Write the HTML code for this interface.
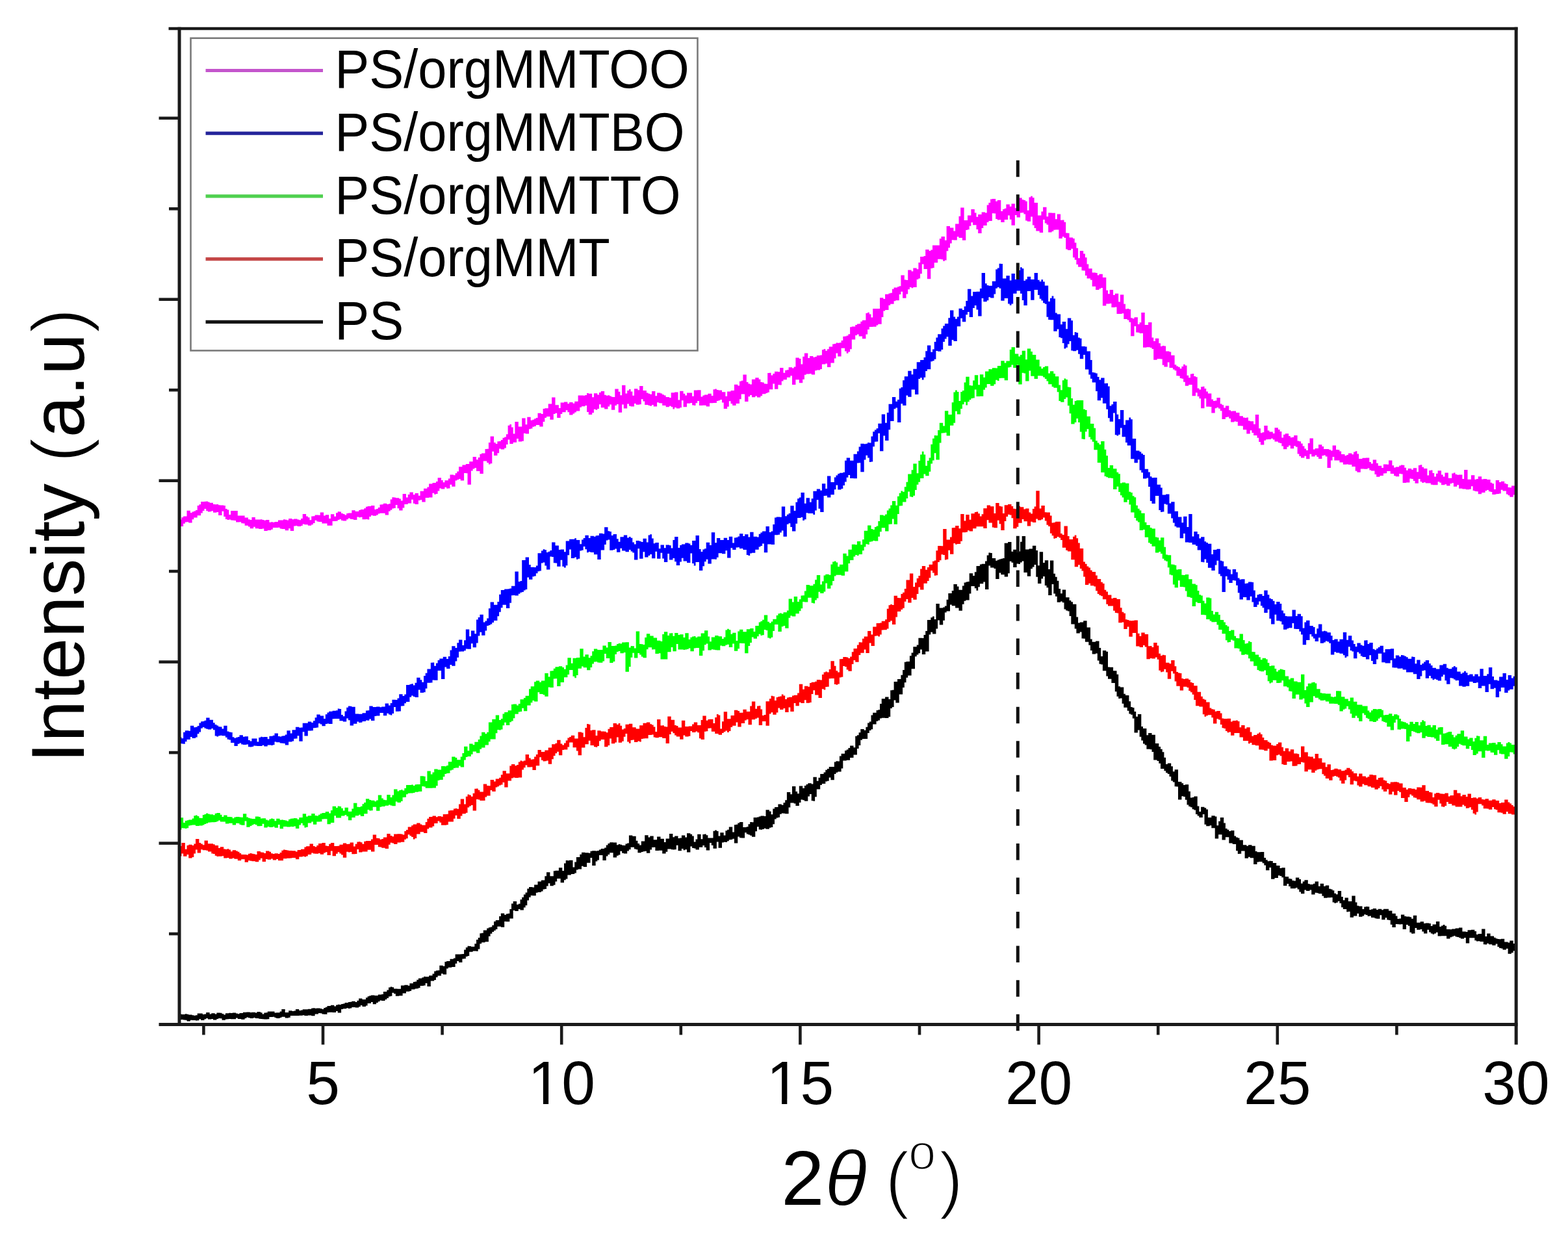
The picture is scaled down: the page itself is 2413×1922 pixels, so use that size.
<!DOCTYPE html>
<html><head><meta charset="utf-8"><title>XRD patterns</title>
<style>html,body{margin:0;padding:0;background:#fff;}svg{display:block;}
text{font-family:"Liberation Sans",Arial,sans-serif;fill:#000;}</style></head>
<body><svg width="2413" height="1922" viewBox="0 0 2413 1922">
<rect width="2413" height="1922" fill="#fff"/>
<path d="M276.7,799.6L279.4,799.6L279.4,796.2L282.1,796.2L282.1,794.5L284.8,794.5L284.8,794.5L287.5,794.5L287.5,785.7L290.2,785.7L290.2,785.7L292.9,785.7L292.9,789.1L295.6,789.1L295.6,787.5L298.3,787.5L298.3,786.5L301.0,786.5L301.0,784.9L303.7,784.9L303.7,778.1L306.4,778.1L306.4,776.3L309.1,776.3L309.1,772.0L311.8,772.0L311.8,772.0L314.5,772.0L314.5,771.8L317.2,771.8L317.2,771.5L319.9,771.5L319.9,772.6L322.6,772.6L322.6,773.7L325.3,773.7L325.3,773.7L328.0,773.7L328.0,776.1L330.7,776.1L330.7,776.3L333.4,776.3L333.4,776.1L336.1,776.1L336.1,777.3L338.8,777.3L338.8,777.5L341.5,777.5L341.5,777.5L344.2,777.5L344.2,778.0L346.9,778.0L346.9,782.9L349.6,782.9L349.6,784.5L352.3,784.5L352.3,792.0L355.0,792.0L355.0,786.1L357.7,786.1L357.7,786.1L360.4,786.1L360.4,786.1L363.1,786.1L363.1,786.1L365.8,786.1L365.8,793.4L368.5,793.4L368.5,793.6L371.2,793.6L371.2,793.4L373.9,793.4L373.9,793.4L376.6,793.4L376.6,796.6L379.3,796.6L379.3,796.6L382.0,796.6L382.0,799.2L384.7,799.2L384.7,799.9L387.4,799.9L387.4,795.9L390.1,795.9L390.1,795.9L392.8,795.9L392.8,799.5L395.5,799.5L395.5,799.4L398.2,799.4L398.2,799.4L400.9,799.4L400.9,799.2L403.6,799.2L403.6,799.9L406.3,799.9L406.3,800.7L409.0,800.7L409.0,800.1L411.7,800.1L411.7,800.1L414.4,800.1L414.4,803.7L417.1,803.7L417.1,803.3L419.8,803.3L419.8,803.8L422.5,803.8L422.5,803.1L425.2,803.1L425.2,803.1L427.9,803.1L427.9,800.5L430.6,800.5L430.6,800.5L433.3,800.5L433.3,800.4L436.0,800.4L436.0,799.3L438.7,799.3L438.7,799.8L441.4,799.8L441.4,800.6L444.1,800.6L444.1,797.9L446.8,797.9L446.8,797.9L449.5,797.9L449.5,799.3L452.2,799.3L452.2,798.4L454.9,798.4L454.9,798.4L457.6,798.4L457.6,799.6L460.3,799.6L460.3,800.2L463.0,800.2L463.0,798.0L465.7,798.0L465.7,791.1L468.4,791.1L468.4,791.1L471.1,791.1L471.1,794.4L473.8,794.4L473.8,796.3L476.5,796.3L476.5,800.2L479.2,800.2L479.2,794.6L481.9,794.6L481.9,794.3L484.6,794.3L484.6,792.5L487.3,792.5L487.3,792.5L490.0,792.5L490.0,792.7L492.7,792.7L492.7,788.5L495.4,788.5L495.4,788.5L498.1,788.5L498.1,793.5L500.8,793.5L500.8,792.3L503.5,792.3L503.5,792.3L506.2,792.3L506.2,797.9L508.9,797.9L508.9,791.2L511.6,791.2L511.6,791.2L514.3,791.2L514.3,794.7L517.0,794.7L517.0,789.2L519.7,789.2L519.7,787.3L522.4,787.3L522.4,787.6L525.1,787.6L525.1,790.1L527.8,790.1L527.8,791.0L530.5,791.0L530.5,792.6L533.2,792.6L533.2,790.1L535.9,790.1L535.9,789.6L538.6,789.6L538.6,789.6L541.3,789.6L541.3,785.3L544.0,785.3L544.0,785.3L546.7,785.3L546.7,787.1L549.4,787.1L549.4,787.1L552.1,787.1L552.1,785.0L554.8,785.0L554.8,784.1L557.5,784.1L557.5,784.1L560.2,784.1L560.2,782.2L562.9,782.2L562.9,779.7L565.6,779.7L565.6,779.0L568.3,779.0L568.3,779.0L571.0,779.0L571.0,778.1L573.7,778.1L573.7,778.1L576.4,778.1L576.4,784.1L579.1,784.1L579.1,783.0L581.8,783.0L581.8,781.0L584.5,781.0L584.5,776.6L587.2,776.6L587.2,776.3L589.9,776.3L589.9,774.8L592.6,774.8L592.6,774.8L595.3,774.8L595.3,775.9L598.0,775.9L598.0,775.3L600.7,775.3L600.7,768.6L603.4,768.6L603.4,765.3L606.1,765.3L606.1,765.6L608.8,765.6L608.8,766.3L611.5,766.3L611.5,766.3L614.2,766.3L614.2,767.5L616.9,767.5L616.9,770.5L619.6,770.5L619.6,760.1L622.3,760.1L622.3,760.1L625.0,760.1L625.0,765.4L627.7,765.4L627.7,760.9L630.4,760.9L630.4,757.6L633.1,757.6L633.1,757.6L635.8,757.6L635.8,761.2L638.5,761.2L638.5,758.9L641.2,758.9L641.2,758.9L643.9,758.9L643.9,762.7L646.6,762.7L646.6,755.7L649.3,755.7L649.3,755.7L652.0,755.7L652.0,751.8L654.7,751.8L654.7,751.8L657.4,751.8L657.4,749.5L660.1,749.5L660.1,744.6L662.8,744.6L662.8,744.6L665.5,744.6L665.5,742.9L668.2,742.9L668.2,742.9L670.9,742.9L670.9,741.1L673.6,741.1L673.6,735.2L676.3,735.2L676.3,735.2L679.0,735.2L679.0,739.1L681.7,739.1L681.7,742.2L684.4,742.2L684.4,739.3L687.1,739.3L687.1,739.3L689.8,739.3L689.8,736.5L692.5,736.5L692.5,730.5L695.2,730.5L695.2,730.5L697.9,730.5L697.9,731.2L700.6,731.2L700.6,728.3L703.3,728.3L703.3,725.4L706.0,725.4L706.0,718.3L708.7,718.3L708.7,718.3L711.4,718.3L711.4,715.4L714.1,715.4L714.1,715.4L716.8,715.4L716.8,714.1L719.5,714.1L719.5,714.1L722.2,714.1L722.2,710.3L724.9,710.3L724.9,710.3L727.6,710.3L727.6,703.0L730.3,703.0L730.3,703.0L733.0,703.0L733.0,707.2L735.7,707.2L735.7,704.0L738.4,704.0L738.4,698.7L741.1,698.7L741.1,697.5L743.8,697.5L743.8,697.5L746.5,697.5L746.5,690.9L749.2,690.9L749.2,690.7L751.9,690.7L751.9,681.0L754.6,681.0L754.6,671.6L757.3,671.6L757.3,671.6L760.0,671.6L760.0,680.9L762.7,680.9L762.7,682.9L765.4,682.9L765.4,679.2L768.1,679.2L768.1,678.9L770.8,678.9L770.8,676.9L773.5,676.9L773.5,673.8L776.2,673.8L776.2,672.5L778.9,672.5L778.9,668.2L781.6,668.2L781.6,654.8L784.3,654.8L784.3,652.9L787.0,652.9L787.0,657.6L789.7,657.6L789.7,667.6L792.4,667.6L792.4,649.0L795.1,649.0L795.1,649.0L797.8,649.0L797.8,656.6L800.5,656.6L800.5,656.4L803.2,656.4L803.2,643.6L805.9,643.6L805.9,643.6L808.6,643.6L808.6,653.3L811.3,653.3L811.3,641.8L814.0,641.8L814.0,641.8L816.7,641.8L816.7,646.8L819.4,646.8L819.4,645.8L822.1,645.8L822.1,644.3L824.8,644.3L824.8,643.1L827.5,643.1L827.5,635.7L830.2,635.7L830.2,635.7L832.9,635.7L832.9,636.9L835.6,636.9L835.6,629.1L838.3,629.1L838.3,628.3L841.0,628.3L841.0,628.3L843.7,628.3L843.7,621.5L846.4,621.5L846.4,621.5L849.1,621.5L849.1,611.5L851.8,611.5L851.8,611.5L854.5,611.5L854.5,623.3L857.2,623.3L857.2,623.3L859.9,623.3L859.9,628.0L862.6,628.0L862.6,619.6L865.3,619.6L865.3,619.6L868.0,619.6L868.0,618.4L870.7,618.4L870.7,618.4L873.4,618.4L873.4,621.3L876.1,621.3L876.1,618.9L878.8,618.9L878.8,618.9L881.5,618.9L881.5,620.8L884.2,620.8L884.2,617.7L886.9,617.7L886.9,617.7L889.6,617.7L889.6,608.6L892.3,608.6L892.3,608.5L895.0,608.5L895.0,608.5L897.7,608.5L897.7,608.8L900.4,608.8L900.4,607.9L903.1,607.9L903.1,605.1L905.8,605.1L905.8,605.8L908.5,605.8L908.5,605.8L911.2,605.8L911.2,611.2L913.9,611.2L913.9,605.3L916.6,605.3L916.6,605.3L919.3,605.3L919.3,607.4L922.0,607.4L922.0,604.0L924.7,604.0L924.7,602.1L927.4,602.1L927.4,602.1L930.1,602.1L930.1,607.8L932.8,607.8L932.8,608.7L935.5,608.7L935.5,608.3L938.2,608.3L938.2,609.4L940.9,609.4L940.9,610.7L943.6,610.7L943.6,611.1L946.3,611.1L946.3,598.4L949.0,598.4L949.0,598.4L951.7,598.4L951.7,602.8L954.4,602.8L954.4,608.2L957.1,608.2L957.1,592.8L959.8,592.8L959.8,592.8L962.5,592.8L962.5,605.4L965.2,605.4L965.2,601.0L967.9,601.0L967.9,599.0L970.6,599.0L970.6,602.5L973.3,602.5L973.3,608.8L976.0,608.8L976.0,598.3L978.7,598.3L978.7,598.3L981.4,598.3L981.4,600.3L984.1,600.3L984.1,594.1L986.8,594.1L986.8,594.1L989.5,594.1L989.5,600.9L992.2,600.9L992.2,600.9L994.9,600.9L994.9,604.4L997.6,604.4L997.6,605.8L1000.3,605.8L1000.3,606.7L1003.0,606.7L1003.0,601.9L1005.7,601.9L1005.7,601.9L1008.4,601.9L1008.4,609.3L1011.1,609.3L1011.1,604.4L1013.8,604.4L1013.8,604.4L1016.5,604.4L1016.5,605.4L1019.2,605.4L1019.2,607.2L1021.9,607.2L1021.9,608.5L1024.6,608.5L1024.6,611.0L1027.3,611.0L1027.3,611.0L1030.0,611.0L1030.0,611.9L1032.7,611.9L1032.7,604.3L1035.4,604.3L1035.4,604.3L1038.1,604.3L1038.1,603.5L1040.8,603.5L1040.8,603.5L1043.5,603.5L1043.5,615.4L1046.2,615.4L1046.2,601.8L1048.9,601.8L1048.9,601.8L1051.6,601.8L1051.6,605.8L1054.3,605.8L1054.3,608.4L1057.0,608.4L1057.0,604.5L1059.7,604.5L1059.7,604.5L1062.4,604.5L1062.4,604.5L1065.1,604.5L1065.1,609.8L1067.8,609.8L1067.8,600.4L1070.5,600.4L1070.5,600.4L1073.2,600.4L1073.2,600.3L1075.9,600.3L1075.9,600.3L1078.6,600.3L1078.6,610.4L1081.3,610.4L1081.3,608.6L1084.0,608.6L1084.0,607.5L1086.7,607.5L1086.7,607.5L1089.4,607.5L1089.4,605.7L1092.1,605.7L1092.1,605.7L1094.8,605.7L1094.8,609.0L1097.5,609.0L1097.5,599.3L1100.2,599.3L1100.2,598.6L1102.9,598.6L1102.9,600.0L1105.6,600.0L1105.6,600.6L1108.3,600.6L1108.3,600.6L1111.0,600.6L1111.0,603.2L1113.7,603.2L1113.7,603.2L1116.4,603.2L1116.4,609.8L1119.1,609.8L1119.1,602.6L1121.8,602.6L1121.8,602.6L1124.5,602.6L1124.5,601.0L1127.2,601.0L1127.2,601.0L1129.9,601.0L1129.9,591.7L1132.6,591.7L1132.6,591.7L1135.3,591.7L1135.3,593.6L1138.0,593.6L1138.0,586.8L1140.7,586.8L1140.7,585.7L1143.4,585.7L1143.4,576.5L1146.1,576.5L1146.1,576.5L1148.8,576.5L1148.8,588.0L1151.5,588.0L1151.5,590.5L1154.2,590.5L1154.2,591.6L1156.9,591.6L1156.9,583.7L1159.6,583.7L1159.6,583.7L1162.3,583.7L1162.3,581.2L1165.0,581.2L1165.0,581.2L1167.7,581.2L1167.7,583.7L1170.4,583.7L1170.4,588.1L1173.1,588.1L1173.1,588.5L1175.8,588.5L1175.8,590.6L1178.5,590.6L1178.5,590.8L1181.2,590.8L1181.2,574.0L1183.9,574.0L1183.9,573.8L1186.6,573.8L1186.6,577.4L1189.3,577.4L1189.3,574.9L1192.0,574.9L1192.0,571.8L1194.7,571.8L1194.7,571.8L1197.4,571.8L1197.4,572.2L1200.1,572.2L1200.1,565.9L1202.8,565.9L1202.8,565.9L1205.5,565.9L1205.5,573.7L1208.2,573.7L1208.2,569.7L1210.9,569.7L1210.9,569.2L1213.6,569.2L1213.6,565.3L1216.3,565.3L1216.3,565.3L1219.0,565.3L1219.0,566.6L1221.7,566.6L1221.7,564.4L1224.4,564.4L1224.4,550.5L1227.1,550.5L1227.1,550.5L1229.8,550.5L1229.8,551.9L1232.5,551.9L1232.5,560.4L1235.2,560.4L1235.2,548.8L1237.9,548.8L1237.9,543.5L1240.6,543.5L1240.6,543.5L1243.3,543.5L1243.3,550.9L1246.0,550.9L1246.0,548.1L1248.7,548.1L1248.7,548.1L1251.4,548.1L1251.4,549.8L1254.1,549.8L1254.1,548.9L1256.8,548.9L1256.8,547.0L1259.5,547.0L1259.5,547.0L1262.2,547.0L1262.2,546.6L1264.9,546.6L1264.9,538.2L1267.6,538.2L1267.6,536.9L1270.3,536.9L1270.3,539.7L1273.0,539.7L1273.0,537.2L1275.7,537.2L1275.7,533.6L1278.4,533.6L1278.4,533.6L1281.1,533.6L1281.1,529.5L1283.8,529.5L1283.8,529.1L1286.5,529.1L1286.5,527.6L1289.2,527.6L1289.2,527.8L1291.9,527.8L1291.9,527.2L1294.6,527.2L1294.6,524.0L1297.3,524.0L1297.3,517.8L1300.0,517.8L1300.0,517.6L1302.7,517.6L1302.7,516.4L1305.4,516.4L1305.4,514.3L1308.1,514.3L1308.1,503.3L1310.8,503.3L1310.8,502.6L1313.5,502.6L1313.5,502.6L1316.2,502.6L1316.2,500.0L1318.9,500.0L1318.9,498.6L1321.6,498.6L1321.6,498.2L1324.3,498.2L1324.3,494.8L1327.0,494.8L1327.0,492.7L1329.7,492.7L1329.7,492.7L1332.4,492.7L1332.4,482.1L1335.1,482.1L1335.1,480.7L1337.8,480.7L1337.8,483.5L1340.5,483.5L1340.5,488.5L1343.2,488.5L1343.2,475.0L1345.9,475.0L1345.9,475.0L1348.6,475.0L1348.6,475.0L1351.3,475.0L1351.3,475.0L1354.0,475.0L1354.0,458.3L1356.7,458.3L1356.7,458.3L1359.4,458.3L1359.4,460.1L1362.1,460.1L1362.1,452.8L1364.8,452.8L1364.8,452.8L1367.5,452.8L1367.5,451.4L1370.2,451.4L1370.2,450.8L1372.9,450.8L1372.9,444.7L1375.6,444.7L1375.6,442.6L1378.3,442.6L1378.3,442.6L1381.0,442.6L1381.0,441.2L1383.7,441.2L1383.7,440.3L1386.4,440.3L1386.4,423.5L1389.1,423.5L1389.1,423.5L1391.8,423.5L1391.8,430.4L1394.5,430.4L1394.5,430.9L1397.2,430.9L1397.2,415.6L1399.9,415.6L1399.9,415.6L1402.6,415.6L1402.6,417.4L1405.3,417.4L1405.3,412.5L1408.0,412.5L1408.0,412.5L1410.7,412.5L1410.7,414.2L1413.4,414.2L1413.4,403.9L1416.1,403.9L1416.1,394.9L1418.8,394.9L1418.8,394.9L1421.5,394.9L1421.5,394.1L1424.2,394.1L1424.2,384.1L1426.9,384.1L1426.9,384.1L1429.6,384.1L1429.6,386.0L1432.3,386.0L1432.3,384.5L1435.0,384.5L1435.0,377.6L1437.7,377.6L1437.7,377.6L1440.4,377.6L1440.4,377.4L1443.1,377.4L1443.1,377.4L1445.8,377.4L1445.8,367.2L1448.5,367.2L1448.5,364.1L1451.2,364.1L1451.2,364.1L1453.9,364.1L1453.9,369.7L1456.6,369.7L1456.6,347.9L1459.3,347.9L1459.3,347.9L1462.0,347.9L1462.0,350.6L1464.7,350.6L1464.7,350.6L1467.4,350.6L1467.4,355.6L1470.1,355.6L1470.1,344.6L1472.8,344.6L1472.8,344.6L1475.5,344.6L1475.5,332.8L1478.2,332.8L1478.2,319.5L1480.9,319.5L1480.9,319.5L1483.6,319.5L1483.6,339.1L1486.3,339.1L1486.3,339.1L1489.0,339.1L1489.0,331.6L1491.7,331.6L1491.7,331.6L1494.4,331.6L1494.4,322.0L1497.1,322.0L1497.1,322.0L1499.8,322.0L1499.8,327.5L1502.5,327.5L1502.5,333.8L1505.2,333.8L1505.2,330.0L1507.9,330.0L1507.9,330.0L1510.6,330.0L1510.6,326.4L1513.3,326.4L1513.3,326.4L1516.0,326.4L1516.0,327.5L1518.7,327.5L1518.7,315.5L1521.4,315.5L1521.4,311.9L1524.1,311.9L1524.1,306.4L1526.8,306.4L1526.8,306.0L1529.5,306.0L1529.5,306.0L1532.2,306.0L1532.2,309.8L1534.9,309.8L1534.9,308.0L1537.6,308.0L1537.6,308.0L1540.3,308.0L1540.3,325.0L1543.0,325.0L1543.0,321.9L1545.7,321.9L1545.7,320.8L1548.4,320.8L1548.4,314.6L1551.1,314.6L1551.1,314.6L1553.8,314.6L1553.8,317.8L1556.5,317.8L1556.5,313.5L1559.2,313.5L1559.2,313.5L1561.9,313.5L1561.9,320.3L1564.6,320.3L1564.6,323.5L1567.3,323.5L1567.3,304.5L1570.0,304.5L1570.0,304.5L1572.7,304.5L1572.7,307.2L1575.4,307.2L1575.4,307.9L1578.1,307.9L1578.1,309.8L1580.8,309.8L1580.8,323.8L1583.5,323.8L1583.5,303.4L1586.2,303.4L1586.2,301.7L1588.9,301.7L1588.9,304.3L1591.6,304.3L1591.6,312.0L1594.3,312.0L1594.3,312.0L1597.0,312.0L1597.0,331.4L1599.7,331.4L1599.7,331.4L1602.4,331.4L1602.4,325.6L1605.1,325.6L1605.1,318.8L1607.8,318.8L1607.8,318.8L1610.5,318.8L1610.5,333.2L1613.2,333.2L1613.2,327.5L1615.9,327.5L1615.9,327.5L1618.6,327.5L1618.6,327.7L1621.3,327.7L1621.3,327.7L1624.0,327.7L1624.0,337.2L1626.7,337.2L1626.7,329.4L1629.4,329.4L1629.4,329.4L1632.1,329.4L1632.1,338.8L1634.8,338.8L1634.8,338.5L1637.5,338.5L1637.5,341.8L1640.2,341.8L1640.2,358.4L1642.9,358.4L1642.9,358.7L1645.6,358.7L1645.6,365.5L1648.3,365.5L1648.3,365.5L1651.0,365.5L1651.0,367.0L1653.7,367.0L1653.7,373.4L1656.4,373.4L1656.4,381.7L1659.1,381.7L1659.1,397.2L1661.8,397.2L1661.8,386.0L1664.5,386.0L1664.5,386.0L1667.2,386.0L1667.2,390.6L1669.9,390.6L1669.9,396.3L1672.6,396.3L1672.6,406.4L1675.3,406.4L1675.3,413.2L1678.0,413.2L1678.0,413.2L1680.7,413.2L1680.7,419.4L1683.4,419.4L1683.4,419.4L1686.1,419.4L1686.1,420.1L1688.8,420.1L1688.8,423.5L1691.5,423.5L1691.5,421.7L1694.2,421.7L1694.2,421.7L1696.9,421.7L1696.9,426.9L1699.6,426.9L1699.6,426.9L1702.3,426.9L1702.3,446.7L1705.0,446.7L1705.0,452.3L1707.7,452.3L1707.7,445.9L1710.4,445.9L1710.4,445.9L1713.1,445.9L1713.1,454.1L1715.8,454.1L1715.8,451.8L1718.5,451.8L1718.5,451.8L1721.2,451.8L1721.2,464.4L1723.9,464.4L1723.9,453.5L1726.6,453.5L1726.6,453.5L1729.3,453.5L1729.3,467.8L1732.0,467.8L1732.0,475.5L1734.7,475.5L1734.7,475.1L1737.4,475.1L1737.4,476.1L1740.1,476.1L1740.1,489.3L1742.8,489.3L1742.8,490.3L1745.5,490.3L1745.5,488.3L1748.2,488.3L1748.2,488.3L1750.9,488.3L1750.9,499.1L1753.6,499.1L1753.6,496.3L1756.3,496.3L1756.3,481.0L1759.0,481.0L1759.0,481.0L1761.7,481.0L1761.7,500.0L1764.4,500.0L1764.4,500.0L1767.1,500.0L1767.1,496.0L1769.8,496.0L1769.8,496.0L1772.5,496.0L1772.5,519.6L1775.2,519.6L1775.2,524.9L1777.9,524.9L1777.9,520.7L1780.6,520.7L1780.6,520.7L1783.3,520.7L1783.3,528.3L1786.0,528.3L1786.0,533.1L1788.7,533.1L1788.7,532.1L1791.4,532.1L1791.4,532.5L1794.1,532.5L1794.1,540.6L1796.8,540.6L1796.8,540.6L1799.5,540.6L1799.5,541.5L1802.2,541.5L1802.2,546.8L1804.9,546.8L1804.9,546.8L1807.6,546.8L1807.6,561.3L1810.3,561.3L1810.3,563.6L1813.0,563.6L1813.0,564.7L1815.7,564.7L1815.7,567.3L1818.4,567.3L1818.4,564.0L1821.1,564.0L1821.1,560.8L1823.8,560.8L1823.8,562.5L1826.5,562.5L1826.5,577.8L1829.2,577.8L1829.2,581.2L1831.9,581.2L1831.9,575.4L1834.6,575.4L1834.6,575.0L1837.3,575.0L1837.3,579.0L1840.0,579.0L1840.0,580.2L1842.7,580.2L1842.7,597.4L1845.4,597.4L1845.4,599.5L1848.1,599.5L1848.1,595.2L1850.8,595.2L1850.8,594.8L1853.5,594.8L1853.5,598.0L1856.2,598.0L1856.2,602.5L1858.9,602.5L1858.9,605.6L1861.6,605.6L1861.6,605.6L1864.3,605.6L1864.3,614.6L1867.0,614.6L1867.0,616.9L1869.7,616.9L1869.7,616.5L1872.4,616.5L1872.4,612.1L1875.1,612.1L1875.1,612.1L1877.8,612.1L1877.8,621.4L1880.5,621.4L1880.5,623.2L1883.2,623.2L1883.2,627.6L1885.9,627.6L1885.9,624.6L1888.6,624.6L1888.6,624.6L1891.3,624.6L1891.3,631.2L1894.0,631.2L1894.0,632.7L1896.7,632.7L1896.7,632.4L1899.4,632.4L1899.4,632.4L1902.1,632.4L1902.1,634.9L1904.8,634.9L1904.8,634.9L1907.5,634.9L1907.5,640.2L1910.2,640.2L1910.2,640.2L1912.9,640.2L1912.9,642.4L1915.6,642.4L1915.6,642.9L1918.3,642.9L1918.3,642.5L1921.0,642.5L1921.0,647.5L1923.7,647.5L1923.7,648.3L1926.4,648.3L1926.4,648.3L1929.1,648.3L1929.1,652.7L1931.8,652.7L1931.8,637.9L1934.5,637.9L1934.5,637.9L1937.2,637.9L1937.2,659.3L1939.9,659.3L1939.9,666.2L1942.6,666.2L1942.6,665.2L1945.3,665.2L1945.3,655.1L1948.0,655.1L1948.0,655.1L1950.7,655.1L1950.7,662.5L1953.4,662.5L1953.4,664.6L1956.1,664.6L1956.1,664.6L1958.8,664.6L1958.8,667.0L1961.5,667.0L1961.5,658.3L1964.2,658.3L1964.2,658.3L1966.9,658.3L1966.9,661.0L1969.6,661.0L1969.6,663.9L1972.3,663.9L1972.3,673.5L1975.0,673.5L1975.0,668.7L1977.7,668.7L1977.7,667.2L1980.4,667.2L1980.4,667.2L1983.1,667.2L1983.1,671.1L1985.8,671.1L1985.8,673.2L1988.5,673.2L1988.5,672.8L1991.2,672.8L1991.2,669.9L1993.9,669.9L1993.9,669.9L1996.6,669.9L1996.6,678.5L1999.3,678.5L1999.3,679.2L2002.0,679.2L2002.0,682.6L2004.7,682.6L2004.7,686.5L2007.4,686.5L2007.4,690.5L2010.1,690.5L2010.1,693.1L2012.8,693.1L2012.8,681.9L2015.5,681.9L2015.5,674.4L2018.2,674.4L2018.2,674.4L2020.9,674.4L2020.9,691.4L2023.6,691.4L2023.6,690.0L2026.3,690.0L2026.3,690.0L2029.0,690.0L2029.0,684.3L2031.7,684.3L2031.7,684.3L2034.4,684.3L2034.4,687.1L2037.1,687.1L2037.1,691.0L2039.8,691.0L2039.8,690.9L2042.5,690.9L2042.5,690.9L2045.2,690.9L2045.2,692.0L2047.9,692.0L2047.9,693.5L2050.6,693.5L2050.6,685.4L2053.3,685.4L2053.3,685.4L2056.0,685.4L2056.0,692.1L2058.7,692.1L2058.7,692.2L2061.4,692.2L2061.4,694.5L2064.1,694.5L2064.1,699.1L2066.8,699.1L2066.8,699.1L2069.5,699.1L2069.5,701.3L2072.2,701.3L2072.2,700.0L2074.9,700.0L2074.9,697.6L2077.6,697.6L2077.6,697.6L2080.3,697.6L2080.3,699.3L2083.0,699.3L2083.0,695.4L2085.7,695.4L2085.7,694.3L2088.4,694.3L2088.4,698.5L2091.1,698.5L2091.1,706.0L2093.8,706.0L2093.8,706.0L2096.5,706.0L2096.5,704.7L2099.2,704.7L2099.2,704.7L2101.9,704.7L2101.9,704.5L2104.6,704.5L2104.6,704.5L2107.3,704.5L2107.3,711.0L2110.0,711.0L2110.0,713.5L2112.7,713.5L2112.7,707.4L2115.4,707.4L2115.4,707.4L2118.1,707.4L2118.1,712.8L2120.8,712.8L2120.8,716.7L2123.5,716.7L2123.5,716.7L2126.2,716.7L2126.2,720.1L2128.9,720.1L2128.9,714.4L2131.6,714.4L2131.6,714.4L2134.3,714.4L2134.3,714.7L2137.0,714.7L2137.0,708.4L2139.7,708.4L2139.7,708.4L2142.4,708.4L2142.4,716.2L2145.1,716.2L2145.1,719.6L2147.8,719.6L2147.8,718.4L2150.5,718.4L2150.5,718.4L2153.2,718.4L2153.2,716.5L2155.9,716.5L2155.9,715.5L2158.6,715.5L2158.6,715.7L2161.3,715.7L2161.3,719.7L2164.0,719.7L2164.0,723.7L2166.7,723.7L2166.7,721.1L2169.4,721.1L2169.4,721.1L2172.1,721.1L2172.1,722.7L2174.8,722.7L2174.8,720.2L2177.5,720.2L2177.5,720.2L2180.2,720.2L2180.2,726.3L2182.9,726.3L2182.9,715.9L2185.6,715.9L2185.6,715.2L2188.3,715.2L2188.3,718.8L2191.0,718.8L2191.0,720.9L2193.7,720.9L2193.7,720.9L2196.4,720.9L2196.4,731.4L2199.1,731.4L2199.1,723.9L2201.8,723.9L2201.8,723.4L2204.5,723.4L2204.5,728.0L2207.2,728.0L2207.2,733.4L2209.9,733.4L2209.9,728.7L2212.6,728.7L2212.6,724.3L2215.3,724.3L2215.3,724.3L2218.0,724.3L2218.0,730.5L2220.7,730.5L2220.7,733.5L2223.4,733.5L2223.4,727.6L2226.1,727.6L2226.1,727.6L2228.8,727.6L2228.8,735.7L2231.5,735.7L2231.5,735.7L2234.2,735.7L2234.2,728.6L2236.9,728.6L2236.9,727.5L2239.6,727.5L2239.6,730.1L2242.3,730.1L2242.3,730.7L2245.0,730.7L2245.0,730.5L2247.7,730.5L2247.7,730.5L2250.4,730.5L2250.4,737.0L2253.1,737.0L2253.1,723.0L2255.8,723.0L2255.8,723.0L2258.5,723.0L2258.5,737.8L2261.2,737.8L2261.2,737.8L2263.9,737.8L2263.9,731.3L2266.6,731.3L2266.6,731.3L2269.3,731.3L2269.3,737.8L2272.0,737.8L2272.0,736.9L2274.7,736.9L2274.7,733.2L2277.4,733.2L2277.4,733.2L2280.1,733.2L2280.1,737.4L2282.8,737.4L2282.8,737.0L2285.5,737.0L2285.5,737.0L2288.2,737.0L2288.2,737.9L2290.9,737.9L2290.9,738.0L2293.6,738.0L2293.6,742.7L2296.3,742.7L2296.3,744.2L2299.0,744.2L2299.0,753.1L2301.7,753.1L2301.7,739.1L2304.4,739.1L2304.4,739.1L2307.1,739.1L2307.1,742.0L2309.8,742.0L2309.8,740.8L2312.5,740.8L2312.5,740.8L2315.2,740.8L2315.2,744.1L2317.9,744.1L2317.9,745.1L2320.6,745.1L2320.6,749.9L2323.3,749.9L2323.3,750.2L2326.0,750.2L2326.0,747.5L2328.7,747.5L2328.7,747.5L2331.4,747.5L2331.4,752.4L2333.0,752.4L2333.0,760.5L2331.4,760.5L2331.4,761.5L2328.7,761.5L2328.7,764.8L2326.0,764.8L2326.0,764.8L2323.3,764.8L2323.3,762.2L2320.6,762.2L2320.6,760.4L2317.9,760.4L2317.9,755.4L2315.2,755.4L2315.2,755.4L2312.5,755.4L2312.5,753.7L2309.8,753.7L2309.8,759.6L2307.1,759.6L2307.1,760.1L2304.4,760.1L2304.4,760.3L2301.7,760.3L2301.7,760.9L2299.0,760.9L2299.0,760.9L2296.3,760.9L2296.3,756.9L2293.6,756.9L2293.6,756.2L2290.9,756.2L2290.9,753.9L2288.2,753.9L2288.2,755.2L2285.5,755.2L2285.5,758.1L2282.8,758.1L2282.8,758.1L2280.1,758.1L2280.1,760.2L2277.4,760.2L2277.4,760.2L2274.7,760.2L2274.7,756.2L2272.0,756.2L2272.0,755.9L2269.3,755.9L2269.3,754.9L2266.6,754.9L2266.6,748.2L2263.9,748.2L2263.9,752.7L2261.2,752.7L2261.2,753.3L2258.5,753.3L2258.5,753.3L2255.8,753.3L2255.8,752.5L2253.1,752.5L2253.1,752.5L2250.4,752.5L2250.4,751.8L2247.7,751.8L2247.7,751.8L2245.0,751.8L2245.0,746.3L2242.3,746.3L2242.3,748.7L2239.6,748.7L2239.6,748.7L2236.9,748.7L2236.9,743.2L2234.2,743.2L2234.2,744.2L2231.5,744.2L2231.5,747.5L2228.8,747.5L2228.8,747.5L2226.1,747.5L2226.1,745.2L2223.4,745.2L2223.4,746.3L2220.7,746.3L2220.7,746.3L2218.0,746.3L2218.0,742.7L2215.3,742.7L2215.3,741.2L2212.6,741.2L2212.6,746.3L2209.9,746.3L2209.9,746.3L2207.2,746.3L2207.2,746.2L2204.5,746.2L2204.5,745.7L2201.8,745.7L2201.8,743.4L2199.1,743.4L2199.1,743.5L2196.4,743.5L2196.4,743.5L2193.7,743.5L2193.7,742.2L2191.0,742.2L2191.0,743.0L2188.3,743.0L2188.3,741.2L2185.6,741.2L2185.6,737.0L2182.9,737.0L2182.9,743.7L2180.2,743.7L2180.2,743.7L2177.5,743.7L2177.5,739.9L2174.8,739.9L2174.8,737.0L2172.1,737.0L2172.1,736.6L2169.4,736.6L2169.4,742.6L2166.7,742.6L2166.7,742.6L2164.0,742.6L2164.0,743.1L2161.3,743.1L2161.3,743.1L2158.6,743.1L2158.6,729.5L2155.9,729.5L2155.9,729.1L2153.2,729.1L2153.2,733.3L2150.5,733.3L2150.5,733.3L2147.8,733.3L2147.8,732.3L2145.1,732.3L2145.1,728.9L2142.4,728.9L2142.4,728.9L2139.7,728.9L2139.7,725.0L2137.0,725.0L2137.0,725.0L2134.3,725.0L2134.3,728.3L2131.6,728.3L2131.6,728.4L2128.9,728.4L2128.9,732.0L2126.2,732.0L2126.2,732.0L2123.5,732.0L2123.5,733.8L2120.8,733.8L2120.8,733.8L2118.1,733.8L2118.1,729.9L2115.4,729.9L2115.4,724.6L2112.7,724.6L2112.7,724.6L2110.0,724.6L2110.0,723.6L2107.3,723.6L2107.3,720.4L2104.6,720.4L2104.6,721.8L2101.9,721.8L2101.9,721.8L2099.2,721.8L2099.2,721.5L2096.5,721.5L2096.5,721.5L2093.8,721.5L2093.8,726.7L2091.1,726.7L2091.1,726.8L2088.4,726.8L2088.4,724.7L2085.7,724.7L2085.7,717.9L2083.0,717.9L2083.0,717.9L2080.3,717.9L2080.3,715.1L2077.6,715.1L2077.6,715.1L2074.9,715.1L2074.9,714.6L2072.2,714.6L2072.2,714.7L2069.5,714.7L2069.5,714.7L2066.8,714.7L2066.8,711.4L2064.1,711.4L2064.1,711.4L2061.4,711.4L2061.4,708.6L2058.7,708.6L2058.7,708.6L2056.0,708.6L2056.0,708.6L2053.3,708.6L2053.3,702.9L2050.6,702.9L2050.6,708.4L2047.9,708.4L2047.9,719.9L2045.2,719.9L2045.2,719.9L2042.5,719.9L2042.5,702.6L2039.8,702.6L2039.8,700.6L2037.1,700.6L2037.1,701.2L2034.4,701.2L2034.4,705.9L2031.7,705.9L2031.7,705.9L2029.0,705.9L2029.0,703.0L2026.3,703.0L2026.3,700.5L2023.6,700.5L2023.6,702.6L2020.9,702.6L2020.9,702.6L2018.2,702.6L2018.2,698.8L2015.5,698.8L2015.5,706.3L2012.8,706.3L2012.8,706.3L2010.1,706.3L2010.1,701.7L2007.4,701.7L2007.4,704.5L2004.7,704.5L2004.7,704.5L2002.0,704.5L2002.0,701.9L1999.3,701.9L1999.3,698.4L1996.6,698.4L1996.6,687.7L1993.9,687.7L1993.9,686.3L1991.2,686.3L1991.2,690.3L1988.5,690.3L1988.5,690.3L1985.8,690.3L1985.8,685.5L1983.1,685.5L1983.1,687.8L1980.4,687.8L1980.4,691.2L1977.7,691.2L1977.7,691.2L1975.0,691.2L1975.0,686.5L1972.3,686.5L1972.3,682.1L1969.6,682.1L1969.6,681.2L1966.9,681.2L1966.9,679.6L1964.2,679.6L1964.2,679.6L1961.5,679.6L1961.5,676.4L1958.8,676.4L1958.8,674.7L1956.1,674.7L1956.1,676.1L1953.4,676.1L1953.4,676.1L1950.7,676.1L1950.7,676.2L1948.0,676.2L1948.0,677.8L1945.3,677.8L1945.3,684.4L1942.6,684.4L1942.6,684.4L1939.9,684.4L1939.9,680.0L1937.2,680.0L1937.2,673.8L1934.5,673.8L1934.5,670.1L1931.8,670.1L1931.8,670.1L1929.1,670.1L1929.1,666.0L1926.4,666.0L1926.4,662.3L1923.7,662.3L1923.7,667.6L1921.0,667.6L1921.0,667.6L1918.3,667.6L1918.3,661.2L1915.6,661.2L1915.6,661.2L1912.9,661.2L1912.9,655.6L1910.2,655.6L1910.2,655.2L1907.5,655.2L1907.5,655.2L1904.8,655.2L1904.8,649.0L1902.1,649.0L1902.1,648.4L1899.4,648.4L1899.4,649.6L1896.7,649.6L1896.7,649.6L1894.0,649.6L1894.0,644.1L1891.3,644.1L1891.3,641.4L1888.6,641.4L1888.6,641.9L1885.9,641.9L1885.9,645.0L1883.2,645.0L1883.2,645.0L1880.5,645.0L1880.5,632.2L1877.8,632.2L1877.8,628.7L1875.1,628.7L1875.1,627.1L1872.4,627.1L1872.4,628.3L1869.7,628.3L1869.7,635.5L1867.0,635.5L1867.0,635.5L1864.3,635.5L1864.3,626.1L1861.6,626.1L1861.6,625.7L1858.9,625.7L1858.9,625.7L1856.2,625.7L1856.2,613.2L1853.5,613.2L1853.5,628.2L1850.8,628.2L1850.8,628.2L1848.1,628.2L1848.1,613.3L1845.4,613.3L1845.4,609.9L1842.7,609.9L1842.7,604.2L1840.0,604.2L1840.0,609.3L1837.3,609.3L1837.3,609.3L1834.6,609.3L1834.6,592.1L1831.9,592.1L1831.9,592.1L1829.2,592.1L1829.2,593.8L1826.5,593.8L1826.5,593.8L1823.8,593.8L1823.8,587.8L1821.1,587.8L1821.1,582.8L1818.4,582.8L1818.4,582.1L1815.7,582.1L1815.7,578.5L1813.0,578.5L1813.0,578.2L1810.3,578.2L1810.3,570.3L1807.6,570.3L1807.6,568.5L1804.9,568.5L1804.9,566.1L1802.2,566.1L1802.2,566.0L1799.5,566.0L1799.5,557.4L1796.8,557.4L1796.8,564.4L1794.1,564.4L1794.1,564.4L1791.4,564.4L1791.4,561.7L1788.7,561.7L1788.7,552.4L1786.0,552.4L1786.0,552.2L1783.3,552.2L1783.3,552.2L1780.6,552.2L1780.6,553.7L1777.9,553.7L1777.9,553.7L1775.2,553.7L1775.2,537.1L1772.5,537.1L1772.5,534.9L1769.8,534.9L1769.8,534.2L1767.1,534.2L1767.1,534.2L1764.4,534.2L1764.4,534.7L1761.7,534.7L1761.7,534.7L1759.0,534.7L1759.0,512.7L1756.3,512.7L1756.3,512.9L1753.6,512.9L1753.6,511.7L1750.9,511.7L1750.9,511.4L1748.2,511.4L1748.2,501.9L1745.5,501.9L1745.5,517.2L1742.8,517.2L1742.8,517.2L1740.1,517.2L1740.1,495.8L1737.4,495.8L1737.4,492.6L1734.7,492.6L1734.7,491.0L1732.0,491.0L1732.0,491.0L1729.3,491.0L1729.3,482.3L1726.6,482.3L1726.6,482.9L1723.9,482.9L1723.9,482.9L1721.2,482.9L1721.2,482.9L1718.5,482.9L1718.5,472.4L1715.8,472.4L1715.8,473.0L1713.1,473.0L1713.1,473.0L1710.4,473.0L1710.4,466.9L1707.7,466.9L1707.7,467.5L1705.0,467.5L1705.0,467.5L1702.3,467.5L1702.3,470.6L1699.6,470.6L1699.6,470.6L1696.9,470.6L1696.9,443.0L1694.2,443.0L1694.2,444.2L1691.5,444.2L1691.5,446.1L1688.8,446.1L1688.8,446.1L1686.1,446.1L1686.1,440.8L1683.4,440.8L1683.4,440.8L1680.7,440.8L1680.7,430.8L1678.0,430.8L1678.0,428.5L1675.3,428.5L1675.3,428.5L1672.6,428.5L1672.6,424.1L1669.9,424.1L1669.9,416.4L1667.2,416.4L1667.2,416.2L1664.5,416.2L1664.5,410.7L1661.8,410.7L1661.8,410.7L1659.1,410.7L1659.1,407.0L1656.4,407.0L1656.4,399.8L1653.7,399.8L1653.7,396.2L1651.0,396.2L1651.0,382.7L1648.3,382.7L1648.3,385.1L1645.6,385.1L1645.6,385.1L1642.9,385.1L1642.9,383.4L1640.2,383.4L1640.2,366.1L1637.5,366.1L1637.5,364.2L1634.8,364.2L1634.8,366.9L1632.1,366.9L1632.1,366.9L1629.4,366.9L1629.4,353.4L1626.7,353.4L1626.7,353.4L1624.0,353.4L1624.0,353.7L1621.3,353.7L1621.3,355.9L1618.6,355.9L1618.6,357.4L1615.9,357.4L1615.9,357.4L1613.2,357.4L1613.2,345.7L1610.5,345.7L1610.5,343.4L1607.8,343.4L1607.8,338.1L1605.1,338.1L1605.1,357.9L1602.4,357.9L1602.4,357.9L1599.7,357.9L1599.7,355.6L1597.0,355.6L1597.0,355.6L1594.3,355.6L1594.3,351.0L1591.6,351.0L1591.6,346.4L1588.9,346.4L1588.9,333.6L1586.2,333.6L1586.2,340.7L1583.5,340.7L1583.5,340.7L1580.8,340.7L1580.8,339.5L1578.1,339.5L1578.1,329.6L1575.4,329.6L1575.4,327.3L1572.7,327.3L1572.7,327.6L1570.0,327.6L1570.0,334.5L1567.3,334.5L1567.3,334.4L1564.6,334.4L1564.6,331.1L1561.9,331.1L1561.9,346.7L1559.2,346.7L1559.2,346.7L1556.5,346.7L1556.5,337.8L1553.8,337.8L1553.8,331.6L1551.1,331.6L1551.1,338.0L1548.4,338.0L1548.4,338.0L1545.7,338.0L1545.7,341.9L1543.0,341.9L1543.0,341.9L1540.3,341.9L1540.3,338.3L1537.6,338.3L1537.6,338.6L1534.9,338.6L1534.9,336.9L1532.2,336.9L1532.2,328.5L1529.5,328.5L1529.5,328.3L1526.8,328.3L1526.8,340.1L1524.1,340.1L1524.1,340.1L1521.4,340.1L1521.4,342.0L1518.7,342.0L1518.7,346.9L1516.0,346.9L1516.0,346.9L1513.3,346.9L1513.3,351.1L1510.6,351.1L1510.6,358.9L1507.9,358.9L1507.9,359.0L1505.2,359.0L1505.2,352.9L1502.5,352.9L1502.5,346.2L1499.8,346.2L1499.8,346.2L1497.1,346.2L1497.1,342.2L1494.4,342.2L1494.4,347.8L1491.7,347.8L1491.7,353.3L1489.0,353.3L1489.0,354.0L1486.3,354.0L1486.3,369.8L1483.6,369.8L1483.6,369.8L1480.9,369.8L1480.9,366.0L1478.2,366.0L1478.2,366.0L1475.5,366.0L1475.5,364.2L1472.8,364.2L1472.8,369.4L1470.1,369.4L1470.1,369.5L1467.4,369.5L1467.4,369.2L1464.7,369.2L1464.7,374.5L1462.0,374.5L1462.0,381.3L1459.3,381.3L1459.3,386.2L1456.6,386.2L1456.6,400.5L1453.9,400.5L1453.9,401.7L1451.2,401.7L1451.2,399.3L1448.5,399.3L1448.5,398.7L1445.8,398.7L1445.8,398.7L1443.1,398.7L1443.1,404.3L1440.4,404.3L1440.4,404.3L1437.7,404.3L1437.7,412.3L1435.0,412.3L1435.0,413.1L1432.3,413.1L1432.3,429.3L1429.6,429.3L1429.6,429.3L1426.9,429.3L1426.9,414.1L1424.2,414.1L1424.2,414.1L1421.5,414.1L1421.5,406.6L1418.8,406.6L1418.8,421.2L1416.1,421.2L1416.1,428.6L1413.4,428.6L1413.4,429.9L1410.7,429.9L1410.7,442.1L1408.0,442.1L1408.0,442.1L1405.3,442.1L1405.3,443.3L1402.6,443.3L1402.6,442.1L1399.9,442.1L1399.9,445.3L1397.2,445.3L1397.2,452.5L1394.5,452.5L1394.5,458.7L1391.8,458.7L1391.8,458.7L1389.1,458.7L1389.1,448.8L1386.4,448.8L1386.4,453.1L1383.7,453.1L1383.7,462.2L1381.0,462.2L1381.0,462.2L1378.3,462.2L1378.3,463.3L1375.6,463.3L1375.6,467.7L1372.9,467.7L1372.9,467.7L1370.2,467.7L1370.2,469.7L1367.5,469.7L1367.5,476.9L1364.8,476.9L1364.8,476.9L1362.1,476.9L1362.1,478.5L1359.4,478.5L1359.4,487.9L1356.7,487.9L1356.7,498.7L1354.0,498.7L1354.0,498.7L1351.3,498.7L1351.3,500.5L1348.6,500.5L1348.6,502.8L1345.9,502.8L1345.9,502.8L1343.2,502.8L1343.2,503.0L1340.5,503.0L1340.5,503.0L1337.8,503.0L1337.8,506.9L1335.1,506.9L1335.1,514.4L1332.4,514.4L1332.4,521.3L1329.7,521.3L1329.7,521.3L1327.0,521.3L1327.0,517.4L1324.3,517.4L1324.3,517.4L1321.6,517.4L1321.6,514.5L1318.9,514.5L1318.9,516.1L1316.2,516.1L1316.2,522.4L1313.5,522.4L1313.5,522.6L1310.8,522.6L1310.8,537.3L1308.1,537.3L1308.1,541.4L1305.4,541.4L1305.4,543.7L1302.7,543.7L1302.7,540.6L1300.0,540.6L1300.0,535.7L1297.3,535.7L1297.3,535.7L1294.6,535.7L1294.6,548.4L1291.9,548.4L1291.9,548.4L1289.2,548.4L1289.2,543.4L1286.5,543.4L1286.5,551.5L1283.8,551.5L1283.8,558.6L1281.1,558.6L1281.1,558.6L1278.4,558.6L1278.4,565.1L1275.7,565.1L1275.7,565.1L1273.0,565.1L1273.0,559.5L1270.3,559.5L1270.3,560.4L1267.6,560.4L1267.6,560.4L1264.9,560.4L1264.9,567.9L1262.2,567.9L1262.2,569.4L1259.5,569.4L1259.5,569.5L1256.8,569.5L1256.8,570.3L1254.1,570.3L1254.1,576.4L1251.4,576.4L1251.4,576.4L1248.7,576.4L1248.7,575.0L1246.0,575.0L1246.0,575.5L1243.3,575.5L1243.3,575.5L1240.6,575.5L1240.6,576.7L1237.9,576.7L1237.9,583.7L1235.2,583.7L1235.2,589.3L1232.5,589.3L1232.5,589.3L1229.8,589.3L1229.8,584.2L1227.1,584.2L1227.1,584.2L1224.4,584.2L1224.4,591.9L1221.7,591.9L1221.7,591.9L1219.0,591.9L1219.0,578.3L1216.3,578.3L1216.3,580.7L1213.6,580.7L1213.6,580.7L1210.9,580.7L1210.9,584.3L1208.2,584.3L1208.2,584.3L1205.5,584.3L1205.5,586.6L1202.8,586.6L1202.8,592.5L1200.1,592.5L1200.1,592.2L1197.4,592.2L1197.4,598.8L1194.7,598.8L1194.7,598.8L1192.0,598.8L1192.0,590.5L1189.3,590.5L1189.3,599.3L1186.6,599.3L1186.6,599.3L1183.9,599.3L1183.9,603.8L1181.2,603.8L1181.2,605.0L1178.5,605.0L1178.5,606.3L1175.8,606.3L1175.8,606.3L1173.1,606.3L1173.1,609.2L1170.4,609.2L1170.4,611.5L1167.7,611.5L1167.7,611.5L1165.0,611.5L1165.0,609.5L1162.3,609.5L1162.3,611.3L1159.6,611.3L1159.6,611.3L1156.9,611.3L1156.9,608.0L1154.2,608.0L1154.2,610.3L1151.5,610.3L1151.5,618.1L1148.8,618.1L1148.8,618.1L1146.1,618.1L1146.1,606.6L1143.4,606.6L1143.4,606.6L1140.7,606.6L1140.7,614.3L1138.0,614.3L1138.0,621.1L1135.3,621.1L1135.3,621.1L1132.6,621.1L1132.6,624.0L1129.9,624.0L1129.9,624.0L1127.2,624.0L1127.2,621.3L1124.5,621.3L1124.5,617.2L1121.8,617.2L1121.8,625.8L1119.1,625.8L1119.1,628.9L1116.4,628.9L1116.4,628.9L1113.7,628.9L1113.7,619.6L1111.0,619.6L1111.0,614.9L1108.3,614.9L1108.3,616.3L1105.6,616.3L1105.6,617.1L1102.9,617.1L1102.9,619.9L1100.2,619.9L1100.2,619.9L1097.5,619.9L1097.5,620.2L1094.8,620.2L1094.8,620.2L1092.1,620.2L1092.1,625.5L1089.4,625.5L1089.4,625.5L1086.7,625.5L1086.7,623.7L1084.0,623.7L1084.0,623.8L1081.3,623.8L1081.3,623.9L1078.6,623.9L1078.6,623.9L1075.9,623.9L1075.9,616.9L1073.2,616.9L1073.2,620.2L1070.5,620.2L1070.5,623.9L1067.8,623.9L1067.8,623.6L1065.1,623.6L1065.1,620.1L1062.4,620.1L1062.4,620.8L1059.7,620.8L1059.7,620.8L1057.0,620.8L1057.0,626.2L1054.3,626.2L1054.3,626.2L1051.6,626.2L1051.6,616.2L1048.9,616.2L1048.9,627.3L1046.2,627.3L1046.2,628.4L1043.5,628.4L1043.5,628.4L1040.8,628.4L1040.8,627.1L1038.1,627.1L1038.1,629.5L1035.4,629.5L1035.4,626.3L1032.7,626.3L1032.7,624.8L1030.0,624.8L1030.0,626.2L1027.3,626.2L1027.3,626.2L1024.6,626.2L1024.6,624.1L1021.9,624.1L1021.9,624.0L1019.2,624.0L1019.2,620.6L1016.5,620.6L1016.5,620.3L1013.8,620.3L1013.8,619.2L1011.1,619.2L1011.1,625.4L1008.4,625.4L1008.4,625.4L1005.7,625.4L1005.7,623.1L1003.0,623.1L1003.0,624.8L1000.3,624.8L1000.3,624.1L997.6,624.1L997.6,623.0L994.9,623.0L994.9,623.0L992.2,623.0L992.2,617.4L989.5,617.4L989.5,614.2L986.8,614.2L986.8,622.3L984.1,622.3L984.1,622.8L981.4,622.8L981.4,622.8L978.7,622.8L978.7,621.1L976.0,621.1L976.0,625.4L973.3,625.4L973.3,625.6L970.6,625.6L970.6,624.8L967.9,624.8L967.9,621.4L965.2,621.4L965.2,628.4L962.5,628.4L962.5,628.4L959.8,628.4L959.8,622.5L957.1,622.5L957.1,634.8L954.4,634.8L954.4,634.8L951.7,634.8L951.7,622.1L949.0,622.1L949.0,623.9L946.3,623.9L946.3,630.8L943.6,630.8L943.6,630.8L940.9,630.8L940.9,622.4L938.2,622.4L938.2,625.5L935.5,625.5L935.5,629.4L932.8,629.4L932.8,629.4L930.1,629.4L930.1,627.2L927.4,627.2L927.4,627.2L924.7,627.2L924.7,622.2L922.0,622.2L922.0,629.1L919.3,629.1L919.3,630.7L916.6,630.7L916.6,629.7L913.9,629.7L913.9,635.2L911.2,635.2L911.2,638.1L908.5,638.1L908.5,638.1L905.8,638.1L905.8,634.0L903.1,634.0L903.1,624.1L900.4,624.1L900.4,625.3L897.7,625.3L897.7,625.3L895.0,625.3L895.0,626.8L892.3,626.8L892.3,632.4L889.6,632.4L889.6,632.4L886.9,632.4L886.9,634.6L884.2,634.6L884.2,636.5L881.5,636.5L881.5,638.4L878.8,638.4L878.8,638.4L876.1,638.4L876.1,634.3L873.4,634.3L873.4,631.2L870.7,631.2L870.7,634.2L868.0,634.2L868.0,634.2L865.3,634.2L865.3,637.0L862.6,637.0L862.6,642.9L859.9,642.9L859.9,642.9L857.2,642.9L857.2,635.8L854.5,635.8L854.5,636.9L851.8,636.9L851.8,645.8L849.1,645.8L849.1,645.7L846.4,645.7L846.4,641.1L843.7,641.1L843.7,641.1L841.0,641.1L841.0,643.0L838.3,643.0L838.3,649.1L835.6,649.1L835.6,656.5L832.9,656.5L832.9,656.5L830.2,656.5L830.2,654.1L827.5,654.1L827.5,654.1L824.8,654.1L824.8,656.0L822.1,656.0L822.1,656.8L819.4,656.8L819.4,659.6L816.7,659.6L816.7,660.2L814.0,660.2L814.0,667.4L811.3,667.4L811.3,667.4L808.6,667.4L808.6,666.8L805.9,666.8L805.9,678.7L803.2,678.7L803.2,679.5L800.5,679.5L800.5,679.5L797.8,679.5L797.8,674.9L795.1,674.9L795.1,680.7L792.4,680.7L792.4,680.7L789.7,680.7L789.7,682.9L787.0,682.9L787.0,682.9L784.3,682.9L784.3,676.4L781.6,676.4L781.6,684.1L778.9,684.1L778.9,689.4L776.2,689.4L776.2,691.6L773.5,691.6L773.5,691.6L770.8,691.6L770.8,690.5L768.1,690.5L768.1,697.3L765.4,697.3L765.4,700.9L762.7,700.9L762.7,700.9L760.0,700.9L760.0,694.8L757.3,694.8L757.3,713.2L754.6,713.2L754.6,714.5L751.9,714.5L751.9,712.0L749.2,712.0L749.2,709.4L746.5,709.4L746.5,709.4L743.8,709.4L743.8,729.1L741.1,729.1L741.1,729.1L738.4,729.1L738.4,724.9L735.7,724.9L735.7,724.9L733.0,724.9L733.0,720.1L730.3,720.1L730.3,721.6L727.6,721.6L727.6,724.5L724.9,724.5L724.9,745.8L722.2,745.8L722.2,745.8L719.5,745.8L719.5,728.2L716.8,728.2L716.8,728.0L714.1,728.0L714.1,739.6L711.4,739.6L711.4,739.6L708.7,739.6L708.7,737.0L706.0,737.0L706.0,738.3L703.3,738.3L703.3,739.6L700.6,739.6L700.6,748.8L697.9,748.8L697.9,748.8L695.2,748.8L695.2,745.8L692.5,745.8L692.5,751.6L689.8,751.6L689.8,751.7L687.1,751.7L687.1,749.7L684.4,749.7L684.4,752.5L681.7,752.5L681.7,752.5L679.0,752.5L679.0,751.4L676.3,751.4L676.3,755.6L673.6,755.6L673.6,760.0L670.9,760.0L670.9,760.8L668.2,760.8L668.2,758.8L665.5,758.8L665.5,765.5L662.8,765.5L662.8,765.5L660.1,765.5L660.1,765.9L657.4,765.9L657.4,765.9L654.7,765.9L654.7,772.4L652.0,772.4L652.0,772.4L649.3,772.4L649.3,769.3L646.6,769.3L646.6,770.1L643.9,770.1L643.9,776.0L641.2,776.0L641.2,776.0L638.5,776.0L638.5,774.8L635.8,774.8L635.8,768.8L633.1,768.8L633.1,774.6L630.4,774.6L630.4,774.6L627.7,774.6L627.7,775.9L625.0,775.9L625.0,775.9L622.3,775.9L622.3,781.4L619.6,781.4L619.6,785.4L616.9,785.4L616.9,785.4L614.2,785.4L614.2,782.2L611.5,782.2L611.5,776.9L608.8,776.9L608.8,782.1L606.1,782.1L606.1,782.6L603.4,782.6L603.4,784.7L600.7,784.7L600.7,786.7L598.0,786.7L598.0,792.4L595.3,792.4L595.3,792.4L592.6,792.4L592.6,789.7L589.9,789.7L589.9,789.7L587.2,789.7L587.2,789.7L584.5,789.7L584.5,790.6L581.8,790.6L581.8,792.5L579.1,792.5L579.1,793.7L576.4,793.7L576.4,793.7L573.7,793.7L573.7,792.9L571.0,792.9L571.0,795.1L568.3,795.1L568.3,799.4L565.6,799.4L565.6,799.1L562.9,799.1L562.9,799.2L560.2,799.2L560.2,799.2L557.5,799.2L557.5,795.8L554.8,795.8L554.8,796.2L552.1,796.2L552.1,795.4L549.4,795.4L549.4,800.0L546.7,800.0L546.7,800.0L544.0,800.0L544.0,799.1L541.3,799.1L541.3,798.7L538.6,798.7L538.6,797.6L535.9,797.6L535.9,799.3L533.2,799.3L533.2,801.5L530.5,801.5L530.5,801.5L527.8,801.5L527.8,801.0L525.1,801.0L525.1,799.1L522.4,799.1L522.4,800.1L519.7,800.1L519.7,801.8L517.0,801.8L517.0,801.9L514.3,801.9L514.3,801.9L511.6,801.9L511.6,808.7L508.9,808.7L508.9,808.7L506.2,808.7L506.2,808.7L503.5,808.7L503.5,805.4L500.8,805.4L500.8,805.5L498.1,805.5L498.1,805.5L495.4,805.5L495.4,803.0L492.7,803.0L492.7,803.0L490.0,803.0L490.0,802.4L487.3,802.4L487.3,800.7L484.6,800.7L484.6,805.1L481.9,805.1L481.9,807.3L479.2,807.3L479.2,808.7L476.5,808.7L476.5,808.7L473.8,808.7L473.8,807.3L471.1,807.3L471.1,807.3L468.4,807.3L468.4,806.6L465.7,806.6L465.7,808.9L463.0,808.9L463.0,810.0L460.3,810.0L460.3,810.0L457.6,810.0L457.6,808.9L454.9,808.9L454.9,809.4L452.2,809.4L452.2,817.1L449.5,817.1L449.5,817.1L446.8,817.1L446.8,813.3L444.1,813.3L444.1,816.3L441.4,816.3L441.4,816.3L438.7,816.3L438.7,814.0L436.0,814.0L436.0,814.0L433.3,814.0L433.3,813.4L430.6,813.4L430.6,811.7L427.9,811.7L427.9,811.9L425.2,811.9L425.2,811.9L422.5,811.9L422.5,812.0L419.8,812.0L419.8,814.7L417.1,814.7L417.1,815.9L414.4,815.9L414.4,815.9L411.7,815.9L411.7,817.0L409.0,817.0L409.0,817.0L406.3,817.0L406.3,813.5L403.6,813.5L403.6,814.1L400.9,814.1L400.9,814.1L398.2,814.1L398.2,813.2L395.5,813.2L395.5,813.2L392.8,813.2L392.8,810.7L390.1,810.7L390.1,813.2L387.4,813.2L387.4,813.2L384.7,813.2L384.7,810.4L382.0,810.4L382.0,808.7L379.3,808.7L379.3,808.7L376.6,808.7L376.6,805.6L373.9,805.6L373.9,805.2L371.2,805.2L371.2,803.3L368.5,803.3L368.5,803.6L365.8,803.6L365.8,803.4L363.1,803.4L363.1,800.9L360.4,800.9L360.4,800.8L357.7,800.8L357.7,800.6L355.0,800.6L355.0,799.5L352.3,799.5L352.3,799.9L349.6,799.9L349.6,799.1L346.9,799.1L346.9,794.9L344.2,794.9L344.2,786.7L341.5,786.7L341.5,792.9L338.8,792.9L338.8,792.9L336.1,792.9L336.1,788.1L333.4,788.1L333.4,788.8L330.7,788.8L330.7,788.8L328.0,788.8L328.0,786.2L325.3,786.2L325.3,787.3L322.6,787.3L322.6,787.4L319.9,787.4L319.9,786.3L317.2,786.3L317.2,782.9L314.5,782.9L314.5,785.9L311.8,785.9L311.8,789.6L309.1,789.6L309.1,793.3L306.4,793.3L306.4,793.3L303.7,793.3L303.7,796.5L301.0,796.5L301.0,796.5L298.3,796.5L298.3,799.2L295.6,799.2L295.6,804.5L292.9,804.5L292.9,804.5L290.2,804.5L290.2,803.2L287.5,803.2L287.5,803.6L284.8,803.6L284.8,805.8L282.1,805.8L282.1,809.9L279.4,809.9L279.4,809.9L276.7,809.9Z" fill="#ff00ff" stroke="none"/>
<path d="M276.7,1134.6L279.4,1134.6L279.4,1136.2L282.1,1136.2L282.1,1126.7L284.8,1126.7L284.8,1124.3L287.5,1124.3L287.5,1124.3L290.2,1124.3L290.2,1124.7L292.9,1124.7L292.9,1116.7L295.6,1116.7L295.6,1116.7L298.3,1116.7L298.3,1119.2L301.0,1119.2L301.0,1118.7L303.7,1118.7L303.7,1117.0L306.4,1117.0L306.4,1112.5L309.1,1112.5L309.1,1110.3L311.8,1110.3L311.8,1109.9L314.5,1109.9L314.5,1108.7L317.2,1108.7L317.2,1104.5L319.9,1104.5L319.9,1104.5L322.6,1104.5L322.6,1107.7L325.3,1107.7L325.3,1107.7L328.0,1107.7L328.0,1112.3L330.7,1112.3L330.7,1115.0L333.4,1115.0L333.4,1116.4L336.1,1116.4L336.1,1118.2L338.8,1118.2L338.8,1118.6L341.5,1118.6L341.5,1121.4L344.2,1121.4L344.2,1116.7L346.9,1116.7L346.9,1116.7L349.6,1116.7L349.6,1125.6L352.3,1125.6L352.3,1126.6L355.0,1126.6L355.0,1126.9L357.7,1126.9L357.7,1134.3L360.4,1134.3L360.4,1135.7L363.1,1135.7L363.1,1134.8L365.8,1134.8L365.8,1133.9L368.5,1133.9L368.5,1131.2L371.2,1131.2L371.2,1131.2L373.9,1131.2L373.9,1133.8L376.6,1133.8L376.6,1133.3L379.3,1133.3L379.3,1133.3L382.0,1133.3L382.0,1139.0L384.7,1139.0L384.7,1140.6L387.4,1140.6L387.4,1136.6L390.1,1136.6L390.1,1136.4L392.8,1136.4L392.8,1136.4L395.5,1136.4L395.5,1141.6L398.2,1141.6L398.2,1135.0L400.9,1135.0L400.9,1133.7L403.6,1133.7L403.6,1134.2L406.3,1134.2L406.3,1133.9L409.0,1133.9L409.0,1133.9L411.7,1133.9L411.7,1137.2L414.4,1137.2L414.4,1132.8L417.1,1132.8L417.1,1132.8L419.8,1132.8L419.8,1131.8L422.5,1131.8L422.5,1128.4L425.2,1128.4L425.2,1128.4L427.9,1128.4L427.9,1132.9L430.6,1132.9L430.6,1133.5L433.3,1133.5L433.3,1132.6L436.0,1132.6L436.0,1132.2L438.7,1132.2L438.7,1130.4L441.4,1130.4L441.4,1124.2L444.1,1124.2L444.1,1124.2L446.8,1124.2L446.8,1128.6L449.5,1128.6L449.5,1123.3L452.2,1123.3L452.2,1123.3L454.9,1123.3L454.9,1118.7L457.6,1118.7L457.6,1118.7L460.3,1118.7L460.3,1119.7L463.0,1119.7L463.0,1119.4L465.7,1119.4L465.7,1112.7L468.4,1112.7L468.4,1112.7L471.1,1112.7L471.1,1112.7L473.8,1112.7L473.8,1110.6L476.5,1110.6L476.5,1110.6L479.2,1110.6L479.2,1111.9L481.9,1111.9L481.9,1109.2L484.6,1109.2L484.6,1104.2L487.3,1104.2L487.3,1099.4L490.0,1099.4L490.0,1099.4L492.7,1099.4L492.7,1101.4L495.4,1101.4L495.4,1101.4L498.1,1101.4L498.1,1105.9L500.8,1105.9L500.8,1099.3L503.5,1099.3L503.5,1096.6L506.2,1096.6L506.2,1094.8L508.9,1094.8L508.9,1094.8L511.6,1094.8L511.6,1093.7L514.3,1093.7L514.3,1093.7L517.0,1093.7L517.0,1093.2L519.7,1093.2L519.7,1090.6L522.4,1090.6L522.4,1090.9L525.1,1090.9L525.1,1100.0L527.8,1100.0L527.8,1102.3L530.5,1102.3L530.5,1094.6L533.2,1094.6L533.2,1088.7L535.9,1088.7L535.9,1086.6L538.6,1086.6L538.6,1086.8L541.3,1086.8L541.3,1087.8L544.0,1087.8L544.0,1087.8L546.7,1087.8L546.7,1098.6L549.4,1098.6L549.4,1098.4L552.1,1098.4L552.1,1098.7L554.8,1098.7L554.8,1098.8L557.5,1098.8L557.5,1097.2L560.2,1097.2L560.2,1097.2L562.9,1097.2L562.9,1093.6L565.6,1093.6L565.6,1093.2L568.3,1093.2L568.3,1086.4L571.0,1086.4L571.0,1086.4L573.7,1086.4L573.7,1088.0L576.4,1088.0L576.4,1088.0L579.1,1088.0L579.1,1087.6L581.8,1087.6L581.8,1087.6L584.5,1087.6L584.5,1088.3L587.2,1088.3L587.2,1087.5L589.9,1087.5L589.9,1087.5L592.6,1087.5L592.6,1082.5L595.3,1082.5L595.3,1082.5L598.0,1082.5L598.0,1085.5L600.7,1085.5L600.7,1082.1L603.4,1082.1L603.4,1076.7L606.1,1076.7L606.1,1076.7L608.8,1076.7L608.8,1077.0L611.5,1077.0L611.5,1074.6L614.2,1074.6L614.2,1068.3L616.9,1068.3L616.9,1068.3L619.6,1068.3L619.6,1070.9L622.3,1070.9L622.3,1068.5L625.0,1068.5L625.0,1054.0L627.7,1054.0L627.7,1054.0L630.4,1054.0L630.4,1052.9L633.1,1052.9L633.1,1052.3L635.8,1052.3L635.8,1054.5L638.5,1054.5L638.5,1050.8L641.2,1050.8L641.2,1042.8L643.9,1042.8L643.9,1042.8L646.6,1042.8L646.6,1046.2L649.3,1046.2L649.3,1049.7L652.0,1049.7L652.0,1040.0L654.7,1040.0L654.7,1035.7L657.4,1035.7L657.4,1029.6L660.1,1029.6L660.1,1029.6L662.8,1029.6L662.8,1019.7L665.5,1019.7L665.5,1019.6L668.2,1019.6L668.2,1024.8L670.9,1024.8L670.9,1020.5L673.6,1020.5L673.6,1015.9L676.3,1015.9L676.3,1013.5L679.0,1013.5L679.0,1013.5L681.7,1013.5L681.7,1010.8L684.4,1010.8L684.4,1010.8L687.1,1010.8L687.1,1013.9L689.8,1013.9L689.8,1009.9L692.5,1009.9L692.5,1000.5L695.2,1000.5L695.2,994.3L697.9,994.3L697.9,994.3L700.6,994.3L700.6,997.1L703.3,997.1L703.3,989.2L706.0,989.2L706.0,984.5L708.7,984.5L708.7,984.5L711.4,984.5L711.4,992.9L714.1,992.9L714.1,985.2L716.8,985.2L716.8,968.4L719.5,968.4L719.5,968.4L722.2,968.4L722.2,979.2L724.9,979.2L724.9,970.5L727.6,970.5L727.6,970.5L730.3,970.5L730.3,975.3L733.0,975.3L733.0,953.5L735.7,953.5L735.7,950.0L738.4,950.0L738.4,945.7L741.1,945.7L741.1,945.7L743.8,945.7L743.8,957.4L746.5,957.4L746.5,955.4L749.2,955.4L749.2,951.5L751.9,951.5L751.9,936.2L754.6,936.2L754.6,926.5L757.3,926.5L757.3,926.5L760.0,926.5L760.0,930.7L762.7,930.7L762.7,930.7L765.4,930.7L765.4,926.0L768.1,926.0L768.1,914.8L770.8,914.8L770.8,907.9L773.5,907.9L773.5,907.9L776.2,907.9L776.2,906.6L778.9,906.6L778.9,906.6L781.6,906.6L781.6,906.3L784.3,906.3L784.3,905.4L787.0,905.4L787.0,901.7L789.7,901.7L789.7,901.7L792.4,901.7L792.4,879.4L795.1,879.4L795.1,879.4L797.8,879.4L797.8,895.0L800.5,895.0L800.5,894.0L803.2,894.0L803.2,862.0L805.9,862.0L805.9,862.0L808.6,862.0L808.6,857.5L811.3,857.5L811.3,857.5L814.0,857.5L814.0,869.1L816.7,869.1L816.7,872.7L819.4,872.7L819.4,872.7L822.1,872.7L822.1,872.9L824.8,872.9L824.8,870.4L827.5,870.4L827.5,851.3L830.2,851.3L830.2,851.3L832.9,851.3L832.9,847.6L835.6,847.6L835.6,845.2L838.3,845.2L838.3,846.2L841.0,846.2L841.0,850.0L843.7,850.0L843.7,848.8L846.4,848.8L846.4,847.0L849.1,847.0L849.1,834.4L851.8,834.4L851.8,834.4L854.5,834.4L854.5,839.4L857.2,839.4L857.2,839.4L859.9,839.4L859.9,845.9L862.6,845.9L862.6,845.6L865.3,845.6L865.3,845.6L868.0,845.6L868.0,849.3L870.7,849.3L870.7,832.6L873.4,832.6L873.4,832.6L876.1,832.6L876.1,829.7L878.8,829.7L878.8,829.7L881.5,829.7L881.5,829.8L884.2,829.8L884.2,828.2L886.9,828.2L886.9,830.9L889.6,830.9L889.6,830.9L892.3,830.9L892.3,837.3L895.0,837.3L895.0,830.6L897.7,830.6L897.7,828.1L900.4,828.1L900.4,823.7L903.1,823.7L903.1,823.7L905.8,823.7L905.8,827.9L908.5,827.9L908.5,824.8L911.2,824.8L911.2,824.8L913.9,824.8L913.9,825.7L916.6,825.7L916.6,824.2L919.3,824.2L919.3,824.1L922.0,824.1L922.0,820.7L924.7,820.7L924.7,820.7L927.4,820.7L927.4,821.5L930.1,821.5L930.1,811.3L932.8,811.3L932.8,811.3L935.5,811.3L935.5,817.3L938.2,817.3L938.2,818.0L940.9,818.0L940.9,824.0L943.6,824.0L943.6,821.9L946.3,821.9L946.3,821.9L949.0,821.9L949.0,829.3L951.7,829.3L951.7,833.7L954.4,833.7L954.4,826.3L957.1,826.3L957.1,826.3L959.8,826.3L959.8,823.6L962.5,823.6L962.5,823.6L965.2,823.6L965.2,827.6L967.9,827.6L967.9,825.9L970.6,825.9L970.6,827.7L973.3,827.7L973.3,834.5L976.0,834.5L976.0,837.6L978.7,837.6L978.7,832.1L981.4,832.1L981.4,832.1L984.1,832.1L984.1,832.9L986.8,832.9L986.8,834.0L989.5,834.0L989.5,828.8L992.2,828.8L992.2,828.8L994.9,828.8L994.9,834.6L997.6,834.6L997.6,823.4L1000.3,823.4L1000.3,822.2L1003.0,822.2L1003.0,828.6L1005.7,828.6L1005.7,836.2L1008.4,836.2L1008.4,835.1L1011.1,835.1L1011.1,835.1L1013.8,835.1L1013.8,844.3L1016.5,844.3L1016.5,838.6L1019.2,838.6L1019.2,838.6L1021.9,838.6L1021.9,843.2L1024.6,843.2L1024.6,838.6L1027.3,838.6L1027.3,838.6L1030.0,838.6L1030.0,839.3L1032.7,839.3L1032.7,843.6L1035.4,843.6L1035.4,830.9L1038.1,830.9L1038.1,826.1L1040.8,826.1L1040.8,826.1L1043.5,826.1L1043.5,842.9L1046.2,842.9L1046.2,839.1L1048.9,839.1L1048.9,837.5L1051.6,837.5L1051.6,837.5L1054.3,837.5L1054.3,835.6L1057.0,835.6L1057.0,835.6L1059.7,835.6L1059.7,836.6L1062.4,836.6L1062.4,838.9L1065.1,838.9L1065.1,831.9L1067.8,831.9L1067.8,831.9L1070.5,831.9L1070.5,823.9L1073.2,823.9L1073.2,823.9L1075.9,823.9L1075.9,845.0L1078.6,845.0L1078.6,849.1L1081.3,849.1L1081.3,845.5L1084.0,845.5L1084.0,844.2L1086.7,844.2L1086.7,834.7L1089.4,834.7L1089.4,834.7L1092.1,834.7L1092.1,838.9L1094.8,838.9L1094.8,819.3L1097.5,819.3L1097.5,819.3L1100.2,819.3L1100.2,835.3L1102.9,835.3L1102.9,828.0L1105.6,828.0L1105.6,828.0L1108.3,828.0L1108.3,831.1L1111.0,831.1L1111.0,831.1L1113.7,831.1L1113.7,827.8L1116.4,827.8L1116.4,827.7L1119.1,827.7L1119.1,830.9L1121.8,830.9L1121.8,825.8L1124.5,825.8L1124.5,825.8L1127.2,825.8L1127.2,835.4L1129.9,835.4L1129.9,827.6L1132.6,827.6L1132.6,827.1L1135.3,827.1L1135.3,825.5L1138.0,825.5L1138.0,821.2L1140.7,821.2L1140.7,821.2L1143.4,821.2L1143.4,825.1L1146.1,825.1L1146.1,822.3L1148.8,822.3L1148.8,822.3L1151.5,822.3L1151.5,826.6L1154.2,826.6L1154.2,818.8L1156.9,818.8L1156.9,818.8L1159.6,818.8L1159.6,825.7L1162.3,825.7L1162.3,825.7L1165.0,825.7L1165.0,826.5L1167.7,826.5L1167.7,821.8L1170.4,821.8L1170.4,819.5L1173.1,819.5L1173.1,817.4L1175.8,817.4L1175.8,817.4L1178.5,817.4L1178.5,809.9L1181.2,809.9L1181.2,809.9L1183.9,809.9L1183.9,819.0L1186.6,819.0L1186.6,817.5L1189.3,817.5L1189.3,807.0L1192.0,807.0L1192.0,796.6L1194.7,796.6L1194.7,795.4L1197.4,795.4L1197.4,795.4L1200.1,795.4L1200.1,795.8L1202.8,795.8L1202.8,779.5L1205.5,779.5L1205.5,779.5L1208.2,779.5L1208.2,794.2L1210.9,794.2L1210.9,791.8L1213.6,791.8L1213.6,790.0L1216.3,790.0L1216.3,778.2L1219.0,778.2L1219.0,778.2L1221.7,778.2L1221.7,786.1L1224.4,786.1L1224.4,772.8L1227.1,772.8L1227.1,767.2L1229.8,767.2L1229.8,765.6L1232.5,765.6L1232.5,757.9L1235.2,757.9L1235.2,757.9L1237.9,757.9L1237.9,774.7L1240.6,774.7L1240.6,766.3L1243.3,766.3L1243.3,766.3L1246.0,766.3L1246.0,772.7L1248.7,772.7L1248.7,767.3L1251.4,767.3L1251.4,755.8L1254.1,755.8L1254.1,755.8L1256.8,755.8L1256.8,752.4L1259.5,752.4L1259.5,752.4L1262.2,752.4L1262.2,754.8L1264.9,754.8L1264.9,744.3L1267.6,744.3L1267.6,744.3L1270.3,744.3L1270.3,751.9L1273.0,751.9L1273.0,732.5L1275.7,732.5L1275.7,732.5L1278.4,732.5L1278.4,742.1L1281.1,742.1L1281.1,741.9L1283.8,741.9L1283.8,734.5L1286.5,734.5L1286.5,731.6L1289.2,731.6L1289.2,729.1L1291.9,729.1L1291.9,727.7L1294.6,727.7L1294.6,727.7L1297.3,727.7L1297.3,726.7L1300.0,726.7L1300.0,708.8L1302.7,708.8L1302.7,704.4L1305.4,704.4L1305.4,704.5L1308.1,704.5L1308.1,708.7L1310.8,708.7L1310.8,708.7L1313.5,708.7L1313.5,698.7L1316.2,698.7L1316.2,698.7L1318.9,698.7L1318.9,694.5L1321.6,694.5L1321.6,687.4L1324.3,687.4L1324.3,682.8L1327.0,682.8L1327.0,682.8L1329.7,682.8L1329.7,683.2L1332.4,683.2L1332.4,682.7L1335.1,682.7L1335.1,681.0L1337.8,681.0L1337.8,681.4L1340.5,681.4L1340.5,671.4L1343.2,671.4L1343.2,664.3L1345.9,664.3L1345.9,661.5L1348.6,661.5L1348.6,659.3L1351.3,659.3L1351.3,651.8L1354.0,651.8L1354.0,651.8L1356.7,651.8L1356.7,637.4L1359.4,637.4L1359.4,637.4L1362.1,637.4L1362.1,650.8L1364.8,650.8L1364.8,635.0L1367.5,635.0L1367.5,621.7L1370.2,621.7L1370.2,621.7L1372.9,621.7L1372.9,611.1L1375.6,611.1L1375.6,611.1L1378.3,611.1L1378.3,617.8L1381.0,617.8L1381.0,615.1L1383.7,615.1L1383.7,597.8L1386.4,597.8L1386.4,596.0L1389.1,596.0L1389.1,585.2L1391.8,585.2L1391.8,579.2L1394.5,579.2L1394.5,579.2L1397.2,579.2L1397.2,570.8L1399.9,570.8L1399.9,570.8L1402.6,570.8L1402.6,576.2L1405.3,576.2L1405.3,567.7L1408.0,567.7L1408.0,567.7L1410.7,567.7L1410.7,557.2L1413.4,557.2L1413.4,557.2L1416.1,557.2L1416.1,554.0L1418.8,554.0L1418.8,554.0L1421.5,554.0L1421.5,550.1L1424.2,550.1L1424.2,540.2L1426.9,540.2L1426.9,531.4L1429.6,531.4L1429.6,531.4L1432.3,531.4L1432.3,541.7L1435.0,541.7L1435.0,537.5L1437.7,537.5L1437.7,526.0L1440.4,526.0L1440.4,519.5L1443.1,519.5L1443.1,514.3L1445.8,514.3L1445.8,514.3L1448.5,514.3L1448.5,505.5L1451.2,505.5L1451.2,501.4L1453.9,501.4L1453.9,498.0L1456.6,498.0L1456.6,498.0L1459.3,498.0L1459.3,489.3L1462.0,489.3L1462.0,477.5L1464.7,477.5L1464.7,477.5L1467.4,477.5L1467.4,487.4L1470.1,487.4L1470.1,490.7L1472.8,490.7L1472.8,487.6L1475.5,487.6L1475.5,474.7L1478.2,474.7L1478.2,474.7L1480.9,474.7L1480.9,477.0L1483.6,477.0L1483.6,471.5L1486.3,471.5L1486.3,462.9L1489.0,462.9L1489.0,444.8L1491.7,444.8L1491.7,444.8L1494.4,444.8L1494.4,455.6L1497.1,455.6L1497.1,449.0L1499.8,449.0L1499.8,449.0L1502.5,449.0L1502.5,448.8L1505.2,448.8L1505.2,448.8L1507.9,448.8L1507.9,443.9L1510.6,443.9L1510.6,420.0L1513.3,420.0L1513.3,420.0L1516.0,420.0L1516.0,436.3L1518.7,436.3L1518.7,439.1L1521.4,439.1L1521.4,439.8L1524.1,439.8L1524.1,439.8L1526.8,439.8L1526.8,432.7L1529.5,432.7L1529.5,432.7L1532.2,432.7L1532.2,414.5L1534.9,414.5L1534.9,412.4L1537.6,412.4L1537.6,405.7L1540.3,405.7L1540.3,406.0L1543.0,406.0L1543.0,428.4L1545.7,428.4L1545.7,428.4L1548.4,428.4L1548.4,424.2L1551.1,424.2L1551.1,424.2L1553.8,424.2L1553.8,431.6L1556.5,431.6L1556.5,421.0L1559.2,421.0L1559.2,421.0L1561.9,421.0L1561.9,430.0L1564.6,430.0L1564.6,430.0L1567.3,430.0L1567.3,416.1L1570.0,416.1L1570.0,411.3L1572.7,411.3L1572.7,413.3L1575.4,413.3L1575.4,431.9L1578.1,431.9L1578.1,429.8L1580.8,429.8L1580.8,425.8L1583.5,425.8L1583.5,425.8L1586.2,425.8L1586.2,429.9L1588.9,429.9L1588.9,429.9L1591.6,429.9L1591.6,420.1L1594.3,420.1L1594.3,420.1L1597.0,420.1L1597.0,430.8L1599.7,430.8L1599.7,433.3L1602.4,433.3L1602.4,430.2L1605.1,430.2L1605.1,433.4L1607.8,433.4L1607.8,439.6L1610.5,439.6L1610.5,439.6L1613.2,439.6L1613.2,464.0L1615.9,464.0L1615.9,458.8L1618.6,458.8L1618.6,455.6L1621.3,455.6L1621.3,459.4L1624.0,459.4L1624.0,481.5L1626.7,481.5L1626.7,483.6L1629.4,483.6L1629.4,483.6L1632.1,483.6L1632.1,499.2L1634.8,499.2L1634.8,495.1L1637.5,495.1L1637.5,495.1L1640.2,495.1L1640.2,506.2L1642.9,506.2L1642.9,489.5L1645.6,489.5L1645.6,489.5L1648.3,489.5L1648.3,493.3L1651.0,493.3L1651.0,515.8L1653.7,515.8L1653.7,511.0L1656.4,511.0L1656.4,512.0L1659.1,512.0L1659.1,519.5L1661.8,519.5L1661.8,520.7L1664.5,520.7L1664.5,532.9L1667.2,532.9L1667.2,532.9L1669.9,532.9L1669.9,533.4L1672.6,533.4L1672.6,540.4L1675.3,540.4L1675.3,540.4L1678.0,540.4L1678.0,553.9L1680.7,553.9L1680.7,572.9L1683.4,572.9L1683.4,573.4L1686.1,573.4L1686.1,574.5L1688.8,574.5L1688.8,580.1L1691.5,580.1L1691.5,584.4L1694.2,584.4L1694.2,581.4L1696.9,581.4L1696.9,581.4L1699.6,581.4L1699.6,590.1L1702.3,590.1L1702.3,589.7L1705.0,589.7L1705.0,594.5L1707.7,594.5L1707.7,624.4L1710.4,624.4L1710.4,622.2L1713.1,622.2L1713.1,618.0L1715.8,618.0L1715.8,618.0L1718.5,618.0L1718.5,637.8L1721.2,637.8L1721.2,645.0L1723.9,645.0L1723.9,631.1L1726.6,631.1L1726.6,631.1L1729.3,631.1L1729.3,653.8L1732.0,653.8L1732.0,646.4L1734.7,646.4L1734.7,646.4L1737.4,646.4L1737.4,642.6L1740.1,642.6L1740.1,645.2L1742.8,645.2L1742.8,675.1L1745.5,675.1L1745.5,675.1L1748.2,675.1L1748.2,693.4L1750.9,693.4L1750.9,693.4L1753.6,693.4L1753.6,695.3L1756.3,695.3L1756.3,698.1L1759.0,698.1L1759.0,700.0L1761.7,700.0L1761.7,721.8L1764.4,721.8L1764.4,721.8L1767.1,721.8L1767.1,726.5L1769.8,726.5L1769.8,733.2L1772.5,733.2L1772.5,735.3L1775.2,735.3L1775.2,734.9L1777.9,734.9L1777.9,734.9L1780.6,734.9L1780.6,745.8L1783.3,745.8L1783.3,745.8L1786.0,745.8L1786.0,750.4L1788.7,750.4L1788.7,761.6L1791.4,761.6L1791.4,761.6L1794.1,761.6L1794.1,760.5L1796.8,760.5L1796.8,760.5L1799.5,760.5L1799.5,774.6L1802.2,774.6L1802.2,772.3L1804.9,772.3L1804.9,772.3L1807.6,772.3L1807.6,786.8L1810.3,786.8L1810.3,786.8L1813.0,786.8L1813.0,795.5L1815.7,795.5L1815.7,795.5L1818.4,795.5L1818.4,804.2L1821.1,804.2L1821.1,794.7L1823.8,794.7L1823.8,794.7L1826.5,794.7L1826.5,811.0L1829.2,811.0L1829.2,790.9L1831.9,790.9L1831.9,790.9L1834.6,790.9L1834.6,825.4L1837.3,825.4L1837.3,817.9L1840.0,817.9L1840.0,817.9L1842.7,817.9L1842.7,822.0L1845.4,822.0L1845.4,828.5L1848.1,828.5L1848.1,826.2L1850.8,826.2L1850.8,826.2L1853.5,826.2L1853.5,833.2L1856.2,833.2L1856.2,834.9L1858.9,834.9L1858.9,836.7L1861.6,836.7L1861.6,836.7L1864.3,836.7L1864.3,853.0L1867.0,853.0L1867.0,846.0L1869.7,846.0L1869.7,845.9L1872.4,845.9L1872.4,844.8L1875.1,844.8L1875.1,844.8L1877.8,844.8L1877.8,862.7L1880.5,862.7L1880.5,863.8L1883.2,863.8L1883.2,871.4L1885.9,871.4L1885.9,871.4L1888.6,871.4L1888.6,875.6L1891.3,875.6L1891.3,876.4L1894.0,876.4L1894.0,883.6L1896.7,883.6L1896.7,876.0L1899.4,876.0L1899.4,876.0L1902.1,876.0L1902.1,880.5L1904.8,880.5L1904.8,889.5L1907.5,889.5L1907.5,891.8L1910.2,891.8L1910.2,891.3L1912.9,891.3L1912.9,891.3L1915.6,891.3L1915.6,898.1L1918.3,898.1L1918.3,897.5L1921.0,897.5L1921.0,895.4L1923.7,895.4L1923.7,895.4L1926.4,895.4L1926.4,896.0L1929.1,896.0L1929.1,908.4L1931.8,908.4L1931.8,919.7L1934.5,919.7L1934.5,915.3L1937.2,915.3L1937.2,914.2L1939.9,914.2L1939.9,914.3L1942.6,914.3L1942.6,917.0L1945.3,917.0L1945.3,908.6L1948.0,908.6L1948.0,908.6L1950.7,908.6L1950.7,915.3L1953.4,915.3L1953.4,920.7L1956.1,920.7L1956.1,921.9L1958.8,921.9L1958.8,924.8L1961.5,924.8L1961.5,930.1L1964.2,930.1L1964.2,926.0L1966.9,926.0L1966.9,926.0L1969.6,926.0L1969.6,929.1L1972.3,929.1L1972.3,939.5L1975.0,939.5L1975.0,943.8L1977.7,943.8L1977.7,948.0L1980.4,948.0L1980.4,948.5L1983.1,948.5L1983.1,948.5L1985.8,948.5L1985.8,948.5L1988.5,948.5L1988.5,938.6L1991.2,938.6L1991.2,938.6L1993.9,938.6L1993.9,947.9L1996.6,947.9L1996.6,944.7L1999.3,944.7L1999.3,944.7L2002.0,944.7L2002.0,948.2L2004.7,948.2L2004.7,966.6L2007.4,966.6L2007.4,957.5L2010.1,957.5L2010.1,954.7L2012.8,954.7L2012.8,954.7L2015.5,954.7L2015.5,963.0L2018.2,963.0L2018.2,963.0L2020.9,963.0L2020.9,964.9L2023.6,964.9L2023.6,975.6L2026.3,975.6L2026.3,967.2L2029.0,967.2L2029.0,960.4L2031.7,960.4L2031.7,960.4L2034.4,960.4L2034.4,971.4L2037.1,971.4L2037.1,970.8L2039.8,970.8L2039.8,971.6L2042.5,971.6L2042.5,973.3L2045.2,973.3L2045.2,973.3L2047.9,973.3L2047.9,978.3L2050.6,978.3L2050.6,984.9L2053.3,984.9L2053.3,983.5L2056.0,983.5L2056.0,983.5L2058.7,983.5L2058.7,987.3L2061.4,987.3L2061.4,983.7L2064.1,983.7L2064.1,983.7L2066.8,983.7L2066.8,973.0L2069.5,973.0L2069.5,973.0L2072.2,973.0L2072.2,984.7L2074.9,984.7L2074.9,978.3L2077.6,978.3L2077.6,978.3L2080.3,978.3L2080.3,985.4L2083.0,985.4L2083.0,991.0L2085.7,991.0L2085.7,995.0L2088.4,995.0L2088.4,989.5L2091.1,989.5L2091.1,989.5L2093.8,989.5L2093.8,992.4L2096.5,992.4L2096.5,993.8L2099.2,993.8L2099.2,985.6L2101.9,985.6L2101.9,985.2L2104.6,985.2L2104.6,990.9L2107.3,990.9L2107.3,988.9L2110.0,988.9L2110.0,988.9L2112.7,988.9L2112.7,998.7L2115.4,998.7L2115.4,1000.2L2118.1,1000.2L2118.1,997.9L2120.8,997.9L2120.8,996.0L2123.5,996.0L2123.5,993.7L2126.2,993.7L2126.2,993.7L2128.9,993.7L2128.9,1004.0L2131.6,1004.0L2131.6,999.1L2134.3,999.1L2134.3,999.1L2137.0,999.1L2137.0,999.0L2139.7,999.0L2139.7,998.2L2142.4,998.2L2142.4,998.2L2145.1,998.2L2145.1,1013.3L2147.8,1013.3L2147.8,1008.4L2150.5,1008.4L2150.5,1008.4L2153.2,1008.4L2153.2,1010.6L2155.9,1010.6L2155.9,1008.1L2158.6,1008.1L2158.6,1008.4L2161.3,1008.4L2161.3,1009.8L2164.0,1009.8L2164.0,1011.2L2166.7,1011.2L2166.7,1013.7L2169.4,1013.7L2169.4,1013.7L2172.1,1013.7L2172.1,1010.4L2174.8,1010.4L2174.8,1010.9L2177.5,1010.9L2177.5,1021.3L2180.2,1021.3L2180.2,1015.6L2182.9,1015.6L2182.9,1015.6L2185.6,1015.6L2185.6,1022.9L2188.3,1022.9L2188.3,1021.1L2191.0,1021.1L2191.0,1018.6L2193.7,1018.6L2193.7,1015.9L2196.4,1015.9L2196.4,1015.9L2199.1,1015.9L2199.1,1020.9L2201.8,1020.9L2201.8,1024.0L2204.5,1024.0L2204.5,1027.7L2207.2,1027.7L2207.2,1027.7L2209.9,1027.7L2209.9,1029.5L2212.6,1029.5L2212.6,1029.5L2215.3,1029.5L2215.3,1023.4L2218.0,1023.4L2218.0,1023.4L2220.7,1023.4L2220.7,1021.7L2223.4,1021.7L2223.4,1021.7L2226.1,1021.7L2226.1,1027.8L2228.8,1027.8L2228.8,1029.3L2231.5,1029.3L2231.5,1029.3L2234.2,1029.3L2234.2,1026.8L2236.9,1026.8L2236.9,1024.9L2239.6,1024.9L2239.6,1026.8L2242.3,1026.8L2242.3,1033.5L2245.0,1033.5L2245.0,1033.5L2247.7,1033.5L2247.7,1036.7L2250.4,1036.7L2250.4,1034.9L2253.1,1034.9L2253.1,1032.8L2255.8,1032.8L2255.8,1035.3L2258.5,1035.3L2258.5,1039.1L2261.2,1039.1L2261.2,1037.5L2263.9,1037.5L2263.9,1037.5L2266.6,1037.5L2266.6,1040.6L2269.3,1040.6L2269.3,1037.5L2272.0,1037.5L2272.0,1037.5L2274.7,1037.5L2274.7,1040.7L2277.4,1040.7L2277.4,1029.2L2280.1,1029.2L2280.1,1029.2L2282.8,1029.2L2282.8,1040.1L2285.5,1040.1L2285.5,1040.1L2288.2,1040.1L2288.2,1037.2L2290.9,1037.2L2290.9,1027.1L2293.6,1027.1L2293.6,1027.1L2296.3,1027.1L2296.3,1041.0L2299.0,1041.0L2299.0,1046.6L2301.7,1046.6L2301.7,1046.6L2304.4,1046.6L2304.4,1047.4L2307.1,1047.4L2307.1,1041.5L2309.8,1041.5L2309.8,1041.5L2312.5,1041.5L2312.5,1036.1L2315.2,1036.1L2315.2,1036.1L2317.9,1036.1L2317.9,1045.9L2320.6,1045.9L2320.6,1038.9L2323.3,1038.9L2323.3,1038.9L2326.0,1038.9L2326.0,1043.4L2328.7,1043.4L2328.7,1040.7L2331.4,1040.7L2331.4,1040.7L2333.0,1040.7L2333.0,1055.8L2331.4,1055.8L2331.4,1055.8L2328.7,1055.8L2328.7,1060.8L2326.0,1060.8L2326.0,1060.8L2323.3,1060.8L2323.3,1062.5L2320.6,1062.5L2320.6,1065.9L2317.9,1065.9L2317.9,1065.9L2315.2,1065.9L2315.2,1058.1L2312.5,1058.1L2312.5,1058.1L2309.8,1058.1L2309.8,1064.1L2307.1,1064.1L2307.1,1073.0L2304.4,1073.0L2304.4,1073.0L2301.7,1073.0L2301.7,1058.7L2299.0,1058.7L2299.0,1060.3L2296.3,1060.3L2296.3,1060.3L2293.6,1060.3L2293.6,1052.8L2290.9,1052.8L2290.9,1064.9L2288.2,1064.9L2288.2,1064.9L2285.5,1064.9L2285.5,1055.4L2282.8,1055.4L2282.8,1055.4L2280.1,1055.4L2280.1,1058.9L2277.4,1058.9L2277.4,1058.9L2274.7,1058.9L2274.7,1050.3L2272.0,1050.3L2272.0,1051.0L2269.3,1051.0L2269.3,1051.0L2266.6,1051.0L2266.6,1049.1L2263.9,1049.1L2263.9,1049.1L2261.2,1049.1L2261.2,1055.7L2258.5,1055.7L2258.5,1055.7L2255.8,1055.7L2255.8,1056.8L2253.1,1056.8L2253.1,1056.8L2250.4,1056.8L2250.4,1055.6L2247.7,1055.6L2247.7,1055.6L2245.0,1055.6L2245.0,1047.1L2242.3,1047.1L2242.3,1047.2L2239.6,1047.2L2239.6,1045.5L2236.9,1045.5L2236.9,1043.8L2234.2,1043.8L2234.2,1043.3L2231.5,1043.3L2231.5,1052.8L2228.8,1052.8L2228.8,1052.8L2226.1,1052.8L2226.1,1047.3L2223.4,1047.3L2223.4,1038.3L2220.7,1038.3L2220.7,1041.3L2218.0,1041.3L2218.0,1047.5L2215.3,1047.5L2215.3,1047.5L2212.6,1047.5L2212.6,1045.9L2209.9,1045.9L2209.9,1044.8L2207.2,1044.8L2207.2,1046.2L2204.5,1046.2L2204.5,1043.8L2201.8,1043.8L2201.8,1040.1L2199.1,1040.1L2199.1,1043.7L2196.4,1043.7L2196.4,1043.7L2193.7,1043.7L2193.7,1031.5L2191.0,1031.5L2191.0,1032.2L2188.3,1032.2L2188.3,1040.6L2185.6,1040.6L2185.6,1044.9L2182.9,1044.9L2182.9,1044.9L2180.2,1044.9L2180.2,1037.3L2177.5,1037.3L2177.5,1037.3L2174.8,1037.3L2174.8,1034.6L2172.1,1034.6L2172.1,1034.6L2169.4,1034.6L2169.4,1034.4L2166.7,1034.4L2166.7,1034.4L2164.0,1034.4L2164.0,1030.4L2161.3,1030.4L2161.3,1030.4L2158.6,1030.4L2158.6,1028.4L2155.9,1028.4L2155.9,1028.8L2153.2,1028.8L2153.2,1028.8L2150.5,1028.8L2150.5,1027.6L2147.8,1027.6L2147.8,1027.6L2145.1,1027.6L2145.1,1027.3L2142.4,1027.3L2142.4,1016.0L2139.7,1016.0L2139.7,1020.5L2137.0,1020.5L2137.0,1020.5L2134.3,1020.5L2134.3,1020.5L2131.6,1020.5L2131.6,1019.2L2128.9,1019.2L2128.9,1019.2L2126.2,1019.2L2126.2,1005.8L2123.5,1005.8L2123.5,1005.8L2120.8,1005.8L2120.8,1014.6L2118.1,1014.6L2118.1,1022.0L2115.4,1022.0L2115.4,1022.0L2112.7,1022.0L2112.7,1017.1L2110.0,1017.1L2110.0,1008.3L2107.3,1008.3L2107.3,1014.5L2104.6,1014.5L2104.6,1014.5L2101.9,1014.5L2101.9,1011.0L2099.2,1011.0L2099.2,1011.0L2096.5,1011.0L2096.5,1009.6L2093.8,1009.6L2093.8,1005.8L2091.1,1005.8L2091.1,1003.4L2088.4,1003.4L2088.4,1013.3L2085.7,1013.3L2085.7,1013.3L2083.0,1013.3L2083.0,1002.6L2080.3,1002.6L2080.3,1000.9L2077.6,1000.9L2077.6,995.2L2074.9,995.2L2074.9,1010.0L2072.2,1010.0L2072.2,1012.1L2069.5,1012.1L2069.5,1008.3L2066.8,1008.3L2066.8,1005.7L2064.1,1005.7L2064.1,1005.7L2061.4,1005.7L2061.4,1004.4L2058.7,1004.4L2058.7,1004.5L2056.0,1004.5L2056.0,1003.3L2053.3,1003.3L2053.3,1007.4L2050.6,1007.4L2050.6,1007.4L2047.9,1007.4L2047.9,989.7L2045.2,989.7L2045.2,987.5L2042.5,987.5L2042.5,986.4L2039.8,986.4L2039.8,988.5L2037.1,988.5L2037.1,989.7L2034.4,989.7L2034.4,989.7L2031.7,989.7L2031.7,981.2L2029.0,981.2L2029.0,987.1L2026.3,987.1L2026.3,987.1L2023.6,987.1L2023.6,982.4L2020.9,982.4L2020.9,979.6L2018.2,979.6L2018.2,975.9L2015.5,975.9L2015.5,984.9L2012.8,984.9L2012.8,984.9L2010.1,984.9L2010.1,992.3L2007.4,992.3L2007.4,992.3L2004.7,992.3L2004.7,976.6L2002.0,976.6L2002.0,971.8L1999.3,971.8L1999.3,968.1L1996.6,968.1L1996.6,968.1L1993.9,968.1L1993.9,967.8L1991.2,967.8L1991.2,959.1L1988.5,959.1L1988.5,966.2L1985.8,966.2L1985.8,966.2L1983.1,966.2L1983.1,967.3L1980.4,967.3L1980.4,968.7L1977.7,968.7L1977.7,968.7L1975.0,968.7L1975.0,961.0L1972.3,961.0L1972.3,956.3L1969.6,956.3L1969.6,955.2L1966.9,955.2L1966.9,955.2L1964.2,955.2L1964.2,945.7L1961.5,945.7L1961.5,960.4L1958.8,960.4L1958.8,960.4L1956.1,960.4L1956.1,952.0L1953.4,952.0L1953.4,937.8L1950.7,937.8L1950.7,942.9L1948.0,942.9L1948.0,942.9L1945.3,942.9L1945.3,935.3L1942.6,935.3L1942.6,932.2L1939.9,932.2L1939.9,925.6L1937.2,925.6L1937.2,930.4L1934.5,930.4L1934.5,933.9L1931.8,933.9L1931.8,933.9L1929.1,933.9L1929.1,926.6L1926.4,926.6L1926.4,917.7L1923.7,917.7L1923.7,923.4L1921.0,923.4L1921.0,923.4L1918.3,923.4L1918.3,919.0L1915.6,919.0L1915.6,919.0L1912.9,919.0L1912.9,922.5L1910.2,922.5L1910.2,922.5L1907.5,922.5L1907.5,912.2L1904.8,912.2L1904.8,900.8L1902.1,900.8L1902.1,893.4L1899.4,893.4L1899.4,893.0L1896.7,893.0L1896.7,897.0L1894.0,897.0L1894.0,897.0L1891.3,897.0L1891.3,892.1L1888.6,892.1L1888.6,886.8L1885.9,886.8L1885.9,911.0L1883.2,911.0L1883.2,911.0L1880.5,911.0L1880.5,886.5L1877.8,886.5L1877.8,883.2L1875.1,883.2L1875.1,862.7L1872.4,862.7L1872.4,869.4L1869.7,869.4L1869.7,878.1L1867.0,878.1L1867.0,878.1L1864.3,878.1L1864.3,873.7L1861.6,873.7L1861.6,873.7L1858.9,873.7L1858.9,865.9L1856.2,865.9L1856.2,860.5L1853.5,860.5L1853.5,865.2L1850.8,865.2L1850.8,864.8L1848.1,864.8L1848.1,846.4L1845.4,846.4L1845.4,846.4L1842.7,846.4L1842.7,840.0L1840.0,840.0L1840.0,838.1L1837.3,838.1L1837.3,838.1L1834.6,838.1L1834.6,835.0L1831.9,835.0L1831.9,835.0L1829.2,835.0L1829.2,834.5L1826.5,834.5L1826.5,834.5L1823.8,834.5L1823.8,821.0L1821.1,821.0L1821.1,828.2L1818.4,828.2L1818.4,828.2L1815.7,828.2L1815.7,811.7L1813.0,811.7L1813.0,811.7L1810.3,811.7L1810.3,810.1L1807.6,810.1L1807.6,804.5L1804.9,804.5L1804.9,797.5L1802.2,797.5L1802.2,790.5L1799.5,790.5L1799.5,790.5L1796.8,790.5L1796.8,776.4L1794.1,776.4L1794.1,775.5L1791.4,775.5L1791.4,787.5L1788.7,787.5L1788.7,787.9L1786.0,787.9L1786.0,784.9L1783.3,784.9L1783.3,763.1L1780.6,763.1L1780.6,763.1L1777.9,763.1L1777.9,775.0L1775.2,775.0L1775.2,775.0L1772.5,775.0L1772.5,771.1L1769.8,771.1L1769.8,749.0L1767.1,749.0L1767.1,735.5L1764.4,735.5L1764.4,736.4L1761.7,736.4L1761.7,736.4L1759.0,736.4L1759.0,727.2L1756.3,727.2L1756.3,723.4L1753.6,723.4L1753.6,707.2L1750.9,707.2L1750.9,712.2L1748.2,712.2L1748.2,712.2L1745.5,712.2L1745.5,706.2L1742.8,706.2L1742.8,706.2L1740.1,706.2L1740.1,685.4L1737.4,685.4L1737.4,685.4L1734.7,685.4L1734.7,680.9L1732.0,680.9L1732.0,672.2L1729.3,672.2L1729.3,672.2L1726.6,672.2L1726.6,658.6L1723.9,658.6L1723.9,668.7L1721.2,668.7L1721.2,670.4L1718.5,670.4L1718.5,669.3L1715.8,669.3L1715.8,635.5L1713.1,635.5L1713.1,648.8L1710.4,648.8L1710.4,648.8L1707.7,648.8L1707.7,643.2L1705.0,643.2L1705.0,629.8L1702.3,629.8L1702.3,620.8L1699.6,620.8L1699.6,620.8L1696.9,620.8L1696.9,612.2L1694.2,612.2L1694.2,616.2L1691.5,616.2L1691.5,616.2L1688.8,616.2L1688.8,601.9L1686.1,601.9L1686.1,588.5L1683.4,588.5L1683.4,588.5L1680.7,588.5L1680.7,582.8L1678.0,582.8L1678.0,576.4L1675.3,576.4L1675.3,568.5L1672.6,568.5L1672.6,568.5L1669.9,568.5L1669.9,546.1L1667.2,546.1L1667.2,552.3L1664.5,552.3L1664.5,552.3L1661.8,552.3L1661.8,544.8L1659.1,544.8L1659.1,538.8L1656.4,538.8L1656.4,540.3L1653.7,540.3L1653.7,540.3L1651.0,540.3L1651.0,539.5L1648.3,539.5L1648.3,524.9L1645.6,524.9L1645.6,529.4L1642.9,529.4L1642.9,534.7L1640.2,534.7L1640.2,536.5L1637.5,536.5L1637.5,528.1L1634.8,528.1L1634.8,520.3L1632.1,520.3L1632.1,519.1L1629.4,519.1L1629.4,506.4L1626.7,506.4L1626.7,509.8L1624.0,509.8L1624.0,509.8L1621.3,509.8L1621.3,492.3L1618.6,492.3L1618.6,492.3L1615.9,492.3L1615.9,491.9L1613.2,491.9L1613.2,487.8L1610.5,487.8L1610.5,467.8L1607.8,467.8L1607.8,466.3L1605.1,466.3L1605.1,462.6L1602.4,462.6L1602.4,459.7L1599.7,459.7L1599.7,454.1L1597.0,454.1L1597.0,446.0L1594.3,446.0L1594.3,446.0L1591.6,446.0L1591.6,461.8L1588.9,461.8L1588.9,461.8L1586.2,461.8L1586.2,448.1L1583.5,448.1L1583.5,448.1L1580.8,448.1L1580.8,469.9L1578.1,469.9L1578.1,469.9L1575.4,469.9L1575.4,462.1L1572.7,462.1L1572.7,451.8L1570.0,451.8L1570.0,447.6L1567.3,447.6L1567.3,447.6L1564.6,447.6L1564.6,451.8L1561.9,451.8L1561.9,451.8L1559.2,451.8L1559.2,467.5L1556.5,467.5L1556.5,469.8L1553.8,469.8L1553.8,467.5L1551.1,467.5L1551.1,458.9L1548.4,458.9L1548.4,458.9L1545.7,458.9L1545.7,462.7L1543.0,462.7L1543.0,462.7L1540.3,462.7L1540.3,443.8L1537.6,443.8L1537.6,442.1L1534.9,442.1L1534.9,443.7L1532.2,443.7L1532.2,452.6L1529.5,452.6L1529.5,458.6L1526.8,458.6L1526.8,458.6L1524.1,458.6L1524.1,457.2L1521.4,457.2L1521.4,462.3L1518.7,462.3L1518.7,464.2L1516.0,464.2L1516.0,464.2L1513.3,464.2L1513.3,458.9L1510.6,458.9L1510.6,486.4L1507.9,486.4L1507.9,486.5L1505.2,486.5L1505.2,476.6L1502.5,476.6L1502.5,470.1L1499.8,470.1L1499.8,474.1L1497.1,474.1L1497.1,488.1L1494.4,488.1L1494.4,488.1L1491.7,488.1L1491.7,480.0L1489.0,480.0L1489.0,484.2L1486.3,484.2L1486.3,495.3L1483.6,495.3L1483.6,495.3L1480.9,495.3L1480.9,489.7L1478.2,489.7L1478.2,502.3L1475.5,502.3L1475.5,502.3L1472.8,502.3L1472.8,525.0L1470.1,525.0L1470.1,525.0L1467.4,525.0L1467.4,523.1L1464.7,523.1L1464.7,532.1L1462.0,532.1L1462.0,532.1L1459.3,532.1L1459.3,518.2L1456.6,518.2L1456.6,521.5L1453.9,521.5L1453.9,526.1L1451.2,526.1L1451.2,537.9L1448.5,537.9L1448.5,540.7L1445.8,540.7L1445.8,540.7L1443.1,540.7L1443.1,539.9L1440.4,539.9L1440.4,552.8L1437.7,552.8L1437.7,555.3L1435.0,555.3L1435.0,556.3L1432.3,556.3L1432.3,568.3L1429.6,568.3L1429.6,568.3L1426.9,568.3L1426.9,571.1L1424.2,571.1L1424.2,580.8L1421.5,580.8L1421.5,584.5L1418.8,584.5L1418.8,581.2L1416.1,581.2L1416.1,582.9L1413.4,582.9L1413.4,607.1L1410.7,607.1L1410.7,607.1L1408.0,607.1L1408.0,599.6L1405.3,599.6L1405.3,599.6L1402.6,599.6L1402.6,610.8L1399.9,610.8L1399.9,610.8L1397.2,610.8L1397.2,608.6L1394.5,608.6L1394.5,624.1L1391.8,624.1L1391.8,624.1L1389.1,624.1L1389.1,621.3L1386.4,621.3L1386.4,649.9L1383.7,649.9L1383.7,649.9L1381.0,649.9L1381.0,627.6L1378.3,627.6L1378.3,629.3L1375.6,629.3L1375.6,648.1L1372.9,648.1L1372.9,648.1L1370.2,648.1L1370.2,661.3L1367.5,661.3L1367.5,677.9L1364.8,677.9L1364.8,677.9L1362.1,677.9L1362.1,670.6L1359.4,670.6L1359.4,694.3L1356.7,694.3L1356.7,694.3L1354.0,694.3L1354.0,666.8L1351.3,666.8L1351.3,679.6L1348.6,679.6L1348.6,679.7L1345.9,679.7L1345.9,687.2L1343.2,687.2L1343.2,710.5L1340.5,710.5L1340.5,711.0L1337.8,711.0L1337.8,704.6L1335.1,704.6L1335.1,700.8L1332.4,700.8L1332.4,707.4L1329.7,707.4L1329.7,726.3L1327.0,726.3L1327.0,726.3L1324.3,726.3L1324.3,712.3L1321.6,712.3L1321.6,712.6L1318.9,712.6L1318.9,736.2L1316.2,736.2L1316.2,736.2L1313.5,736.2L1313.5,736.1L1310.8,736.1L1310.8,736.1L1308.1,736.1L1308.1,731.0L1305.4,731.0L1305.4,734.7L1302.7,734.7L1302.7,741.6L1300.0,741.6L1300.0,746.9L1297.3,746.9L1297.3,752.0L1294.6,752.0L1294.6,753.4L1291.9,753.4L1291.9,753.4L1289.2,753.4L1289.2,746.4L1286.5,746.4L1286.5,753.2L1283.8,753.2L1283.8,761.2L1281.1,761.2L1281.1,761.2L1278.4,761.2L1278.4,765.4L1275.7,765.4L1275.7,765.4L1273.0,765.4L1273.0,762.8L1270.3,762.8L1270.3,763.0L1267.6,763.0L1267.6,788.0L1264.9,788.0L1264.9,788.0L1262.2,788.0L1262.2,782.7L1259.5,782.7L1259.5,769.2L1256.8,769.2L1256.8,785.6L1254.1,785.6L1254.1,791.9L1251.4,791.9L1251.4,789.9L1248.7,789.9L1248.7,790.1L1246.0,790.1L1246.0,790.1L1243.3,790.1L1243.3,789.2L1240.6,789.2L1240.6,799.2L1237.9,799.2L1237.9,801.0L1235.2,801.0L1235.2,796.0L1232.5,796.0L1232.5,797.0L1229.8,797.0L1229.8,797.0L1227.1,797.0L1227.1,805.8L1224.4,805.8L1224.4,817.4L1221.7,817.4L1221.7,817.4L1219.0,817.4L1219.0,811.1L1216.3,811.1L1216.3,805.3L1213.6,805.3L1213.6,806.7L1210.9,806.7L1210.9,825.7L1208.2,825.7L1208.2,825.7L1205.5,825.7L1205.5,816.4L1202.8,816.4L1202.8,819.5L1200.1,819.5L1200.1,822.8L1197.4,822.8L1197.4,823.3L1194.7,823.3L1194.7,823.3L1192.0,823.3L1192.0,838.0L1189.3,838.0L1189.3,838.0L1186.6,838.0L1186.6,837.4L1183.9,837.4L1183.9,837.4L1181.2,837.4L1181.2,850.3L1178.5,850.3L1178.5,850.3L1175.8,850.3L1175.8,836.5L1173.1,836.5L1173.1,840.0L1170.4,840.0L1170.4,841.6L1167.7,841.6L1167.7,845.7L1165.0,845.7L1165.0,845.7L1162.3,845.7L1162.3,850.8L1159.6,850.8L1159.6,850.8L1156.9,850.8L1156.9,851.4L1154.2,851.4L1154.2,855.1L1151.5,855.1L1151.5,854.0L1148.8,854.0L1148.8,846.1L1146.1,846.1L1146.1,846.1L1143.4,846.1L1143.4,844.1L1140.7,844.1L1140.7,844.2L1138.0,844.2L1138.0,842.2L1135.3,842.2L1135.3,842.4L1132.6,842.4L1132.6,846.0L1129.9,846.0L1129.9,846.0L1127.2,846.0L1127.2,843.3L1124.5,843.3L1124.5,858.6L1121.8,858.6L1121.8,858.6L1119.1,858.6L1119.1,847.3L1116.4,847.3L1116.4,852.3L1113.7,852.3L1113.7,852.3L1111.0,852.3L1111.0,851.2L1108.3,851.2L1108.3,851.2L1105.6,851.2L1105.6,857.7L1102.9,857.7L1102.9,860.7L1100.2,860.7L1100.2,860.6L1097.5,860.6L1097.5,860.6L1094.8,860.6L1094.8,867.6L1092.1,867.6L1092.1,867.6L1089.4,867.6L1089.4,860.8L1086.7,860.8L1086.7,864.2L1084.0,864.2L1084.0,871.2L1081.3,871.2L1081.3,878.1L1078.6,878.1L1078.6,878.1L1075.9,878.1L1075.9,864.9L1073.2,864.9L1073.2,865.1L1070.5,865.1L1070.5,870.6L1067.8,870.6L1067.8,867.1L1065.1,867.1L1065.1,851.4L1062.4,851.4L1062.4,865.9L1059.7,865.9L1059.7,865.9L1057.0,865.9L1057.0,863.6L1054.3,863.6L1054.3,863.6L1051.6,863.6L1051.6,858.7L1048.9,858.7L1048.9,864.5L1046.2,864.5L1046.2,870.1L1043.5,870.1L1043.5,870.1L1040.8,870.1L1040.8,864.3L1038.1,864.3L1038.1,858.9L1035.4,858.9L1035.4,861.5L1032.7,861.5L1032.7,861.5L1030.0,861.5L1030.0,852.0L1027.3,852.0L1027.3,864.9L1024.6,864.9L1024.6,864.9L1021.9,864.9L1021.9,859.4L1019.2,859.4L1019.2,850.8L1016.5,850.8L1016.5,859.8L1013.8,859.8L1013.8,859.8L1011.1,859.8L1011.1,848.7L1008.4,848.7L1008.4,859.3L1005.7,859.3L1005.7,859.3L1003.0,859.3L1003.0,853.1L1000.3,853.1L1000.3,855.1L997.6,855.1L997.6,857.6L994.9,857.6L994.9,857.6L992.2,857.6L992.2,849.2L989.5,849.2L989.5,859.8L986.8,859.8L986.8,859.8L984.1,859.8L984.1,844.2L981.4,844.2L981.4,861.4L978.7,861.4L978.7,861.4L976.0,861.4L976.0,850.4L973.3,850.4L973.3,848.4L970.6,848.4L970.6,846.1L967.9,846.1L967.9,849.2L965.2,849.2L965.2,849.2L962.5,849.2L962.5,847.4L959.8,847.4L959.8,847.4L957.1,847.4L957.1,843.7L954.4,843.7L954.4,849.8L951.7,849.8L951.7,849.8L949.0,849.8L949.0,844.5L946.3,844.5L946.3,846.1L943.6,846.1L943.6,846.7L940.9,846.7L940.9,846.7L938.2,846.7L938.2,830.5L935.5,830.5L935.5,831.4L932.8,831.4L932.8,838.1L930.1,838.1L930.1,846.4L927.4,846.4L927.4,846.4L924.7,846.4L924.7,860.9L922.0,860.9L922.0,860.9L919.3,860.9L919.3,853.3L916.6,853.3L916.6,853.3L913.9,853.3L913.9,849.9L911.2,849.9L911.2,849.9L908.5,849.9L908.5,849.0L905.8,849.0L905.8,850.2L903.1,850.2L903.1,845.2L900.4,845.2L900.4,840.9L897.7,840.9L897.7,846.8L895.0,846.8L895.0,847.5L892.3,847.5L892.3,859.7L889.6,859.7L889.6,860.8L886.9,860.8L886.9,857.5L884.2,857.5L884.2,859.0L881.5,859.0L881.5,859.0L878.8,859.0L878.8,845.4L876.1,845.4L876.1,854.3L873.4,854.3L873.4,870.2L870.7,870.2L870.7,873.4L868.0,873.4L868.0,871.7L865.3,871.7L865.3,861.8L862.6,861.8L862.6,871.7L859.9,871.7L859.9,871.7L857.2,871.7L857.2,866.4L854.5,866.4L854.5,866.2L851.8,866.2L851.8,856.9L849.1,856.9L849.1,856.4L846.4,856.4L846.4,876.4L843.7,876.4L843.7,876.4L841.0,876.4L841.0,870.4L838.3,870.4L838.3,865.5L835.6,865.5L835.6,866.5L832.9,866.5L832.9,878.6L830.2,878.6L830.2,879.2L827.5,879.2L827.5,882.3L824.8,882.3L824.8,886.5L822.1,886.5L822.1,887.3L819.4,887.3L819.4,891.7L816.7,891.7L816.7,891.7L814.0,891.7L814.0,888.5L811.3,888.5L811.3,907.0L808.6,907.0L808.6,908.4L805.9,908.4L805.9,911.0L803.2,911.0L803.2,911.8L800.5,911.8L800.5,913.7L797.8,913.7L797.8,916.6L795.1,916.6L795.1,916.6L792.4,916.6L792.4,915.9L789.7,915.9L789.7,916.3L787.0,916.3L787.0,927.7L784.3,927.7L784.3,935.9L781.6,935.9L781.6,935.9L778.9,935.9L778.9,930.8L776.2,930.8L776.2,930.8L773.5,930.8L773.5,935.3L770.8,935.3L770.8,941.7L768.1,941.7L768.1,948.3L765.4,948.3L765.4,955.1L762.7,955.1L762.7,955.1L760.0,955.1L760.0,958.1L757.3,958.1L757.3,960.4L754.6,960.4L754.6,961.9L751.9,961.9L751.9,963.0L749.2,963.0L749.2,970.6L746.5,970.6L746.5,977.7L743.8,977.7L743.8,977.7L741.1,977.7L741.1,972.8L738.4,972.8L738.4,978.4L735.7,978.4L735.7,989.4L733.0,989.4L733.0,996.3L730.3,996.3L730.3,996.3L727.6,996.3L727.6,990.3L724.9,990.3L724.9,998.7L722.2,998.7L722.2,998.7L719.5,998.7L719.5,998.4L716.8,998.4L716.8,1001.2L714.1,1001.2L714.1,1002.5L711.4,1002.5L711.4,1002.5L708.7,1002.5L708.7,1002.8L706.0,1002.8L706.0,1011.8L703.3,1011.8L703.3,1017.4L700.6,1017.4L700.6,1024.7L697.9,1024.7L697.9,1024.7L695.2,1024.7L695.2,1023.0L692.5,1023.0L692.5,1029.0L689.8,1029.0L689.8,1029.0L687.1,1029.0L687.1,1026.6L684.4,1026.6L684.4,1045.0L681.7,1045.0L681.7,1045.0L679.0,1045.0L679.0,1031.9L676.3,1031.9L676.3,1031.9L673.6,1031.9L673.6,1046.7L670.9,1046.7L670.9,1046.7L668.2,1046.7L668.2,1046.5L665.5,1046.5L665.5,1050.6L662.8,1050.6L662.8,1050.8L660.1,1050.8L660.1,1050.8L657.4,1050.8L657.4,1059.5L654.7,1059.5L654.7,1065.3L652.0,1065.3L652.0,1066.0L649.3,1066.0L649.3,1066.0L646.6,1066.0L646.6,1061.5L643.9,1061.5L643.9,1073.0L641.2,1073.0L641.2,1073.0L638.5,1073.0L638.5,1072.0L635.8,1072.0L635.8,1070.4L633.1,1070.4L633.1,1072.8L630.4,1072.8L630.4,1080.0L627.7,1080.0L627.7,1080.0L625.0,1080.0L625.0,1082.3L622.3,1082.3L622.3,1086.3L619.6,1086.3L619.6,1086.6L616.9,1086.6L616.9,1094.4L614.2,1094.4L614.2,1094.7L611.5,1094.7L611.5,1094.7L608.8,1094.7L608.8,1088.0L606.1,1088.0L606.1,1098.1L603.4,1098.1L603.4,1100.5L600.7,1100.5L600.7,1099.6L598.0,1099.6L598.0,1097.8L595.3,1097.8L595.3,1101.2L592.6,1101.2L592.6,1101.2L589.9,1101.2L589.9,1097.0L587.2,1097.0L587.2,1097.1L584.5,1097.1L584.5,1101.5L581.8,1101.5L581.8,1101.5L579.1,1101.5L579.1,1101.9L576.4,1101.9L576.4,1108.9L573.7,1108.9L573.7,1108.9L571.0,1108.9L571.0,1106.6L568.3,1106.6L568.3,1108.8L565.6,1108.8L565.6,1108.6L562.9,1108.6L562.9,1110.1L560.2,1110.1L560.2,1110.1L557.5,1110.1L557.5,1111.8L554.8,1111.8L554.8,1112.1L552.1,1112.1L552.1,1110.6L549.4,1110.6L549.4,1113.8L546.7,1113.8L546.7,1113.8L544.0,1113.8L544.0,1116.6L541.3,1116.6L541.3,1116.6L538.6,1116.6L538.6,1108.3L535.9,1108.3L535.9,1105.5L533.2,1105.5L533.2,1110.4L530.5,1110.4L530.5,1110.4L527.8,1110.4L527.8,1109.3L525.1,1109.3L525.1,1109.3L522.4,1109.3L522.4,1106.0L519.7,1106.0L519.7,1106.1L517.0,1106.1L517.0,1106.0L514.3,1106.0L514.3,1106.3L511.6,1106.3L511.6,1114.0L508.9,1114.0L508.9,1114.0L506.2,1114.0L506.2,1113.5L503.5,1113.5L503.5,1114.0L500.8,1114.0L500.8,1117.2L498.1,1117.2L498.1,1117.2L495.4,1117.2L495.4,1114.6L492.7,1114.6L492.7,1113.2L490.0,1113.2L490.0,1119.6L487.3,1119.6L487.3,1120.1L484.6,1120.1L484.6,1120.2L481.9,1120.2L481.9,1124.2L479.2,1124.2L479.2,1124.5L476.5,1124.5L476.5,1124.5L473.8,1124.5L473.8,1132.4L471.1,1132.4L471.1,1132.4L468.4,1132.4L468.4,1126.3L465.7,1126.3L465.7,1140.8L463.0,1140.8L463.0,1140.8L460.3,1140.8L460.3,1132.2L457.6,1132.2L457.6,1136.6L454.9,1136.6L454.9,1136.7L452.2,1136.7L452.2,1140.4L449.5,1140.4L449.5,1141.5L446.8,1141.5L446.8,1141.5L444.1,1141.5L444.1,1146.4L441.4,1146.4L441.4,1146.4L438.7,1146.4L438.7,1143.9L436.0,1143.9L436.0,1143.7L433.3,1143.7L433.3,1143.4L430.6,1143.4L430.6,1142.2L427.9,1142.2L427.9,1142.2L425.2,1142.2L425.2,1141.5L422.5,1141.5L422.5,1146.2L419.8,1146.2L419.8,1146.9L417.1,1146.9L417.1,1146.4L414.4,1146.4L414.4,1146.4L411.7,1146.4L411.7,1148.5L409.0,1148.5L409.0,1148.5L406.3,1148.5L406.3,1146.8L403.6,1146.8L403.6,1147.9L400.9,1147.9L400.9,1147.9L398.2,1147.9L398.2,1147.9L395.5,1147.9L395.5,1147.8L392.8,1147.8L392.8,1147.6L390.1,1147.6L390.1,1149.1L387.4,1149.1L387.4,1149.5L384.7,1149.5L384.7,1149.2L382.0,1149.2L382.0,1145.5L379.3,1145.5L379.3,1146.0L376.6,1146.0L376.6,1146.0L373.9,1146.0L373.9,1145.5L371.2,1145.5L371.2,1143.5L368.5,1143.5L368.5,1144.8L365.8,1144.8L365.8,1148.0L363.1,1148.0L363.1,1148.0L360.4,1148.0L360.4,1142.9L357.7,1142.9L357.7,1142.9L355.0,1142.9L355.0,1138.4L352.3,1138.4L352.3,1137.7L349.6,1137.7L349.6,1134.7L346.9,1134.7L346.9,1132.3L344.2,1132.3L344.2,1132.3L341.5,1132.3L341.5,1131.8L338.8,1131.8L338.8,1132.3L336.1,1132.3L336.1,1133.5L333.4,1133.5L333.4,1132.5L330.7,1132.5L330.7,1123.2L328.0,1123.2L328.0,1120.9L325.3,1120.9L325.3,1122.4L322.6,1122.4L322.6,1122.4L319.9,1122.4L319.9,1121.7L317.2,1121.7L317.2,1120.7L314.5,1120.7L314.5,1119.1L311.8,1119.1L311.8,1120.8L309.1,1120.8L309.1,1126.4L306.4,1126.4L306.4,1129.3L303.7,1129.3L303.7,1134.5L301.0,1134.5L301.0,1136.0L298.3,1136.0L298.3,1135.9L295.6,1135.9L295.6,1134.0L292.9,1134.0L292.9,1138.0L290.2,1138.0L290.2,1138.0L287.5,1138.0L287.5,1141.3L284.8,1141.3L284.8,1144.7L282.1,1144.7L282.1,1144.6L279.4,1144.6L279.4,1144.1L276.7,1144.1Z" fill="#0000ff" stroke="none"/>
<path d="M276.7,1258.2L279.4,1258.2L279.4,1258.2L282.1,1258.2L282.1,1265.9L284.8,1265.9L284.8,1263.0L287.5,1263.0L287.5,1262.3L290.2,1262.3L290.2,1261.5L292.9,1261.5L292.9,1261.4L295.6,1261.4L295.6,1259.5L298.3,1259.5L298.3,1255.3L301.0,1255.3L301.0,1254.5L303.7,1254.5L303.7,1256.0L306.4,1256.0L306.4,1258.8L309.1,1258.8L309.1,1258.9L311.8,1258.9L311.8,1253.9L314.5,1253.9L314.5,1252.9L317.2,1252.9L317.2,1251.6L319.9,1251.6L319.9,1252.6L322.6,1252.6L322.6,1253.2L325.3,1253.2L325.3,1253.2L328.0,1253.2L328.0,1254.3L330.7,1254.3L330.7,1251.7L333.4,1251.7L333.4,1251.1L336.1,1251.1L336.1,1251.1L338.8,1251.1L338.8,1253.8L341.5,1253.8L341.5,1256.9L344.2,1256.9L344.2,1254.4L346.9,1254.4L346.9,1254.4L349.6,1254.4L349.6,1257.0L352.3,1257.0L352.3,1257.0L355.0,1257.0L355.0,1257.3L357.7,1257.3L357.7,1259.3L360.4,1259.3L360.4,1257.4L363.1,1257.4L363.1,1257.1L365.8,1257.1L365.8,1257.1L368.5,1257.1L368.5,1257.5L371.2,1257.5L371.2,1257.7L373.9,1257.7L373.9,1252.2L376.6,1252.2L376.6,1252.2L379.3,1252.2L379.3,1257.5L382.0,1257.5L382.0,1258.7L384.7,1258.7L384.7,1259.5L387.4,1259.5L387.4,1260.1L390.1,1260.1L390.1,1260.0L392.8,1260.0L392.8,1256.5L395.5,1256.5L395.5,1256.5L398.2,1256.5L398.2,1257.0L400.9,1257.0L400.9,1259.6L403.6,1259.6L403.6,1259.2L406.3,1259.2L406.3,1259.2L409.0,1259.2L409.0,1261.4L411.7,1261.4L411.7,1262.5L414.4,1262.5L414.4,1260.6L417.1,1260.6L417.1,1259.6L419.8,1259.6L419.8,1260.2L422.5,1260.2L422.5,1263.2L425.2,1263.2L425.2,1259.8L427.9,1259.8L427.9,1259.8L430.6,1259.8L430.6,1261.7L433.3,1261.7L433.3,1261.4L436.0,1261.4L436.0,1262.1L438.7,1262.1L438.7,1262.5L441.4,1262.5L441.4,1263.6L444.1,1263.6L444.1,1260.7L446.8,1260.7L446.8,1259.7L449.5,1259.7L449.5,1259.6L452.2,1259.6L452.2,1259.1L454.9,1259.1L454.9,1259.2L457.6,1259.2L457.6,1261.1L460.3,1261.1L460.3,1258.0L463.0,1258.0L463.0,1258.0L465.7,1258.0L465.7,1252.2L468.4,1252.2L468.4,1252.2L471.1,1252.2L471.1,1256.5L473.8,1256.5L473.8,1255.3L476.5,1255.3L476.5,1255.3L479.2,1255.3L479.2,1252.0L481.9,1252.0L481.9,1252.0L484.6,1252.0L484.6,1254.9L487.3,1254.9L487.3,1255.4L490.0,1255.4L490.0,1253.7L492.7,1253.7L492.7,1252.1L495.4,1252.1L495.4,1250.9L498.1,1250.9L498.1,1250.9L500.8,1250.9L500.8,1249.0L503.5,1249.0L503.5,1249.0L506.2,1249.0L506.2,1251.5L508.9,1251.5L508.9,1247.1L511.6,1247.1L511.6,1240.8L514.3,1240.8L514.3,1240.8L517.0,1240.8L517.0,1243.1L519.7,1243.1L519.7,1240.6L522.4,1240.6L522.4,1241.1L525.1,1241.1L525.1,1243.7L527.8,1243.7L527.8,1247.6L530.5,1247.6L530.5,1242.7L533.2,1242.7L533.2,1242.7L535.9,1242.7L535.9,1248.7L538.6,1248.7L538.6,1248.8L541.3,1248.8L541.3,1244.6L544.0,1244.6L544.0,1235.8L546.7,1235.8L546.7,1235.8L549.4,1235.8L549.4,1241.7L552.1,1241.7L552.1,1242.1L554.8,1242.1L554.8,1240.7L557.5,1240.7L557.5,1237.3L560.2,1237.3L560.2,1235.1L562.9,1235.1L562.9,1229.3L565.6,1229.3L565.6,1229.3L568.3,1229.3L568.3,1231.0L571.0,1231.0L571.0,1231.7L573.7,1231.7L573.7,1231.7L576.4,1231.7L576.4,1233.3L579.1,1233.3L579.1,1231.5L581.8,1231.5L581.8,1223.5L584.5,1223.5L584.5,1223.5L587.2,1223.5L587.2,1228.4L589.9,1228.4L589.9,1230.8L592.6,1230.8L592.6,1231.2L595.3,1231.2L595.3,1222.9L598.0,1222.9L598.0,1222.9L600.7,1222.9L600.7,1227.0L603.4,1227.0L603.4,1223.5L606.1,1223.5L606.1,1214.5L608.8,1214.5L608.8,1214.5L611.5,1214.5L611.5,1217.5L614.2,1217.5L614.2,1216.0L616.9,1216.0L616.9,1215.2L619.6,1215.2L619.6,1216.5L622.3,1216.5L622.3,1213.0L625.0,1213.0L625.0,1207.9L627.7,1207.9L627.7,1207.9L630.4,1207.9L630.4,1207.9L633.1,1207.9L633.1,1207.5L635.8,1207.5L635.8,1209.1L638.5,1209.1L638.5,1207.2L641.2,1207.2L641.2,1207.0L643.9,1207.0L643.9,1207.0L646.6,1207.0L646.6,1194.2L649.3,1194.2L649.3,1194.2L652.0,1194.2L652.0,1194.8L654.7,1194.8L654.7,1202.1L657.4,1202.1L657.4,1186.6L660.1,1186.6L660.1,1186.6L662.8,1186.6L662.8,1191.4L665.5,1191.4L665.5,1188.4L668.2,1188.4L668.2,1183.6L670.9,1183.6L670.9,1183.6L673.6,1183.6L673.6,1184.4L676.3,1184.4L676.3,1184.4L679.0,1184.4L679.0,1179.0L681.7,1179.0L681.7,1179.0L684.4,1179.0L684.4,1179.3L687.1,1179.3L687.1,1177.9L689.8,1177.9L689.8,1172.3L692.5,1172.3L692.5,1172.3L695.2,1172.3L695.2,1164.6L697.9,1164.6L697.9,1164.6L700.6,1164.6L700.6,1166.1L703.3,1166.1L703.3,1169.2L706.0,1169.2L706.0,1169.2L708.7,1169.2L708.7,1164.5L711.4,1164.5L711.4,1159.1L714.1,1159.1L714.1,1148.7L716.8,1148.7L716.8,1148.7L719.5,1148.7L719.5,1155.2L722.2,1155.2L722.2,1144.6L724.9,1144.6L724.9,1144.6L727.6,1144.6L727.6,1146.2L730.3,1146.2L730.3,1141.7L733.0,1141.7L733.0,1141.7L735.7,1141.7L735.7,1137.9L738.4,1137.9L738.4,1132.4L741.1,1132.4L741.1,1126.7L743.8,1126.7L743.8,1126.7L746.5,1126.7L746.5,1129.3L749.2,1129.3L749.2,1126.8L751.9,1126.8L751.9,1111.4L754.6,1111.4L754.6,1111.4L757.3,1111.4L757.3,1106.7L760.0,1106.7L760.0,1106.7L762.7,1106.7L762.7,1100.5L765.4,1100.5L765.4,1100.5L768.1,1100.5L768.1,1108.0L770.8,1108.0L770.8,1106.0L773.5,1106.0L773.5,1098.6L776.2,1098.6L776.2,1095.9L778.9,1095.9L778.9,1095.9L781.6,1095.9L781.6,1093.3L784.3,1093.3L784.3,1093.3L787.0,1093.3L787.0,1084.0L789.7,1084.0L789.7,1083.5L792.4,1083.5L792.4,1083.5L795.1,1083.5L795.1,1085.6L797.8,1085.6L797.8,1083.0L800.5,1083.0L800.5,1076.2L803.2,1076.2L803.2,1076.2L805.9,1076.2L805.9,1074.1L808.6,1074.1L808.6,1070.7L811.3,1070.7L811.3,1070.7L814.0,1070.7L814.0,1060.3L816.7,1060.3L816.7,1056.3L819.4,1056.3L819.4,1056.3L822.1,1056.3L822.1,1049.3L824.8,1049.3L824.8,1047.5L827.5,1047.5L827.5,1047.5L830.2,1047.5L830.2,1049.8L832.9,1049.8L832.9,1047.5L835.6,1047.5L835.6,1047.5L838.3,1047.5L838.3,1035.9L841.0,1035.9L841.0,1035.9L843.7,1035.9L843.7,1041.4L846.4,1041.4L846.4,1032.4L849.1,1032.4L849.1,1032.3L851.8,1032.3L851.8,1028.7L854.5,1028.7L854.5,1026.3L857.2,1026.3L857.2,1026.3L859.9,1026.3L859.9,1025.2L862.6,1025.2L862.6,1025.2L865.3,1025.2L865.3,1027.0L868.0,1027.0L868.0,1029.7L870.7,1029.7L870.7,1023.6L873.4,1023.6L873.4,1012.3L876.1,1012.3L876.1,1012.3L878.8,1012.3L878.8,1020.8L881.5,1020.8L881.5,1012.8L884.2,1012.8L884.2,1012.8L886.9,1012.8L886.9,1011.9L889.6,1011.9L889.6,1012.0L892.3,1012.0L892.3,998.3L895.0,998.3L895.0,998.3L897.7,998.3L897.7,1010.6L900.4,1010.6L900.4,1007.3L903.1,1007.3L903.1,1007.3L905.8,1007.3L905.8,1012.2L908.5,1012.2L908.5,1009.2L911.2,1009.2L911.2,1002.3L913.9,1002.3L913.9,998.6L916.6,998.6L916.6,998.6L919.3,998.6L919.3,1000.1L922.0,1000.1L922.0,999.9L924.7,999.9L924.7,999.9L927.4,999.9L927.4,993.6L930.1,993.6L930.1,993.6L932.8,993.6L932.8,996.4L935.5,996.4L935.5,988.1L938.2,988.1L938.2,988.1L940.9,988.1L940.9,994.1L943.6,994.1L943.6,994.1L946.3,994.1L946.3,993.4L949.0,993.4L949.0,990.9L951.7,990.9L951.7,990.0L954.4,990.0L954.4,990.5L957.1,990.5L957.1,988.4L959.8,988.4L959.8,988.4L962.5,988.4L962.5,988.2L965.2,988.2L965.2,988.2L967.9,988.2L967.9,996.5L970.6,996.5L970.6,994.1L973.3,994.1L973.3,994.2L976.0,994.2L976.0,997.6L978.7,997.6L978.7,971.4L981.4,971.4L981.4,971.4L984.1,971.4L984.1,991.0L986.8,991.0L986.8,991.3L989.5,991.3L989.5,991.9L992.2,991.9L992.2,981.0L994.9,981.0L994.9,975.3L997.6,975.3L997.6,975.3L1000.3,975.3L1000.3,978.6L1003.0,978.6L1003.0,978.6L1005.7,978.6L1005.7,981.5L1008.4,981.5L1008.4,981.5L1011.1,981.5L1011.1,985.8L1013.8,985.8L1013.8,985.8L1016.5,985.8L1016.5,987.1L1019.2,987.1L1019.2,976.1L1021.9,976.1L1021.9,972.2L1024.6,972.2L1024.6,972.2L1027.3,972.2L1027.3,978.0L1030.0,978.0L1030.0,974.4L1032.7,974.4L1032.7,974.3L1035.4,974.3L1035.4,978.7L1038.1,978.7L1038.1,974.1L1040.8,974.1L1040.8,974.1L1043.5,974.1L1043.5,976.9L1046.2,976.9L1046.2,976.2L1048.9,976.2L1048.9,976.2L1051.6,976.2L1051.6,981.0L1054.3,981.0L1054.3,974.2L1057.0,974.2L1057.0,974.2L1059.7,974.2L1059.7,984.1L1062.4,984.1L1062.4,980.7L1065.1,980.7L1065.1,979.6L1067.8,979.6L1067.8,979.1L1070.5,979.1L1070.5,980.9L1073.2,980.9L1073.2,979.5L1075.9,979.5L1075.9,979.5L1078.6,979.5L1078.6,974.6L1081.3,974.6L1081.3,974.6L1084.0,974.6L1084.0,970.3L1086.7,970.3L1086.7,970.3L1089.4,970.3L1089.4,979.5L1092.1,979.5L1092.1,987.2L1094.8,987.2L1094.8,980.5L1097.5,980.5L1097.5,980.5L1100.2,980.5L1100.2,978.1L1102.9,978.1L1102.9,978.1L1105.6,978.1L1105.6,979.2L1108.3,979.2L1108.3,979.2L1111.0,979.2L1111.0,982.9L1113.7,982.9L1113.7,980.6L1116.4,980.6L1116.4,969.6L1119.1,969.6L1119.1,967.8L1121.8,967.8L1121.8,969.2L1124.5,969.2L1124.5,975.7L1127.2,975.7L1127.2,973.7L1129.9,973.7L1129.9,973.7L1132.6,973.7L1132.6,986.1L1135.3,986.1L1135.3,971.4L1138.0,971.4L1138.0,968.7L1140.7,968.7L1140.7,968.8L1143.4,968.8L1143.4,972.3L1146.1,972.3L1146.1,972.3L1148.8,972.3L1148.8,968.3L1151.5,968.3L1151.5,968.3L1154.2,968.3L1154.2,967.1L1156.9,967.1L1156.9,967.1L1159.6,967.1L1159.6,972.0L1162.3,972.0L1162.3,963.0L1165.0,963.0L1165.0,963.0L1167.7,963.0L1167.7,957.4L1170.4,957.4L1170.4,955.9L1173.1,955.9L1173.1,953.8L1175.8,953.8L1175.8,946.4L1178.5,946.4L1178.5,946.4L1181.2,946.4L1181.2,956.8L1183.9,956.8L1183.9,958.8L1186.6,958.8L1186.6,956.5L1189.3,956.5L1189.3,952.8L1192.0,952.8L1192.0,952.8L1194.7,952.8L1194.7,947.1L1197.4,947.1L1197.4,944.3L1200.1,944.3L1200.1,943.5L1202.8,943.5L1202.8,944.5L1205.5,944.5L1205.5,942.2L1208.2,942.2L1208.2,942.2L1210.9,942.2L1210.9,939.5L1213.6,939.5L1213.6,921.5L1216.3,921.5L1216.3,921.4L1219.0,921.4L1219.0,926.5L1221.7,926.5L1221.7,917.9L1224.4,917.9L1224.4,917.9L1227.1,917.9L1227.1,926.0L1229.8,926.0L1229.8,922.2L1232.5,922.2L1232.5,916.4L1235.2,916.4L1235.2,916.3L1237.9,916.3L1237.9,909.5L1240.6,909.5L1240.6,899.9L1243.3,899.9L1243.3,899.9L1246.0,899.9L1246.0,901.3L1248.7,901.3L1248.7,901.3L1251.4,901.3L1251.4,898.8L1254.1,898.8L1254.1,892.3L1256.8,892.3L1256.8,884.9L1259.5,884.9L1259.5,884.9L1262.2,884.9L1262.2,899.4L1264.9,899.4L1264.9,894.4L1267.6,894.4L1267.6,885.5L1270.3,885.5L1270.3,883.8L1273.0,883.8L1273.0,883.8L1275.7,883.8L1275.7,884.7L1278.4,884.7L1278.4,868.6L1281.1,868.6L1281.1,864.4L1283.8,864.4L1283.8,863.6L1286.5,863.6L1286.5,865.6L1289.2,865.6L1289.2,871.9L1291.9,871.9L1291.9,868.8L1294.6,868.8L1294.6,868.8L1297.3,868.8L1297.3,851.7L1300.0,851.7L1300.0,851.7L1302.7,851.7L1302.7,855.6L1305.4,855.6L1305.4,845.8L1308.1,845.8L1308.1,845.8L1310.8,845.8L1310.8,837.7L1313.5,837.7L1313.5,837.7L1316.2,837.7L1316.2,838.2L1318.9,838.2L1318.9,833.1L1321.6,833.1L1321.6,833.1L1324.3,833.1L1324.3,838.3L1327.0,838.3L1327.0,830.3L1329.7,830.3L1329.7,816.8L1332.4,816.8L1332.4,816.8L1335.1,816.8L1335.1,808.4L1337.8,808.4L1337.8,808.4L1340.5,808.4L1340.5,814.1L1343.2,814.1L1343.2,815.0L1345.9,815.0L1345.9,810.9L1348.6,810.9L1348.6,809.6L1351.3,809.6L1351.3,802.0L1354.0,802.0L1354.0,792.6L1356.7,792.6L1356.7,792.6L1359.4,792.6L1359.4,793.5L1362.1,793.5L1362.1,791.6L1364.8,791.6L1364.8,785.4L1367.5,785.4L1367.5,782.5L1370.2,782.5L1370.2,777.5L1372.9,777.5L1372.9,770.9L1375.6,770.9L1375.6,770.9L1378.3,770.9L1378.3,777.8L1381.0,777.8L1381.0,763.7L1383.7,763.7L1383.7,758.7L1386.4,758.7L1386.4,755.5L1389.1,755.5L1389.1,756.8L1391.8,756.8L1391.8,749.2L1394.5,749.2L1394.5,741.8L1397.2,741.8L1397.2,729.5L1399.9,729.5L1399.9,729.5L1402.6,729.5L1402.6,723.2L1405.3,723.2L1405.3,713.4L1408.0,713.4L1408.0,713.4L1410.7,713.4L1410.7,728.2L1413.4,728.2L1413.4,709.1L1416.1,709.1L1416.1,699.5L1418.8,699.5L1418.8,694.7L1421.5,694.7L1421.5,699.6L1424.2,699.6L1424.2,716.7L1426.9,716.7L1426.9,709.0L1429.6,709.0L1429.6,704.6L1432.3,704.6L1432.3,683.7L1435.0,683.7L1435.0,674.8L1437.7,674.8L1437.7,669.9L1440.4,669.9L1440.4,670.3L1443.1,670.3L1443.1,662.1L1445.8,662.1L1445.8,650.8L1448.5,650.8L1448.5,650.8L1451.2,650.8L1451.2,655.4L1453.9,655.4L1453.9,632.3L1456.6,632.3L1456.6,632.3L1459.3,632.3L1459.3,637.9L1462.0,637.9L1462.0,637.9L1464.7,637.9L1464.7,619.3L1467.4,619.3L1467.4,603.4L1470.1,603.4L1470.1,600.4L1472.8,600.4L1472.8,603.0L1475.5,603.0L1475.5,617.1L1478.2,617.1L1478.2,603.0L1480.9,603.0L1480.9,601.0L1483.6,601.0L1483.6,588.5L1486.3,588.5L1486.3,579.8L1489.0,579.8L1489.0,579.8L1491.7,579.8L1491.7,593.1L1494.4,593.1L1494.4,593.6L1497.1,593.6L1497.1,585.4L1499.8,585.4L1499.8,577.3L1502.5,577.3L1502.5,577.3L1505.2,577.3L1505.2,592.2L1507.9,592.2L1507.9,576.3L1510.6,576.3L1510.6,576.3L1513.3,576.3L1513.3,580.8L1516.0,580.8L1516.0,571.4L1518.7,571.4L1518.7,571.4L1521.4,571.4L1521.4,568.0L1524.1,568.0L1524.1,568.3L1526.8,568.3L1526.8,566.3L1529.5,566.3L1529.5,566.3L1532.2,566.3L1532.2,566.6L1534.9,566.6L1534.9,563.0L1537.6,563.0L1537.6,563.0L1540.3,563.0L1540.3,555.3L1543.0,555.3L1543.0,555.3L1545.7,555.3L1545.7,558.5L1548.4,558.5L1548.4,555.4L1551.1,555.4L1551.1,555.4L1553.8,555.4L1553.8,538.0L1556.5,538.0L1556.5,534.2L1559.2,534.2L1559.2,534.2L1561.9,534.2L1561.9,544.6L1564.6,544.6L1564.6,544.6L1567.3,544.6L1567.3,548.5L1570.0,548.5L1570.0,546.0L1572.7,546.0L1572.7,539.7L1575.4,539.7L1575.4,539.7L1578.1,539.7L1578.1,553.2L1580.8,553.2L1580.8,536.6L1583.5,536.6L1583.5,536.6L1586.2,536.6L1586.2,541.1L1588.9,541.1L1588.9,545.9L1591.6,545.9L1591.6,545.9L1594.3,545.9L1594.3,553.5L1597.0,553.5L1597.0,553.5L1599.7,553.5L1599.7,564.1L1602.4,564.1L1602.4,567.3L1605.1,567.3L1605.1,565.1L1607.8,565.1L1607.8,563.6L1610.5,563.6L1610.5,563.6L1613.2,563.6L1613.2,574.4L1615.9,574.4L1615.9,571.3L1618.6,571.3L1618.6,571.3L1621.3,571.3L1621.3,575.1L1624.0,575.1L1624.0,579.3L1626.7,579.3L1626.7,579.3L1629.4,579.3L1629.4,592.6L1632.1,592.6L1632.1,600.3L1634.8,600.3L1634.8,585.2L1637.5,585.2L1637.5,582.6L1640.2,582.6L1640.2,584.0L1642.9,584.0L1642.9,595.5L1645.6,595.5L1645.6,596.0L1648.3,596.0L1648.3,613.0L1651.0,613.0L1651.0,622.7L1653.7,622.7L1653.7,617.1L1656.4,617.1L1656.4,616.1L1659.1,616.1L1659.1,616.1L1661.8,616.1L1661.8,615.9L1664.5,615.9L1664.5,615.9L1667.2,615.9L1667.2,629.7L1669.9,629.7L1669.9,631.0L1672.6,631.0L1672.6,640.7L1675.3,640.7L1675.3,640.7L1678.0,640.7L1678.0,652.1L1680.7,652.1L1680.7,652.1L1683.4,652.1L1683.4,658.8L1686.1,658.8L1686.1,678.2L1688.8,678.2L1688.8,681.4L1691.5,681.4L1691.5,684.0L1694.2,684.0L1694.2,678.9L1696.9,678.9L1696.9,678.9L1699.6,678.9L1699.6,691.7L1702.3,691.7L1702.3,701.2L1705.0,701.2L1705.0,719.9L1707.7,719.9L1707.7,716.1L1710.4,716.1L1710.4,716.1L1713.1,716.1L1713.1,721.2L1715.8,721.2L1715.8,721.2L1718.5,721.2L1718.5,726.8L1721.2,726.8L1721.2,729.2L1723.9,729.2L1723.9,743.5L1726.6,743.5L1726.6,742.5L1729.3,742.5L1729.3,742.5L1732.0,742.5L1732.0,743.8L1734.7,743.8L1734.7,743.8L1737.4,743.8L1737.4,756.7L1740.1,756.7L1740.1,758.0L1742.8,758.0L1742.8,763.3L1745.5,763.3L1745.5,765.3L1748.2,765.3L1748.2,777.8L1750.9,777.8L1750.9,782.8L1753.6,782.8L1753.6,785.4L1756.3,785.4L1756.3,789.7L1759.0,789.7L1759.0,789.7L1761.7,789.7L1761.7,803.8L1764.4,803.8L1764.4,808.1L1767.1,808.1L1767.1,808.1L1769.8,808.1L1769.8,812.0L1772.5,812.0L1772.5,813.6L1775.2,813.6L1775.2,813.6L1777.9,813.6L1777.9,826.4L1780.6,826.4L1780.6,827.2L1783.3,827.2L1783.3,831.5L1786.0,831.5L1786.0,827.2L1788.7,827.2L1788.7,827.2L1791.4,827.2L1791.4,841.7L1794.1,841.7L1794.1,853.4L1796.8,853.4L1796.8,854.3L1799.5,854.3L1799.5,854.3L1802.2,854.3L1802.2,868.6L1804.9,868.6L1804.9,868.7L1807.6,868.7L1807.6,869.7L1810.3,869.7L1810.3,876.5L1813.0,876.5L1813.0,876.1L1815.7,876.1L1815.7,876.1L1818.4,876.1L1818.4,884.7L1821.1,884.7L1821.1,884.9L1823.8,884.9L1823.8,883.9L1826.5,883.9L1826.5,883.9L1829.2,883.9L1829.2,891.2L1831.9,891.2L1831.9,891.2L1834.6,891.2L1834.6,898.6L1837.3,898.6L1837.3,898.4L1840.0,898.4L1840.0,900.2L1842.7,900.2L1842.7,909.0L1845.4,909.0L1845.4,915.2L1848.1,915.2L1848.1,916.6L1850.8,916.6L1850.8,924.4L1853.5,924.4L1853.5,928.6L1856.2,928.6L1856.2,919.4L1858.9,919.4L1858.9,919.4L1861.6,919.4L1861.6,920.4L1864.3,920.4L1864.3,940.0L1867.0,940.0L1867.0,945.4L1869.7,945.4L1869.7,941.7L1872.4,941.7L1872.4,941.7L1875.1,941.7L1875.1,946.1L1877.8,946.1L1877.8,954.0L1880.5,954.0L1880.5,954.0L1883.2,954.0L1883.2,957.6L1885.9,957.6L1885.9,962.1L1888.6,962.1L1888.6,963.9L1891.3,963.9L1891.3,971.0L1894.0,971.0L1894.0,969.4L1896.7,969.4L1896.7,969.4L1899.4,969.4L1899.4,978.7L1902.1,978.7L1902.1,982.1L1904.8,982.1L1904.8,982.3L1907.5,982.3L1907.5,975.4L1910.2,975.4L1910.2,975.4L1912.9,975.4L1912.9,985.1L1915.6,985.1L1915.6,990.5L1918.3,990.5L1918.3,989.8L1921.0,989.8L1921.0,986.8L1923.7,986.8L1923.7,988.1L1926.4,988.1L1926.4,1003.0L1929.1,1003.0L1929.1,1003.3L1931.8,1003.3L1931.8,1007.5L1934.5,1007.5L1934.5,1007.5L1937.2,1007.5L1937.2,1011.3L1939.9,1011.3L1939.9,1015.2L1942.6,1015.2L1942.6,1012.7L1945.3,1012.7L1945.3,1012.7L1948.0,1012.7L1948.0,1014.4L1950.7,1014.4L1950.7,1019.9L1953.4,1019.9L1953.4,1025.0L1956.1,1025.0L1956.1,1024.2L1958.8,1024.2L1958.8,1024.2L1961.5,1024.2L1961.5,1029.1L1964.2,1029.1L1964.2,1033.6L1966.9,1033.6L1966.9,1031.3L1969.6,1031.3L1969.6,1029.4L1972.3,1029.4L1972.3,1030.3L1975.0,1030.3L1975.0,1031.0L1977.7,1031.0L1977.7,1040.4L1980.4,1040.4L1980.4,1040.5L1983.1,1040.5L1983.1,1045.4L1985.8,1045.4L1985.8,1043.5L1988.5,1043.5L1988.5,1043.5L1991.2,1043.5L1991.2,1048.4L1993.9,1048.4L1993.9,1048.4L1996.6,1048.4L1996.6,1049.7L1999.3,1049.7L1999.3,1049.7L2002.0,1049.7L2002.0,1037.8L2004.7,1037.8L2004.7,1037.8L2007.4,1037.8L2007.4,1062.1L2010.1,1062.1L2010.1,1056.3L2012.8,1056.3L2012.8,1051.8L2015.5,1051.8L2015.5,1051.8L2018.2,1051.8L2018.2,1050.2L2020.9,1050.2L2020.9,1049.7L2023.6,1049.7L2023.6,1051.5L2026.3,1051.5L2026.3,1060.3L2029.0,1060.3L2029.0,1060.3L2031.7,1060.3L2031.7,1066.3L2034.4,1066.3L2034.4,1067.0L2037.1,1067.0L2037.1,1067.0L2039.8,1067.0L2039.8,1067.6L2042.5,1067.6L2042.5,1067.6L2045.2,1067.6L2045.2,1067.6L2047.9,1067.6L2047.9,1072.0L2050.6,1072.0L2050.6,1072.8L2053.3,1072.8L2053.3,1072.1L2056.0,1072.1L2056.0,1063.2L2058.7,1063.2L2058.7,1063.2L2061.4,1063.2L2061.4,1063.4L2064.1,1063.4L2064.1,1072.3L2066.8,1072.3L2066.8,1072.3L2069.5,1072.3L2069.5,1075.4L2072.2,1075.4L2072.2,1075.4L2074.9,1075.4L2074.9,1078.7L2077.6,1078.7L2077.6,1073.6L2080.3,1073.6L2080.3,1073.6L2083.0,1073.6L2083.0,1079.8L2085.7,1079.8L2085.7,1079.8L2088.4,1079.8L2088.4,1084.5L2091.1,1084.5L2091.1,1084.4L2093.8,1084.4L2093.8,1084.4L2096.5,1084.4L2096.5,1086.4L2099.2,1086.4L2099.2,1086.5L2101.9,1086.5L2101.9,1086.5L2104.6,1086.5L2104.6,1093.6L2107.3,1093.6L2107.3,1096.3L2110.0,1096.3L2110.0,1093.3L2112.7,1093.3L2112.7,1091.1L2115.4,1091.1L2115.4,1091.1L2118.1,1091.1L2118.1,1091.5L2120.8,1091.5L2120.8,1091.1L2123.5,1091.1L2123.5,1091.1L2126.2,1091.1L2126.2,1092.7L2128.9,1092.7L2128.9,1100.5L2131.6,1100.5L2131.6,1100.0L2134.3,1100.0L2134.3,1100.0L2137.0,1100.0L2137.0,1098.3L2139.7,1098.3L2139.7,1098.3L2142.4,1098.3L2142.4,1101.8L2145.1,1101.8L2145.1,1099.2L2147.8,1099.2L2147.8,1099.2L2150.5,1099.2L2150.5,1100.8L2153.2,1100.8L2153.2,1106.1L2155.9,1106.1L2155.9,1110.1L2158.6,1110.1L2158.6,1110.8L2161.3,1110.8L2161.3,1111.4L2164.0,1111.4L2164.0,1112.9L2166.7,1112.9L2166.7,1115.0L2169.4,1115.0L2169.4,1110.8L2172.1,1110.8L2172.1,1110.8L2174.8,1110.8L2174.8,1114.0L2177.5,1114.0L2177.5,1111.0L2180.2,1111.0L2180.2,1111.0L2182.9,1111.0L2182.9,1116.2L2185.6,1116.2L2185.6,1111.2L2188.3,1111.2L2188.3,1108.3L2191.0,1108.3L2191.0,1110.1L2193.7,1110.1L2193.7,1116.9L2196.4,1116.9L2196.4,1115.8L2199.1,1115.8L2199.1,1115.8L2201.8,1115.8L2201.8,1119.2L2204.5,1119.2L2204.5,1116.1L2207.2,1116.1L2207.2,1116.1L2209.9,1116.1L2209.9,1122.8L2212.6,1122.8L2212.6,1119.5L2215.3,1119.5L2215.3,1119.1L2218.0,1119.1L2218.0,1119.1L2220.7,1119.1L2220.7,1128.8L2223.4,1128.8L2223.4,1128.2L2226.1,1128.2L2226.1,1127.1L2228.8,1127.1L2228.8,1125.9L2231.5,1125.9L2231.5,1125.9L2234.2,1125.9L2234.2,1130.7L2236.9,1130.7L2236.9,1134.5L2239.6,1134.5L2239.6,1131.7L2242.3,1131.7L2242.3,1129.3L2245.0,1129.3L2245.0,1129.3L2247.7,1129.3L2247.7,1124.3L2250.4,1124.3L2250.4,1124.3L2253.1,1124.3L2253.1,1133.6L2255.8,1133.6L2255.8,1133.6L2258.5,1133.6L2258.5,1137.6L2261.2,1137.6L2261.2,1135.6L2263.9,1135.6L2263.9,1135.6L2266.6,1135.6L2266.6,1141.1L2269.3,1141.1L2269.3,1135.7L2272.0,1135.7L2272.0,1132.2L2274.7,1132.2L2274.7,1132.8L2277.4,1132.8L2277.4,1139.2L2280.1,1139.2L2280.1,1139.2L2282.8,1139.2L2282.8,1132.7L2285.5,1132.7L2285.5,1132.7L2288.2,1132.7L2288.2,1146.1L2290.9,1146.1L2290.9,1143.4L2293.6,1143.4L2293.6,1143.4L2296.3,1143.4L2296.3,1142.9L2299.0,1142.9L2299.0,1142.9L2301.7,1142.9L2301.7,1145.6L2304.4,1145.6L2304.4,1142.1L2307.1,1142.1L2307.1,1142.1L2309.8,1142.1L2309.8,1145.2L2312.5,1145.2L2312.5,1148.6L2315.2,1148.6L2315.2,1148.6L2317.9,1148.6L2317.9,1143.4L2320.6,1143.4L2320.6,1142.1L2323.3,1142.1L2323.3,1143.6L2326.0,1143.6L2326.0,1146.1L2328.7,1146.1L2328.7,1146.1L2331.4,1146.1L2331.4,1151.4L2333.0,1151.4L2333.0,1160.5L2331.4,1160.5L2331.4,1160.5L2328.7,1160.5L2328.7,1157.8L2326.0,1157.8L2326.0,1157.4L2323.3,1157.4L2323.3,1164.0L2320.6,1164.0L2320.6,1167.8L2317.9,1167.8L2317.9,1167.8L2315.2,1167.8L2315.2,1160.4L2312.5,1160.4L2312.5,1160.4L2309.8,1160.4L2309.8,1159.8L2307.1,1159.8L2307.1,1154.3L2304.4,1154.3L2304.4,1161.7L2301.7,1161.7L2301.7,1161.7L2299.0,1161.7L2299.0,1158.0L2296.3,1158.0L2296.3,1158.0L2293.6,1158.0L2293.6,1155.2L2290.9,1155.2L2290.9,1155.5L2288.2,1155.5L2288.2,1155.0L2285.5,1155.0L2285.5,1165.9L2282.8,1165.9L2282.8,1165.9L2280.1,1165.9L2280.1,1156.2L2277.4,1156.2L2277.4,1156.2L2274.7,1156.2L2274.7,1159.7L2272.0,1159.7L2272.0,1162.0L2269.3,1162.0L2269.3,1161.9L2266.6,1161.9L2266.6,1154.1L2263.9,1154.1L2263.9,1148.1L2261.2,1148.1L2261.2,1152.2L2258.5,1152.2L2258.5,1152.2L2255.8,1152.2L2255.8,1147.3L2253.1,1147.3L2253.1,1147.3L2250.4,1147.3L2250.4,1146.3L2247.7,1146.3L2247.7,1144.8L2245.0,1144.8L2245.0,1149.0L2242.3,1149.0L2242.3,1152.1L2239.6,1152.1L2239.6,1153.2L2236.9,1153.2L2236.9,1152.3L2234.2,1152.3L2234.2,1148.9L2231.5,1148.9L2231.5,1148.9L2228.8,1148.9L2228.8,1145.3L2226.1,1145.3L2226.1,1145.3L2223.4,1145.3L2223.4,1146.0L2220.7,1146.0L2220.7,1146.0L2218.0,1146.0L2218.0,1130.6L2215.3,1130.6L2215.3,1139.9L2212.6,1139.9L2212.6,1139.9L2209.9,1139.9L2209.9,1136.6L2207.2,1136.6L2207.2,1134.6L2204.5,1134.6L2204.5,1134.6L2201.8,1134.6L2201.8,1134.1L2199.1,1134.1L2199.1,1134.1L2196.4,1134.1L2196.4,1132.7L2193.7,1132.7L2193.7,1135.8L2191.0,1135.8L2191.0,1135.8L2188.3,1135.8L2188.3,1126.9L2185.6,1126.9L2185.6,1128.3L2182.9,1128.3L2182.9,1128.3L2180.2,1128.3L2180.2,1127.3L2177.5,1127.3L2177.5,1126.0L2174.8,1126.0L2174.8,1124.9L2172.1,1124.9L2172.1,1133.3L2169.4,1133.3L2169.4,1141.0L2166.7,1141.0L2166.7,1141.0L2164.0,1141.0L2164.0,1122.1L2161.3,1122.1L2161.3,1121.6L2158.6,1121.6L2158.6,1121.6L2155.9,1121.6L2155.9,1122.7L2153.2,1122.7L2153.2,1122.5L2150.5,1122.5L2150.5,1107.3L2147.8,1107.3L2147.8,1112.1L2145.1,1112.1L2145.1,1123.4L2142.4,1123.4L2142.4,1123.4L2139.7,1123.4L2139.7,1118.2L2137.0,1118.2L2137.0,1118.2L2134.3,1118.2L2134.3,1111.9L2131.6,1111.9L2131.6,1111.1L2128.9,1111.1L2128.9,1109.7L2126.2,1109.7L2126.2,1103.8L2123.5,1103.8L2123.5,1105.8L2120.8,1105.8L2120.8,1108.9L2118.1,1108.9L2118.1,1111.1L2115.4,1111.1L2115.4,1111.1L2112.7,1111.1L2112.7,1109.9L2110.0,1109.9L2110.0,1109.9L2107.3,1109.9L2107.3,1106.3L2104.6,1106.3L2104.6,1104.8L2101.9,1104.8L2101.9,1100.2L2099.2,1100.2L2099.2,1097.5L2096.5,1097.5L2096.5,1110.0L2093.8,1110.0L2093.8,1110.0L2091.1,1110.0L2091.1,1104.8L2088.4,1104.8L2088.4,1101.4L2085.7,1101.4L2085.7,1104.7L2083.0,1104.7L2083.0,1104.7L2080.3,1104.7L2080.3,1098.2L2077.6,1098.2L2077.6,1091.5L2074.9,1091.5L2074.9,1086.7L2072.2,1086.7L2072.2,1090.6L2069.5,1090.6L2069.5,1091.7L2066.8,1091.7L2066.8,1094.4L2064.1,1094.4L2064.1,1094.4L2061.4,1094.4L2061.4,1084.8L2058.7,1084.8L2058.7,1082.9L2056.0,1082.9L2056.0,1082.9L2053.3,1082.9L2053.3,1082.7L2050.6,1082.7L2050.6,1082.7L2047.9,1082.7L2047.9,1082.7L2045.2,1082.7L2045.2,1079.5L2042.5,1079.5L2042.5,1079.5L2039.8,1079.5L2039.8,1077.6L2037.1,1077.6L2037.1,1077.9L2034.4,1077.9L2034.4,1077.9L2031.7,1077.9L2031.7,1076.2L2029.0,1076.2L2029.0,1073.7L2026.3,1073.7L2026.3,1073.7L2023.6,1073.7L2023.6,1071.3L2020.9,1071.3L2020.9,1080.5L2018.2,1080.5L2018.2,1080.5L2015.5,1080.5L2015.5,1088.0L2012.8,1088.0L2012.8,1088.0L2010.1,1088.0L2010.1,1082.5L2007.4,1082.5L2007.4,1074.8L2004.7,1074.8L2004.7,1076.6L2002.0,1076.6L2002.0,1076.6L1999.3,1076.6L1999.3,1068.7L1996.6,1068.7L1996.6,1068.7L1993.9,1068.7L1993.9,1075.0L1991.2,1075.0L1991.2,1075.0L1988.5,1075.0L1988.5,1064.0L1985.8,1064.0L1985.8,1063.5L1983.1,1063.5L1983.1,1057.8L1980.4,1057.8L1980.4,1056.2L1977.7,1056.2L1977.7,1056.2L1975.0,1056.2L1975.0,1047.3L1972.3,1047.3L1972.3,1050.5L1969.6,1050.5L1969.6,1050.9L1966.9,1050.9L1966.9,1050.9L1964.2,1050.9L1964.2,1046.8L1961.5,1046.8L1961.5,1046.8L1958.8,1046.8L1958.8,1050.2L1956.1,1050.2L1956.1,1051.5L1953.4,1051.5L1953.4,1048.2L1950.7,1048.2L1950.7,1039.1L1948.0,1039.1L1948.0,1031.4L1945.3,1031.4L1945.3,1033.3L1942.6,1033.3L1942.6,1033.3L1939.9,1033.3L1939.9,1032.5L1937.2,1032.5L1937.2,1031.0L1934.5,1031.0L1934.5,1024.8L1931.8,1024.8L1931.8,1024.8L1929.1,1024.8L1929.1,1017.8L1926.4,1017.8L1926.4,1017.8L1923.7,1017.8L1923.7,1013.2L1921.0,1013.2L1921.0,1007.4L1918.3,1007.4L1918.3,1006.8L1915.6,1006.8L1915.6,1007.7L1912.9,1007.7L1912.9,1007.7L1910.2,1007.7L1910.2,1002.5L1907.5,1002.5L1907.5,997.9L1904.8,997.9L1904.8,997.5L1902.1,997.5L1902.1,997.5L1899.4,997.5L1899.4,985.8L1896.7,985.8L1896.7,984.4L1894.0,984.4L1894.0,988.1L1891.3,988.1L1891.3,988.4L1888.6,988.4L1888.6,985.2L1885.9,985.2L1885.9,975.3L1883.2,975.3L1883.2,975.3L1880.5,975.3L1880.5,969.0L1877.8,969.0L1877.8,969.0L1875.1,969.0L1875.1,961.4L1872.4,961.4L1872.4,957.1L1869.7,957.1L1869.7,957.2L1867.0,957.2L1867.0,957.2L1864.3,957.2L1864.3,955.6L1861.6,955.6L1861.6,952.9L1858.9,952.9L1858.9,952.9L1856.2,952.9L1856.2,946.6L1853.5,946.6L1853.5,946.0L1850.8,946.0L1850.8,945.9L1848.1,945.9L1848.1,928.0L1845.4,928.0L1845.4,928.0L1842.7,928.0L1842.7,926.5L1840.0,926.5L1840.0,932.9L1837.3,932.9L1837.3,932.9L1834.6,932.9L1834.6,920.1L1831.9,920.1L1831.9,918.7L1829.2,918.7L1829.2,918.5L1826.5,918.5L1826.5,909.5L1823.8,909.5L1823.8,903.5L1821.1,903.5L1821.1,903.1L1818.4,903.1L1818.4,903.1L1815.7,903.1L1815.7,893.2L1813.0,893.2L1813.0,904.3L1810.3,904.3L1810.3,904.3L1807.6,904.3L1807.6,899.5L1804.9,899.5L1804.9,885.3L1802.2,885.3L1802.2,884.3L1799.5,884.3L1799.5,873.2L1796.8,873.2L1796.8,863.8L1794.1,863.8L1794.1,862.6L1791.4,862.6L1791.4,859.8L1788.7,859.8L1788.7,851.9L1786.0,851.9L1786.0,849.0L1783.3,849.0L1783.3,850.4L1780.6,850.4L1780.6,850.4L1777.9,850.4L1777.9,840.8L1775.2,840.8L1775.2,840.8L1772.5,840.8L1772.5,837.1L1769.8,837.1L1769.8,835.3L1767.1,835.3L1767.1,826.8L1764.4,826.8L1764.4,826.8L1761.7,826.8L1761.7,815.1L1759.0,815.1L1759.0,815.9L1756.3,815.9L1756.3,815.9L1753.6,815.9L1753.6,803.6L1750.9,803.6L1750.9,801.3L1748.2,801.3L1748.2,797.1L1745.5,797.1L1745.5,788.5L1742.8,788.5L1742.8,788.5L1740.1,788.5L1740.1,776.4L1737.4,776.4L1737.4,769.0L1734.7,769.0L1734.7,772.7L1732.0,772.7L1732.0,772.7L1729.3,772.7L1729.3,765.5L1726.6,765.5L1726.6,762.2L1723.9,762.2L1723.9,757.1L1721.2,757.1L1721.2,748.8L1718.5,748.8L1718.5,752.9L1715.8,752.9L1715.8,752.9L1713.1,752.9L1713.1,736.0L1710.4,736.0L1710.4,735.5L1707.7,735.5L1707.7,735.5L1705.0,735.5L1705.0,734.2L1702.3,734.2L1702.3,733.0L1699.6,733.0L1699.6,726.9L1696.9,726.9L1696.9,726.9L1694.2,726.9L1694.2,712.1L1691.5,712.1L1691.5,712.1L1688.8,712.1L1688.8,692.3L1686.1,692.3L1686.1,692.3L1683.4,692.3L1683.4,679.8L1680.7,679.8L1680.7,676.2L1678.0,676.2L1678.0,672.4L1675.3,672.4L1675.3,660.2L1672.6,660.2L1672.6,664.2L1669.9,664.2L1669.9,676.0L1667.2,676.0L1667.2,675.5L1664.5,675.5L1664.5,664.4L1661.8,664.4L1661.8,650.0L1659.1,650.0L1659.1,644.0L1656.4,644.0L1656.4,650.1L1653.7,650.1L1653.7,652.6L1651.0,652.6L1651.0,652.6L1648.3,652.6L1648.3,636.2L1645.6,636.2L1645.6,624.3L1642.9,624.3L1642.9,611.6L1640.2,611.6L1640.2,614.0L1637.5,614.0L1637.5,618.7L1634.8,618.7L1634.8,618.7L1632.1,618.7L1632.1,617.0L1629.4,617.0L1629.4,603.3L1626.7,603.3L1626.7,596.7L1624.0,596.7L1624.0,596.7L1621.3,596.7L1621.3,595.0L1618.6,595.0L1618.6,591.2L1615.9,591.2L1615.9,591.2L1613.2,591.2L1613.2,586.5L1610.5,586.5L1610.5,582.9L1607.8,582.9L1607.8,580.4L1605.1,580.4L1605.1,578.6L1602.4,578.6L1602.4,578.3L1599.7,578.3L1599.7,578.3L1597.0,578.3L1597.0,582.9L1594.3,582.9L1594.3,582.9L1591.6,582.9L1591.6,578.8L1588.9,578.8L1588.9,578.8L1586.2,578.8L1586.2,570.6L1583.5,570.6L1583.5,586.6L1580.8,586.6L1580.8,586.6L1578.1,586.6L1578.1,574.5L1575.4,574.5L1575.4,573.7L1572.7,573.7L1572.7,591.5L1570.0,591.5L1570.0,591.5L1567.3,591.5L1567.3,561.4L1564.6,561.4L1564.6,566.1L1561.9,566.1L1561.9,566.1L1559.2,566.1L1559.2,561.4L1556.5,561.4L1556.5,564.7L1553.8,564.7L1553.8,565.6L1551.1,565.6L1551.1,585.3L1548.4,585.3L1548.4,585.3L1545.7,585.3L1545.7,581.7L1543.0,581.7L1543.0,581.7L1540.3,581.7L1540.3,582.0L1537.6,582.0L1537.6,585.9L1534.9,585.9L1534.9,584.7L1532.2,584.7L1532.2,591.2L1529.5,591.2L1529.5,593.7L1526.8,593.7L1526.8,593.7L1524.1,593.7L1524.1,591.1L1521.4,591.1L1521.4,591.1L1518.7,591.1L1518.7,596.5L1516.0,596.5L1516.0,599.7L1513.3,599.7L1513.3,609.7L1510.6,609.7L1510.6,609.7L1507.9,609.7L1507.9,609.9L1505.2,609.9L1505.2,609.9L1502.5,609.9L1502.5,599.6L1499.8,599.6L1499.8,612.5L1497.1,612.5L1497.1,612.9L1494.4,612.9L1494.4,615.3L1491.7,615.3L1491.7,618.2L1489.0,618.2L1489.0,623.4L1486.3,623.4L1486.3,618.4L1483.6,618.4L1483.6,622.3L1480.9,622.3L1480.9,629.0L1478.2,629.0L1478.2,637.4L1475.5,637.4L1475.5,637.4L1472.8,637.4L1472.8,632.7L1470.1,632.7L1470.1,650.7L1467.4,650.7L1467.4,654.8L1464.7,654.8L1464.7,654.8L1462.0,654.8L1462.0,670.4L1459.3,670.4L1459.3,670.4L1456.6,670.4L1456.6,665.8L1453.9,665.8L1453.9,666.3L1451.2,666.3L1451.2,666.4L1448.5,666.4L1448.5,681.5L1445.8,681.5L1445.8,707.6L1443.1,707.6L1443.1,707.6L1440.4,707.6L1440.4,697.3L1437.7,697.3L1437.7,708.4L1435.0,708.4L1435.0,713.5L1432.3,713.5L1432.3,725.7L1429.6,725.7L1429.6,732.2L1426.9,732.2L1426.9,732.2L1424.2,732.2L1424.2,729.6L1421.5,729.6L1421.5,736.0L1418.8,736.0L1418.8,736.0L1416.1,736.0L1416.1,741.7L1413.4,741.7L1413.4,745.7L1410.7,745.7L1410.7,754.1L1408.0,754.1L1408.0,762.7L1405.3,762.7L1405.3,765.1L1402.6,765.1L1402.6,764.3L1399.9,764.3L1399.9,756.6L1397.2,756.6L1397.2,767.0L1394.5,767.0L1394.5,772.4L1391.8,772.4L1391.8,772.4L1389.1,772.4L1389.1,778.3L1386.4,778.3L1386.4,778.5L1383.7,778.5L1383.7,790.9L1381.0,790.9L1381.0,806.8L1378.3,806.8L1378.3,806.8L1375.6,806.8L1375.6,798.4L1372.9,798.4L1372.9,806.5L1370.2,806.5L1370.2,806.8L1367.5,806.8L1367.5,817.5L1364.8,817.5L1364.8,817.5L1362.1,817.5L1362.1,812.3L1359.4,812.3L1359.4,812.3L1356.7,812.3L1356.7,818.2L1354.0,818.2L1354.0,825.8L1351.3,825.8L1351.3,832.4L1348.6,832.4L1348.6,832.4L1345.9,832.4L1345.9,832.1L1343.2,832.1L1343.2,833.2L1340.5,833.2L1340.5,833.7L1337.8,833.7L1337.8,838.1L1335.1,838.1L1335.1,837.3L1332.4,837.3L1332.4,841.5L1329.7,841.5L1329.7,847.2L1327.0,847.2L1327.0,853.1L1324.3,853.1L1324.3,853.1L1321.6,853.1L1321.6,855.1L1318.9,855.1L1318.9,854.0L1316.2,854.0L1316.2,856.5L1313.5,856.5L1313.5,862.1L1310.8,862.1L1310.8,862.1L1308.1,862.1L1308.1,867.0L1305.4,867.0L1305.4,879.4L1302.7,879.4L1302.7,879.4L1300.0,879.4L1300.0,885.7L1297.3,885.7L1297.3,885.7L1294.6,885.7L1294.6,884.8L1291.9,884.8L1291.9,884.8L1289.2,884.8L1289.2,884.7L1286.5,884.7L1286.5,886.6L1283.8,886.6L1283.8,894.0L1281.1,894.0L1281.1,900.7L1278.4,900.7L1278.4,905.7L1275.7,905.7L1275.7,905.7L1273.0,905.7L1273.0,897.5L1270.3,897.5L1270.3,910.4L1267.6,910.4L1267.6,913.1L1264.9,913.1L1264.9,913.1L1262.2,913.1L1262.2,910.8L1259.5,910.8L1259.5,920.6L1256.8,920.6L1256.8,923.4L1254.1,923.4L1254.1,928.4L1251.4,928.4L1251.4,927.7L1248.7,927.7L1248.7,919.8L1246.0,919.8L1246.0,919.8L1243.3,919.8L1243.3,926.4L1240.6,926.4L1240.6,926.4L1237.9,926.4L1237.9,925.9L1235.2,925.9L1235.2,936.3L1232.5,936.3L1232.5,940.2L1229.8,940.2L1229.8,944.3L1227.1,944.3L1227.1,944.3L1224.4,944.3L1224.4,948.4L1221.7,948.4L1221.7,948.5L1219.0,948.5L1219.0,947.6L1216.3,947.6L1216.3,950.8L1213.6,950.8L1213.6,966.7L1210.9,966.7L1210.9,966.7L1208.2,966.7L1208.2,963.1L1205.5,963.1L1205.5,964.3L1202.8,964.3L1202.8,971.9L1200.1,971.9L1200.1,971.9L1197.4,971.9L1197.4,961.1L1194.7,961.1L1194.7,961.1L1192.0,961.1L1192.0,971.1L1189.3,971.1L1189.3,980.8L1186.6,980.8L1186.6,982.4L1183.9,982.4L1183.9,981.5L1181.2,981.5L1181.2,970.1L1178.5,970.1L1178.5,969.1L1175.8,969.1L1175.8,977.2L1173.1,977.2L1173.1,978.0L1170.4,978.0L1170.4,975.7L1167.7,975.7L1167.7,979.3L1165.0,979.3L1165.0,982.8L1162.3,982.8L1162.3,982.8L1159.6,982.8L1159.6,980.6L1156.9,980.6L1156.9,988.9L1154.2,988.9L1154.2,994.1L1151.5,994.1L1151.5,1005.2L1148.8,1005.2L1148.8,1005.2L1146.1,1005.2L1146.1,990.0L1143.4,990.0L1143.4,990.0L1140.7,990.0L1140.7,989.8L1138.0,989.8L1138.0,998.2L1135.3,998.2L1135.3,1001.7L1132.6,1001.7L1132.6,1001.7L1129.9,1001.7L1129.9,990.6L1127.2,990.6L1127.2,996.1L1124.5,996.1L1124.5,996.1L1121.8,996.1L1121.8,991.8L1119.1,991.8L1119.1,992.6L1116.4,992.6L1116.4,994.2L1113.7,994.2L1113.7,994.2L1111.0,994.2L1111.0,993.5L1108.3,993.5L1108.3,1000.6L1105.6,1000.6L1105.6,1000.6L1102.9,1000.6L1102.9,1000.3L1100.2,1000.3L1100.2,999.8L1097.5,999.8L1097.5,999.3L1094.8,999.3L1094.8,1000.5L1092.1,1000.5L1092.1,1000.5L1089.4,1000.5L1089.4,990.4L1086.7,990.4L1086.7,992.3L1084.0,992.3L1084.0,1001.2L1081.3,1001.2L1081.3,1009.1L1078.6,1009.1L1078.6,1009.1L1075.9,1009.1L1075.9,997.1L1073.2,997.1L1073.2,997.1L1070.5,997.1L1070.5,997.6L1067.8,997.6L1067.8,1002.2L1065.1,1002.2L1065.1,1002.2L1062.4,1002.2L1062.4,997.5L1059.7,997.5L1059.7,998.9L1057.0,998.9L1057.0,999.4L1054.3,999.4L1054.3,999.9L1051.6,999.9L1051.6,999.4L1048.9,999.4L1048.9,999.6L1046.2,999.6L1046.2,999.6L1043.5,999.6L1043.5,991.1L1040.8,991.1L1040.8,1002.2L1038.1,1002.2L1038.1,1002.2L1035.4,1002.2L1035.4,995.9L1032.7,995.9L1032.7,1003.2L1030.0,1003.2L1030.0,1003.2L1027.3,1003.2L1027.3,1014.4L1024.6,1014.4L1024.6,1014.4L1021.9,1014.4L1021.9,1014.4L1019.2,1014.4L1019.2,1014.4L1016.5,1014.4L1016.5,1005.2L1013.8,1005.2L1013.8,1006.0L1011.1,1006.0L1011.1,1006.0L1008.4,1006.0L1008.4,999.2L1005.7,999.2L1005.7,999.6L1003.0,999.6L1003.0,996.2L1000.3,996.2L1000.3,996.2L997.6,996.2L997.6,999.3L994.9,999.3L994.9,1012.2L992.2,1012.2L992.2,1012.2L989.5,1012.2L989.5,1010.6L986.8,1010.6L986.8,1007.4L984.1,1007.4L984.1,1005.0L981.4,1005.0L981.4,1012.5L978.7,1012.5L978.7,1012.5L976.0,1012.5L976.0,1004.8L973.3,1004.8L973.3,1011.7L970.6,1011.7L970.6,1026.1L967.9,1026.1L967.9,1033.8L965.2,1033.8L965.2,1033.8L962.5,1033.8L962.5,1003.9L959.8,1003.9L959.8,1005.2L957.1,1005.2L957.1,1005.2L954.4,1005.2L954.4,1002.0L951.7,1002.0L951.7,1003.0L949.0,1003.0L949.0,1006.8L946.3,1006.8L946.3,1018.0L943.6,1018.0L943.6,1019.9L940.9,1019.9L940.9,1019.9L938.2,1019.9L938.2,1013.0L935.5,1013.0L935.5,1013.0L932.8,1013.0L932.8,1006.0L930.1,1006.0L930.1,1017.6L927.4,1017.6L927.4,1019.8L924.7,1019.8L924.7,1019.8L922.0,1019.8L922.0,1019.4L919.3,1019.4L919.3,1018.2L916.6,1018.2L916.6,1018.5L913.9,1018.5L913.9,1021.4L911.2,1021.4L911.2,1026.9L908.5,1026.9L908.5,1031.2L905.8,1031.2L905.8,1031.2L903.1,1031.2L903.1,1027.3L900.4,1027.3L900.4,1027.3L897.7,1027.3L897.7,1025.6L895.0,1025.6L895.0,1028.8L892.3,1028.8L892.3,1028.8L889.6,1028.8L889.6,1039.0L886.9,1039.0L886.9,1043.3L884.2,1043.3L884.2,1040.7L881.5,1040.7L881.5,1030.9L878.8,1030.9L878.8,1030.9L876.1,1030.9L876.1,1038.1L873.4,1038.1L873.4,1042.3L870.7,1042.3L870.7,1042.3L868.0,1042.3L868.0,1049.9L865.3,1049.9L865.3,1049.9L862.6,1049.9L862.6,1056.1L859.9,1056.1L859.9,1056.1L857.2,1056.1L857.2,1044.2L854.5,1044.2L854.5,1044.5L851.8,1044.5L851.8,1057.9L849.1,1057.9L849.1,1057.9L846.4,1057.9L846.4,1057.5L843.7,1057.5L843.7,1071.8L841.0,1071.8L841.0,1071.8L838.3,1071.8L838.3,1069.3L835.6,1069.3L835.6,1068.1L832.9,1068.1L832.9,1068.1L830.2,1068.1L830.2,1065.3L827.5,1065.3L827.5,1079.6L824.8,1079.6L824.8,1079.6L822.1,1079.6L822.1,1078.0L819.4,1078.0L819.4,1081.2L816.7,1081.2L816.7,1085.5L814.0,1085.5L814.0,1085.5L811.3,1085.5L811.3,1094.2L808.6,1094.2L808.6,1094.2L805.9,1094.2L805.9,1089.8L803.2,1089.8L803.2,1094.9L800.5,1094.9L800.5,1095.4L797.8,1095.4L797.8,1098.7L795.1,1098.7L795.1,1098.7L792.4,1098.7L792.4,1105.2L789.7,1105.2L789.7,1109.4L787.0,1109.4L787.0,1111.3L784.3,1111.3L784.3,1115.9L781.6,1115.9L781.6,1115.9L778.9,1115.9L778.9,1111.8L776.2,1111.8L776.2,1116.3L773.5,1116.3L773.5,1122.6L770.8,1122.6L770.8,1123.5L768.1,1123.5L768.1,1122.9L765.4,1122.9L765.4,1128.3L762.7,1128.3L762.7,1137.6L760.0,1137.6L760.0,1137.6L757.3,1137.6L757.3,1137.5L754.6,1137.5L754.6,1141.3L751.9,1141.3L751.9,1146.4L749.2,1146.4L749.2,1146.4L746.5,1146.4L746.5,1150.5L743.8,1150.5L743.8,1150.5L741.1,1150.5L741.1,1152.8L738.4,1152.8L738.4,1158.7L735.7,1158.7L735.7,1158.7L733.0,1158.7L733.0,1156.5L730.3,1156.5L730.3,1156.5L727.6,1156.5L727.6,1160.7L724.9,1160.7L724.9,1164.1L722.2,1164.1L722.2,1164.1L719.5,1164.1L719.5,1164.9L716.8,1164.9L716.8,1169.6L714.1,1169.6L714.1,1180.6L711.4,1180.6L711.4,1180.6L708.7,1180.6L708.7,1178.6L706.0,1178.6L706.0,1181.6L703.3,1181.6L703.3,1181.6L700.6,1181.6L700.6,1181.9L697.9,1181.9L697.9,1184.5L695.2,1184.5L695.2,1185.6L692.5,1185.6L692.5,1189.7L689.8,1189.7L689.8,1190.1L687.1,1190.1L687.1,1191.0L684.4,1191.0L684.4,1195.3L681.7,1195.3L681.7,1200.0L679.0,1200.0L679.0,1200.0L676.3,1200.0L676.3,1200.9L673.6,1200.9L673.6,1209.2L670.9,1209.2L670.9,1212.6L668.2,1212.6L668.2,1212.4L665.5,1212.4L665.5,1212.8L662.8,1212.8L662.8,1212.8L660.1,1212.8L660.1,1212.8L657.4,1212.8L657.4,1212.8L654.7,1212.8L654.7,1210.5L652.0,1210.5L652.0,1210.0L649.3,1210.0L649.3,1218.0L646.6,1218.0L646.6,1218.0L643.9,1218.0L643.9,1218.7L641.2,1218.7L641.2,1218.7L638.5,1218.7L638.5,1219.9L635.8,1219.9L635.8,1220.5L633.1,1220.5L633.1,1220.6L630.4,1220.6L630.4,1220.7L627.7,1220.7L627.7,1222.2L625.0,1222.2L625.0,1226.7L622.3,1226.7L622.3,1226.9L619.6,1226.9L619.6,1233.1L616.9,1233.1L616.9,1234.9L614.2,1234.9L614.2,1234.9L611.5,1234.9L611.5,1233.5L608.8,1233.5L608.8,1240.2L606.1,1240.2L606.1,1240.2L603.4,1240.2L603.4,1239.5L600.7,1239.5L600.7,1238.5L598.0,1238.5L598.0,1239.7L595.3,1239.7L595.3,1239.7L592.6,1239.7L592.6,1241.0L589.9,1241.0L589.9,1241.0L587.2,1241.0L587.2,1241.7L584.5,1241.7L584.5,1247.8L581.8,1247.8L581.8,1247.8L579.1,1247.8L579.1,1241.8L576.4,1241.8L576.4,1241.8L573.7,1241.8L573.7,1247.2L571.0,1247.2L571.0,1247.6L568.3,1247.6L568.3,1246.1L565.6,1246.1L565.6,1252.3L562.9,1252.3L562.9,1252.3L560.2,1252.3L560.2,1256.0L557.5,1256.0L557.5,1256.0L554.8,1256.0L554.8,1253.8L552.1,1253.8L552.1,1255.2L549.4,1255.2L549.4,1255.2L546.7,1255.2L546.7,1257.9L544.0,1257.9L544.0,1257.9L541.3,1257.9L541.3,1262.3L538.6,1262.3L538.6,1262.3L535.9,1262.3L535.9,1256.2L533.2,1256.2L533.2,1254.1L530.5,1254.1L530.5,1255.4L527.8,1255.4L527.8,1255.4L525.1,1255.4L525.1,1258.6L522.4,1258.6L522.4,1258.6L519.7,1258.6L519.7,1258.5L517.0,1258.5L517.0,1255.3L514.3,1255.3L514.3,1265.9L511.6,1265.9L511.6,1265.9L508.9,1265.9L508.9,1268.2L506.2,1268.2L506.2,1268.2L503.5,1268.2L503.5,1260.2L500.8,1260.2L500.8,1260.2L498.1,1260.2L498.1,1260.4L495.4,1260.4L495.4,1264.2L492.7,1264.2L492.7,1264.5L490.0,1264.5L490.0,1264.5L487.3,1264.5L487.3,1268.8L484.6,1268.8L484.6,1268.8L481.9,1268.8L481.9,1264.4L479.2,1264.4L479.2,1266.6L476.5,1266.6L476.5,1266.6L473.8,1266.6L473.8,1272.7L471.1,1272.7L471.1,1273.4L468.4,1273.4L468.4,1270.3L465.7,1270.3L465.7,1266.8L463.0,1266.8L463.0,1269.4L460.3,1269.4L460.3,1275.0L457.6,1275.0L457.6,1275.0L454.9,1275.0L454.9,1271.6L452.2,1271.6L452.2,1272.3L449.5,1272.3L449.5,1271.9L446.8,1271.9L446.8,1272.4L444.1,1272.4L444.1,1272.4L441.4,1272.4L441.4,1272.0L438.7,1272.0L438.7,1272.0L436.0,1272.0L436.0,1275.2L433.3,1275.2L433.3,1275.2L430.6,1275.2L430.6,1268.9L427.9,1268.9L427.9,1273.8L425.2,1273.8L425.2,1273.8L422.5,1273.8L422.5,1272.1L419.8,1272.1L419.8,1273.0L417.1,1273.0L417.1,1273.0L414.4,1273.0L414.4,1272.1L411.7,1272.1L411.7,1273.4L409.0,1273.4L409.0,1273.4L406.3,1273.4L406.3,1267.8L403.6,1267.8L403.6,1271.1L400.9,1271.1L400.9,1271.3L398.2,1271.3L398.2,1271.3L395.5,1271.3L395.5,1269.2L392.8,1269.2L392.8,1268.2L390.1,1268.2L390.1,1269.6L387.4,1269.6L387.4,1270.9L384.7,1270.9L384.7,1272.8L382.0,1272.8L382.0,1272.7L379.3,1272.7L379.3,1263.5L376.6,1263.5L376.6,1269.7L373.9,1269.7L373.9,1269.7L371.2,1269.7L371.2,1269.1L368.5,1269.1L368.5,1267.0L365.8,1267.0L365.8,1266.7L363.1,1266.7L363.1,1269.5L360.4,1269.5L360.4,1269.5L357.7,1269.5L357.7,1266.7L355.0,1266.7L355.0,1266.7L352.3,1266.7L352.3,1267.5L349.6,1267.5L349.6,1267.5L346.9,1267.5L346.9,1264.6L344.2,1264.6L344.2,1264.6L341.5,1264.6L341.5,1264.6L338.8,1264.6L338.8,1262.6L336.1,1262.6L336.1,1264.1L333.4,1264.1L333.4,1265.0L330.7,1265.0L330.7,1265.3L328.0,1265.3L328.0,1265.3L325.3,1265.3L325.3,1265.6L322.6,1265.6L322.6,1265.7L319.9,1265.7L319.9,1266.9L317.2,1266.9L317.2,1268.1L314.5,1268.1L314.5,1269.5L311.8,1269.5L311.8,1270.6L309.1,1270.6L309.1,1270.6L306.4,1270.6L306.4,1271.0L303.7,1271.0L303.7,1271.0L301.0,1271.0L301.0,1269.5L298.3,1269.5L298.3,1269.6L295.6,1269.6L295.6,1270.0L292.9,1270.0L292.9,1270.6L290.2,1270.6L290.2,1274.3L287.5,1274.3L287.5,1274.9L284.8,1274.9L284.8,1274.4L282.1,1274.4L282.1,1274.3L279.4,1274.3L279.4,1276.7L276.7,1276.7Z" fill="#00ff00" stroke="none"/>
<path d="M276.7,1301.9L279.4,1301.9L279.4,1296.9L282.1,1296.9L282.1,1296.9L284.8,1296.9L284.8,1306.7L287.5,1306.7L287.5,1301.0L290.2,1301.0L290.2,1299.7L292.9,1299.7L292.9,1299.7L295.6,1299.7L295.6,1301.1L298.3,1301.1L298.3,1298.6L301.0,1298.6L301.0,1291.0L303.7,1291.0L303.7,1291.0L306.4,1291.0L306.4,1297.0L309.1,1297.0L309.1,1298.5L311.8,1298.5L311.8,1300.3L314.5,1300.3L314.5,1293.4L317.2,1293.4L317.2,1293.4L319.9,1293.4L319.9,1298.3L322.6,1298.3L322.6,1298.3L325.3,1298.3L325.3,1298.3L328.0,1298.3L328.0,1299.2L330.7,1299.2L330.7,1300.9L333.4,1300.9L333.4,1300.9L336.1,1300.9L336.1,1305.1L338.8,1305.1L338.8,1303.3L341.5,1303.3L341.5,1303.3L344.2,1303.3L344.2,1306.4L346.9,1306.4L346.9,1306.9L349.6,1306.9L349.6,1306.3L352.3,1306.3L352.3,1307.6L355.0,1307.6L355.0,1310.2L357.7,1310.2L357.7,1308.3L360.4,1308.3L360.4,1308.3L363.1,1308.3L363.1,1309.6L365.8,1309.6L365.8,1310.8L368.5,1310.8L368.5,1313.0L371.2,1313.0L371.2,1315.1L373.9,1315.1L373.9,1315.0L376.6,1315.0L376.6,1315.0L379.3,1315.0L379.3,1315.6L382.0,1315.6L382.0,1313.7L384.7,1313.7L384.7,1313.1L387.4,1313.1L387.4,1313.7L390.1,1313.7L390.1,1314.3L392.8,1314.3L392.8,1315.0L395.5,1315.0L395.5,1309.9L398.2,1309.9L398.2,1309.9L400.9,1309.9L400.9,1311.6L403.6,1311.6L403.6,1311.7L406.3,1311.7L406.3,1313.0L409.0,1313.0L409.0,1309.4L411.7,1309.4L411.7,1309.4L414.4,1309.4L414.4,1310.7L417.1,1310.7L417.1,1313.3L419.8,1313.3L419.8,1314.1L422.5,1314.1L422.5,1313.2L425.2,1313.2L425.2,1313.2L427.9,1313.2L427.9,1314.1L430.6,1314.1L430.6,1311.9L433.3,1311.9L433.3,1308.7L436.0,1308.7L436.0,1307.5L438.7,1307.5L438.7,1308.0L441.4,1308.0L441.4,1308.5L444.1,1308.5L444.1,1308.9L446.8,1308.9L446.8,1308.9L449.5,1308.9L449.5,1309.3L452.2,1309.3L452.2,1309.3L454.9,1309.3L454.9,1310.4L457.6,1310.4L457.6,1308.1L460.3,1308.1L460.3,1308.1L463.0,1308.1L463.0,1306.7L465.7,1306.7L465.7,1306.7L468.4,1306.7L468.4,1303.6L471.1,1303.6L471.1,1302.3L473.8,1302.3L473.8,1302.3L476.5,1302.3L476.5,1298.5L479.2,1298.5L479.2,1298.5L481.9,1298.5L481.9,1302.0L484.6,1302.0L484.6,1303.3L487.3,1303.3L487.3,1300.9L490.0,1300.9L490.0,1298.0L492.7,1298.0L492.7,1298.0L495.4,1298.0L495.4,1297.1L498.1,1297.1L498.1,1297.1L500.8,1297.1L500.8,1301.4L503.5,1301.4L503.5,1302.1L506.2,1302.1L506.2,1298.7L508.9,1298.7L508.9,1297.1L511.6,1297.1L511.6,1297.1L514.3,1297.1L514.3,1302.1L517.0,1302.1L517.0,1302.1L519.7,1302.1L519.7,1301.8L522.4,1301.8L522.4,1299.8L525.1,1299.8L525.1,1299.8L527.8,1299.8L527.8,1297.6L530.5,1297.6L530.5,1297.6L533.2,1297.6L533.2,1298.9L535.9,1298.9L535.9,1298.8L538.6,1298.8L538.6,1296.6L541.3,1296.6L541.3,1296.6L544.0,1296.6L544.0,1302.5L546.7,1302.5L546.7,1298.8L549.4,1298.8L549.4,1295.4L552.1,1295.4L552.1,1295.2L554.8,1295.2L554.8,1296.3L557.5,1296.3L557.5,1298.7L560.2,1298.7L560.2,1294.7L562.9,1294.7L562.9,1294.0L565.6,1294.0L565.6,1293.9L568.3,1293.9L568.3,1294.0L571.0,1294.0L571.0,1291.5L573.7,1291.5L573.7,1284.5L576.4,1284.5L576.4,1284.5L579.1,1284.5L579.1,1289.7L581.8,1289.7L581.8,1290.1L584.5,1290.1L584.5,1291.7L587.2,1291.7L587.2,1291.0L589.9,1291.0L589.9,1288.6L592.6,1288.6L592.6,1288.6L595.3,1288.6L595.3,1283.0L598.0,1283.0L598.0,1283.0L600.7,1283.0L600.7,1285.9L603.4,1285.9L603.4,1287.3L606.1,1287.3L606.1,1283.5L608.8,1283.5L608.8,1283.5L611.5,1283.5L611.5,1283.3L614.2,1283.3L614.2,1283.3L616.9,1283.3L616.9,1283.5L619.6,1283.5L619.6,1284.5L622.3,1284.5L622.3,1278.9L625.0,1278.9L625.0,1276.9L627.7,1276.9L627.7,1272.4L630.4,1272.4L630.4,1272.4L633.1,1272.4L633.1,1270.3L635.8,1270.3L635.8,1268.5L638.5,1268.5L638.5,1268.5L641.2,1268.5L641.2,1266.6L643.9,1266.6L643.9,1266.6L646.6,1266.6L646.6,1268.6L649.3,1268.6L649.3,1269.8L652.0,1269.8L652.0,1269.8L654.7,1269.8L654.7,1265.0L657.4,1265.0L657.4,1259.8L660.1,1259.8L660.1,1257.1L662.8,1257.1L662.8,1257.1L665.5,1257.1L665.5,1255.6L668.2,1255.6L668.2,1255.6L670.9,1255.6L670.9,1257.3L673.6,1257.3L673.6,1256.0L676.3,1256.0L676.3,1256.0L679.0,1256.0L679.0,1256.8L681.7,1256.8L681.7,1253.1L684.4,1253.1L684.4,1253.1L687.1,1253.1L687.1,1252.8L689.8,1252.8L689.8,1247.5L692.5,1247.5L692.5,1247.1L695.2,1247.1L695.2,1247.1L697.9,1247.1L697.9,1244.5L700.6,1244.5L700.6,1244.1L703.3,1244.1L703.3,1244.8L706.0,1244.8L706.0,1237.6L708.7,1237.6L708.7,1229.6L711.4,1229.6L711.4,1229.6L714.1,1229.6L714.1,1237.6L716.8,1237.6L716.8,1225.7L719.5,1225.7L719.5,1222.5L722.2,1222.5L722.2,1223.4L724.9,1223.4L724.9,1225.8L727.6,1225.8L727.6,1220.7L730.3,1220.7L730.3,1213.8L733.0,1213.8L733.0,1213.4L735.7,1213.4L735.7,1215.8L738.4,1215.8L738.4,1218.4L741.1,1218.4L741.1,1218.4L743.8,1218.4L743.8,1206.6L746.5,1206.6L746.5,1206.6L749.2,1206.6L749.2,1209.0L751.9,1209.0L751.9,1209.2L754.6,1209.2L754.6,1200.1L757.3,1200.1L757.3,1200.1L760.0,1200.1L760.0,1202.5L762.7,1202.5L762.7,1198.4L765.4,1198.4L765.4,1198.4L768.1,1198.4L768.1,1196.8L770.8,1196.8L770.8,1192.3L773.5,1192.3L773.5,1186.3L776.2,1186.3L776.2,1186.3L778.9,1186.3L778.9,1190.2L781.6,1190.2L781.6,1190.2L784.3,1190.2L784.3,1178.4L787.0,1178.4L787.0,1176.1L789.7,1176.1L789.7,1176.1L792.4,1176.1L792.4,1178.2L795.1,1178.2L795.1,1177.0L797.8,1177.0L797.8,1172.4L800.5,1172.4L800.5,1170.5L803.2,1170.5L803.2,1171.6L805.9,1171.6L805.9,1170.5L808.6,1170.5L808.6,1161.0L811.3,1161.0L811.3,1161.0L814.0,1161.0L814.0,1166.4L816.7,1166.4L816.7,1168.7L819.4,1168.7L819.4,1168.3L822.1,1168.3L822.1,1164.4L824.8,1164.4L824.8,1161.0L827.5,1161.0L827.5,1154.1L830.2,1154.1L830.2,1154.1L832.9,1154.1L832.9,1157.0L835.6,1157.0L835.6,1157.0L838.3,1157.0L838.3,1154.5L841.0,1154.5L841.0,1154.5L843.7,1154.5L843.7,1150.4L846.4,1150.4L846.4,1150.4L849.1,1150.4L849.1,1145.3L851.8,1145.3L851.8,1145.3L854.5,1145.3L854.5,1143.7L857.2,1143.7L857.2,1138.8L859.9,1138.8L859.9,1138.8L862.6,1138.8L862.6,1144.4L865.3,1144.4L865.3,1146.4L868.0,1146.4L868.0,1143.6L870.7,1143.6L870.7,1139.5L873.4,1139.5L873.4,1135.5L876.1,1135.5L876.1,1134.1L878.8,1134.1L878.8,1131.7L881.5,1131.7L881.5,1131.7L884.2,1131.7L884.2,1136.4L886.9,1136.4L886.9,1136.4L889.6,1136.4L889.6,1126.4L892.3,1126.4L892.3,1126.4L895.0,1126.4L895.0,1127.5L897.7,1127.5L897.7,1134.3L900.4,1134.3L900.4,1120.1L903.1,1120.1L903.1,1113.9L905.8,1113.9L905.8,1114.8L908.5,1114.8L908.5,1124.0L911.2,1124.0L911.2,1123.2L913.9,1123.2L913.9,1123.2L916.6,1123.2L916.6,1132.0L919.3,1132.0L919.3,1124.3L922.0,1124.3L922.0,1124.3L924.7,1124.3L924.7,1125.4L927.4,1125.4L927.4,1125.4L930.1,1125.4L930.1,1125.8L932.8,1125.8L932.8,1127.3L935.5,1127.3L935.5,1121.8L938.2,1121.8L938.2,1118.9L940.9,1118.9L940.9,1118.9L943.6,1118.9L943.6,1112.9L946.3,1112.9L946.3,1112.9L949.0,1112.9L949.0,1114.9L951.7,1114.9L951.7,1112.9L954.4,1112.9L954.4,1116.8L957.1,1116.8L957.1,1122.6L959.8,1122.6L959.8,1121.1L962.5,1121.1L962.5,1114.7L965.2,1114.7L965.2,1114.7L967.9,1114.7L967.9,1113.8L970.6,1113.8L970.6,1113.8L973.3,1113.8L973.3,1119.3L976.0,1119.3L976.0,1119.3L978.7,1119.3L978.7,1121.6L981.4,1121.6L981.4,1121.6L984.1,1121.6L984.1,1116.3L986.8,1116.3L986.8,1116.3L989.5,1116.3L989.5,1112.7L992.2,1112.7L992.2,1112.7L994.9,1112.7L994.9,1111.5L997.6,1111.5L997.6,1111.5L1000.3,1111.5L1000.3,1114.2L1003.0,1114.2L1003.0,1115.6L1005.7,1115.6L1005.7,1118.6L1008.4,1118.6L1008.4,1126.0L1011.1,1126.0L1011.1,1107.1L1013.8,1107.1L1013.8,1107.1L1016.5,1107.1L1016.5,1116.6L1019.2,1116.6L1019.2,1116.3L1021.9,1116.3L1021.9,1118.0L1024.6,1118.0L1024.6,1118.6L1027.3,1118.6L1027.3,1102.6L1030.0,1102.6L1030.0,1102.6L1032.7,1102.6L1032.7,1107.7L1035.4,1107.7L1035.4,1107.7L1038.1,1107.7L1038.1,1116.0L1040.8,1116.0L1040.8,1117.1L1043.5,1117.1L1043.5,1119.4L1046.2,1119.4L1046.2,1119.4L1048.9,1119.4L1048.9,1108.8L1051.6,1108.8L1051.6,1108.8L1054.3,1108.8L1054.3,1118.1L1057.0,1118.1L1057.0,1118.1L1059.7,1118.1L1059.7,1117.4L1062.4,1117.4L1062.4,1117.4L1065.1,1117.4L1065.1,1114.4L1067.8,1114.4L1067.8,1111.5L1070.5,1111.5L1070.5,1111.5L1073.2,1111.5L1073.2,1115.9L1075.9,1115.9L1075.9,1115.9L1078.6,1115.9L1078.6,1108.0L1081.3,1108.0L1081.3,1101.4L1084.0,1101.4L1084.0,1101.4L1086.7,1101.4L1086.7,1108.7L1089.4,1108.7L1089.4,1107.1L1092.1,1107.1L1092.1,1106.7L1094.8,1106.7L1094.8,1106.7L1097.5,1106.7L1097.5,1113.1L1100.2,1113.1L1100.2,1104.1L1102.9,1104.1L1102.9,1098.9L1105.6,1098.9L1105.6,1100.6L1108.3,1100.6L1108.3,1121.6L1111.0,1121.6L1111.0,1110.2L1113.7,1110.2L1113.7,1095.2L1116.4,1095.2L1116.4,1095.2L1119.1,1095.2L1119.1,1106.3L1121.8,1106.3L1121.8,1106.3L1124.5,1106.3L1124.5,1101.0L1127.2,1101.0L1127.2,1101.0L1129.9,1101.0L1129.9,1092.8L1132.6,1092.8L1132.6,1092.8L1135.3,1092.8L1135.3,1093.9L1138.0,1093.9L1138.0,1096.8L1140.7,1096.8L1140.7,1096.8L1143.4,1096.8L1143.4,1091.7L1146.1,1091.7L1146.1,1091.7L1148.8,1091.7L1148.8,1095.0L1151.5,1095.0L1151.5,1095.0L1154.2,1095.0L1154.2,1086.5L1156.9,1086.5L1156.9,1079.5L1159.6,1079.5L1159.6,1079.5L1162.3,1079.5L1162.3,1090.8L1165.0,1090.8L1165.0,1086.5L1167.7,1086.5L1167.7,1086.0L1170.4,1086.0L1170.4,1091.4L1173.1,1091.4L1173.1,1101.0L1175.8,1101.0L1175.8,1100.0L1178.5,1100.0L1178.5,1079.3L1181.2,1079.3L1181.2,1079.3L1183.9,1079.3L1183.9,1075.2L1186.6,1075.2L1186.6,1070.7L1189.3,1070.7L1189.3,1071.6L1192.0,1071.6L1192.0,1077.9L1194.7,1077.9L1194.7,1073.0L1197.4,1073.0L1197.4,1071.9L1200.1,1071.9L1200.1,1071.6L1202.8,1071.6L1202.8,1068.6L1205.5,1068.6L1205.5,1070.4L1208.2,1070.4L1208.2,1076.0L1210.9,1076.0L1210.9,1073.6L1213.6,1073.6L1213.6,1072.8L1216.3,1072.8L1216.3,1072.8L1219.0,1072.8L1219.0,1070.6L1221.7,1070.6L1221.7,1069.7L1224.4,1069.7L1224.4,1069.7L1227.1,1069.7L1227.1,1066.4L1229.8,1066.4L1229.8,1052.8L1232.5,1052.8L1232.5,1052.8L1235.2,1052.8L1235.2,1060.8L1237.9,1060.8L1237.9,1055.7L1240.6,1055.7L1240.6,1055.7L1243.3,1055.7L1243.3,1056.7L1246.0,1056.7L1246.0,1050.9L1248.7,1050.9L1248.7,1049.8L1251.4,1049.8L1251.4,1049.7L1254.1,1049.7L1254.1,1048.8L1256.8,1048.8L1256.8,1046.1L1259.5,1046.1L1259.5,1046.1L1262.2,1046.1L1262.2,1046.5L1264.9,1046.5L1264.9,1038.0L1267.6,1038.0L1267.6,1034.4L1270.3,1034.4L1270.3,1033.6L1273.0,1033.6L1273.0,1034.4L1275.7,1034.4L1275.7,1030.0L1278.4,1030.0L1278.4,1017.3L1281.1,1017.3L1281.1,1017.3L1283.8,1017.3L1283.8,1024.8L1286.5,1024.8L1286.5,1032.2L1289.2,1032.2L1289.2,1034.4L1291.9,1034.4L1291.9,1014.3L1294.6,1014.3L1294.6,1014.1L1297.3,1014.1L1297.3,1010.9L1300.0,1010.9L1300.0,1010.9L1302.7,1010.9L1302.7,1011.6L1305.4,1011.6L1305.4,1012.9L1308.1,1012.9L1308.1,1010.5L1310.8,1010.5L1310.8,1003.2L1313.5,1003.2L1313.5,997.9L1316.2,997.9L1316.2,997.9L1318.9,997.9L1318.9,992.6L1321.6,992.6L1321.6,988.3L1324.3,988.3L1324.3,988.4L1327.0,988.4L1327.0,982.7L1329.7,982.7L1329.7,979.6L1332.4,979.6L1332.4,979.6L1335.1,979.6L1335.1,971.0L1337.8,971.0L1337.8,971.0L1340.5,971.0L1340.5,976.4L1343.2,976.4L1343.2,964.5L1345.9,964.5L1345.9,964.5L1348.6,964.5L1348.6,959.1L1351.3,959.1L1351.3,959.1L1354.0,959.1L1354.0,958.6L1356.7,958.6L1356.7,955.7L1359.4,955.7L1359.4,955.7L1362.1,955.7L1362.1,953.3L1364.8,953.3L1364.8,936.8L1367.5,936.8L1367.5,931.2L1370.2,931.2L1370.2,930.0L1372.9,930.0L1372.9,931.0L1375.6,931.0L1375.6,916.8L1378.3,916.8L1378.3,916.8L1381.0,916.8L1381.0,919.9L1383.7,919.9L1383.7,920.3L1386.4,920.3L1386.4,914.1L1389.1,914.1L1389.1,911.8L1391.8,911.8L1391.8,905.9L1394.5,905.9L1394.5,892.4L1397.2,892.4L1397.2,892.4L1399.9,892.4L1399.9,882.6L1402.6,882.6L1402.6,882.6L1405.3,882.6L1405.3,903.1L1408.0,903.1L1408.0,896.4L1410.7,896.4L1410.7,890.1L1413.4,890.1L1413.4,886.0L1416.1,886.0L1416.1,875.6L1418.8,875.6L1418.8,871.0L1421.5,871.0L1421.5,871.0L1424.2,871.0L1424.2,876.8L1426.9,876.8L1426.9,873.0L1429.6,873.0L1429.6,868.8L1432.3,868.8L1432.3,868.8L1435.0,868.8L1435.0,863.8L1437.7,863.8L1437.7,862.4L1440.4,862.4L1440.4,847.3L1443.1,847.3L1443.1,840.1L1445.8,840.1L1445.8,840.1L1448.5,840.1L1448.5,840.2L1451.2,840.2L1451.2,814.0L1453.9,814.0L1453.9,814.0L1456.6,814.0L1456.6,830.4L1459.3,830.4L1459.3,830.4L1462.0,830.4L1462.0,826.5L1464.7,826.5L1464.7,812.3L1467.4,812.3L1467.4,812.0L1470.1,812.0L1470.1,809.1L1472.8,809.1L1472.8,809.1L1475.5,809.1L1475.5,813.2L1478.2,813.2L1478.2,791.0L1480.9,791.0L1480.9,791.0L1483.6,791.0L1483.6,801.4L1486.3,801.4L1486.3,792.1L1489.0,792.1L1489.0,792.1L1491.7,792.1L1491.7,799.7L1494.4,799.7L1494.4,790.3L1497.1,790.3L1497.1,790.3L1499.8,790.3L1499.8,788.0L1502.5,788.0L1502.5,787.4L1505.2,787.4L1505.2,790.3L1507.9,790.3L1507.9,794.4L1510.6,794.4L1510.6,791.2L1513.3,791.2L1513.3,782.2L1516.0,782.2L1516.0,782.2L1518.7,782.2L1518.7,777.6L1521.4,777.6L1521.4,777.6L1524.1,777.6L1524.1,779.3L1526.8,779.3L1526.8,779.3L1529.5,779.3L1529.5,789.9L1532.2,789.9L1532.2,773.9L1534.9,773.9L1534.9,773.9L1537.6,773.9L1537.6,778.8L1540.3,778.8L1540.3,779.4L1543.0,779.4L1543.0,789.9L1545.7,789.9L1545.7,777.3L1548.4,777.3L1548.4,777.3L1551.1,777.3L1551.1,776.0L1553.8,776.0L1553.8,776.0L1556.5,776.0L1556.5,779.0L1559.2,779.0L1559.2,782.8L1561.9,782.8L1561.9,783.2L1564.6,783.2L1564.6,778.8L1567.3,778.8L1567.3,778.8L1570.0,778.8L1570.0,780.3L1572.7,780.3L1572.7,780.3L1575.4,780.3L1575.4,783.6L1578.1,783.6L1578.1,782.4L1580.8,782.4L1580.8,782.4L1583.5,782.4L1583.5,788.5L1586.2,788.5L1586.2,790.4L1588.9,790.4L1588.9,782.9L1591.6,782.9L1591.6,779.6L1594.3,779.6L1594.3,755.2L1597.0,755.2L1597.0,755.2L1599.7,755.2L1599.7,782.6L1602.4,782.6L1602.4,777.9L1605.1,777.9L1605.1,777.9L1607.8,777.9L1607.8,788.2L1610.5,788.2L1610.5,788.4L1613.2,788.4L1613.2,788.4L1615.9,788.4L1615.9,793.4L1618.6,793.4L1618.6,804.6L1621.3,804.6L1621.3,804.1L1624.0,804.1L1624.0,802.7L1626.7,802.7L1626.7,802.7L1629.4,802.7L1629.4,802.7L1632.1,802.7L1632.1,821.0L1634.8,821.0L1634.8,823.0L1637.5,823.0L1637.5,809.4L1640.2,809.4L1640.2,809.4L1642.9,809.4L1642.9,825.0L1645.6,825.0L1645.6,830.1L1648.3,830.1L1648.3,830.1L1651.0,830.1L1651.0,825.8L1653.7,825.8L1653.7,823.6L1656.4,823.6L1656.4,828.3L1659.1,828.3L1659.1,835.5L1661.8,835.5L1661.8,844.0L1664.5,844.0L1664.5,844.0L1667.2,844.0L1667.2,864.6L1669.9,864.6L1669.9,867.8L1672.6,867.8L1672.6,871.5L1675.3,871.5L1675.3,873.4L1678.0,873.4L1678.0,877.4L1680.7,877.4L1680.7,879.9L1683.4,879.9L1683.4,879.9L1686.1,879.9L1686.1,885.4L1688.8,885.4L1688.8,891.1L1691.5,891.1L1691.5,891.1L1694.2,891.1L1694.2,895.8L1696.9,895.8L1696.9,898.1L1699.6,898.1L1699.6,907.8L1702.3,907.8L1702.3,910.6L1705.0,910.6L1705.0,915.4L1707.7,915.4L1707.7,915.4L1710.4,915.4L1710.4,920.9L1713.1,920.9L1713.1,919.9L1715.8,919.9L1715.8,919.9L1718.5,919.9L1718.5,922.1L1721.2,922.1L1721.2,922.1L1723.9,922.1L1723.9,935.2L1726.6,935.2L1726.6,941.7L1729.3,941.7L1729.3,943.8L1732.0,943.8L1732.0,953.2L1734.7,953.2L1734.7,954.0L1737.4,954.0L1737.4,955.0L1740.1,955.0L1740.1,955.2L1742.8,955.2L1742.8,955.0L1745.5,955.0L1745.5,954.6L1748.2,954.6L1748.2,954.6L1750.9,954.6L1750.9,974.7L1753.6,974.7L1753.6,979.1L1756.3,979.1L1756.3,973.6L1759.0,973.6L1759.0,973.6L1761.7,973.6L1761.7,975.9L1764.4,975.9L1764.4,975.9L1767.1,975.9L1767.1,994.2L1769.8,994.2L1769.8,994.1L1772.5,994.1L1772.5,996.0L1775.2,996.0L1775.2,989.0L1777.9,989.0L1777.9,989.0L1780.6,989.0L1780.6,993.5L1783.3,993.5L1783.3,1005.8L1786.0,1005.8L1786.0,1009.1L1788.7,1009.1L1788.7,1007.8L1791.4,1007.8L1791.4,1008.2L1794.1,1008.2L1794.1,1019.8L1796.8,1019.8L1796.8,1019.8L1799.5,1019.8L1799.5,1021.3L1802.2,1021.3L1802.2,1015.9L1804.9,1015.9L1804.9,1015.9L1807.6,1015.9L1807.6,1025.3L1810.3,1025.3L1810.3,1034.1L1813.0,1034.1L1813.0,1035.4L1815.7,1035.4L1815.7,1035.9L1818.4,1035.9L1818.4,1044.1L1821.1,1044.1L1821.1,1045.1L1823.8,1045.1L1823.8,1044.2L1826.5,1044.2L1826.5,1044.2L1829.2,1044.2L1829.2,1046.0L1831.9,1046.0L1831.9,1049.9L1834.6,1049.9L1834.6,1051.0L1837.3,1051.0L1837.3,1055.2L1840.0,1055.2L1840.0,1055.2L1842.7,1055.2L1842.7,1064.7L1845.4,1064.7L1845.4,1064.7L1848.1,1064.7L1848.1,1071.8L1850.8,1071.8L1850.8,1075.6L1853.5,1075.6L1853.5,1076.7L1856.2,1076.7L1856.2,1080.6L1858.9,1080.6L1858.9,1080.6L1861.6,1080.6L1861.6,1089.6L1864.3,1089.6L1864.3,1091.3L1867.0,1091.3L1867.0,1091.7L1869.7,1091.7L1869.7,1094.8L1872.4,1094.8L1872.4,1094.0L1875.1,1094.0L1875.1,1094.0L1877.8,1094.0L1877.8,1097.5L1880.5,1097.5L1880.5,1105.6L1883.2,1105.6L1883.2,1106.1L1885.9,1106.1L1885.9,1106.1L1888.6,1106.1L1888.6,1105.7L1891.3,1105.7L1891.3,1105.7L1894.0,1105.7L1894.0,1110.4L1896.7,1110.4L1896.7,1108.9L1899.4,1108.9L1899.4,1108.9L1902.1,1108.9L1902.1,1108.5L1904.8,1108.5L1904.8,1110.1L1907.5,1110.1L1907.5,1119.2L1910.2,1119.2L1910.2,1115.9L1912.9,1115.9L1912.9,1115.9L1915.6,1115.9L1915.6,1121.3L1918.3,1121.3L1918.3,1119.2L1921.0,1119.2L1921.0,1119.2L1923.7,1119.2L1923.7,1126.6L1926.4,1126.6L1926.4,1132.8L1929.1,1132.8L1929.1,1131.1L1931.8,1131.1L1931.8,1131.1L1934.5,1131.1L1934.5,1129.0L1937.2,1129.0L1937.2,1127.3L1939.9,1127.3L1939.9,1129.9L1942.6,1129.9L1942.6,1134.9L1945.3,1134.9L1945.3,1139.0L1948.0,1139.0L1948.0,1139.0L1950.7,1139.0L1950.7,1141.6L1953.4,1141.6L1953.4,1143.1L1956.1,1143.1L1956.1,1146.6L1958.8,1146.6L1958.8,1147.5L1961.5,1147.5L1961.5,1147.5L1964.2,1147.5L1964.2,1145.1L1966.9,1145.1L1966.9,1142.5L1969.6,1142.5L1969.6,1142.5L1972.3,1142.5L1972.3,1149.7L1975.0,1149.7L1975.0,1155.8L1977.7,1155.8L1977.7,1151.5L1980.4,1151.5L1980.4,1151.5L1983.1,1151.5L1983.1,1156.3L1985.8,1156.3L1985.8,1153.2L1988.5,1153.2L1988.5,1153.2L1991.2,1153.2L1991.2,1159.4L1993.9,1159.4L1993.9,1159.4L1996.6,1159.4L1996.6,1160.3L1999.3,1160.3L1999.3,1165.2L2002.0,1165.2L2002.0,1148.5L2004.7,1148.5L2004.7,1148.5L2007.4,1148.5L2007.4,1157.6L2010.1,1157.6L2010.1,1157.6L2012.8,1157.6L2012.8,1163.9L2015.5,1163.9L2015.5,1164.6L2018.2,1164.6L2018.2,1164.6L2020.9,1164.6L2020.9,1167.3L2023.6,1167.3L2023.6,1159.9L2026.3,1159.9L2026.3,1159.9L2029.0,1159.9L2029.0,1166.8L2031.7,1166.8L2031.7,1166.8L2034.4,1166.8L2034.4,1173.6L2037.1,1173.6L2037.1,1173.6L2039.8,1173.6L2039.8,1180.2L2042.5,1180.2L2042.5,1176.2L2045.2,1176.2L2045.2,1176.2L2047.9,1176.2L2047.9,1184.9L2050.6,1184.9L2050.6,1184.2L2053.3,1184.2L2053.3,1182.8L2056.0,1182.8L2056.0,1182.8L2058.7,1182.8L2058.7,1183.9L2061.4,1183.9L2061.4,1183.9L2064.1,1183.9L2064.1,1186.2L2066.8,1186.2L2066.8,1185.9L2069.5,1185.9L2069.5,1184.5L2072.2,1184.5L2072.2,1181.7L2074.9,1181.7L2074.9,1181.7L2077.6,1181.7L2077.6,1184.0L2080.3,1184.0L2080.3,1187.1L2083.0,1187.1L2083.0,1189.9L2085.7,1189.9L2085.7,1189.9L2088.4,1189.9L2088.4,1194.8L2091.1,1194.8L2091.1,1190.5L2093.8,1190.5L2093.8,1190.5L2096.5,1190.5L2096.5,1194.5L2099.2,1194.5L2099.2,1194.5L2101.9,1194.5L2101.9,1196.6L2104.6,1196.6L2104.6,1195.2L2107.3,1195.2L2107.3,1192.0L2110.0,1192.0L2110.0,1192.0L2112.7,1192.0L2112.7,1192.8L2115.4,1192.8L2115.4,1192.8L2118.1,1192.8L2118.1,1199.8L2120.8,1199.8L2120.8,1197.1L2123.5,1197.1L2123.5,1196.6L2126.2,1196.6L2126.2,1196.6L2128.9,1196.6L2128.9,1200.5L2131.6,1200.5L2131.6,1201.5L2134.3,1201.5L2134.3,1205.0L2137.0,1205.0L2137.0,1206.2L2139.7,1206.2L2139.7,1203.5L2142.4,1203.5L2142.4,1203.5L2145.1,1203.5L2145.1,1203.2L2147.8,1203.2L2147.8,1203.2L2150.5,1203.2L2150.5,1204.0L2153.2,1204.0L2153.2,1205.6L2155.9,1205.6L2155.9,1205.6L2158.6,1205.6L2158.6,1212.0L2161.3,1212.0L2161.3,1212.0L2164.0,1212.0L2164.0,1215.0L2166.7,1215.0L2166.7,1213.0L2169.4,1213.0L2169.4,1213.0L2172.1,1213.0L2172.1,1213.7L2174.8,1213.7L2174.8,1213.7L2177.5,1213.7L2177.5,1215.0L2180.2,1215.0L2180.2,1211.4L2182.9,1211.4L2182.9,1211.4L2185.6,1211.4L2185.6,1211.8L2188.3,1211.8L2188.3,1208.2L2191.0,1208.2L2191.0,1208.2L2193.7,1208.2L2193.7,1217.1L2196.4,1217.1L2196.4,1217.1L2199.1,1217.1L2199.1,1218.9L2201.8,1218.9L2201.8,1219.6L2204.5,1219.6L2204.5,1226.9L2207.2,1226.9L2207.2,1221.3L2209.9,1221.3L2209.9,1219.9L2212.6,1219.9L2212.6,1219.9L2215.3,1219.9L2215.3,1221.3L2218.0,1221.3L2218.0,1221.5L2220.7,1221.5L2220.7,1221.8L2223.4,1221.8L2223.4,1220.4L2226.1,1220.4L2226.1,1220.4L2228.8,1220.4L2228.8,1225.6L2231.5,1225.6L2231.5,1224.1L2234.2,1224.1L2234.2,1224.1L2236.9,1224.1L2236.9,1215.8L2239.6,1215.8L2239.6,1215.8L2242.3,1215.8L2242.3,1220.4L2245.0,1220.4L2245.0,1220.4L2247.7,1220.4L2247.7,1225.2L2250.4,1225.2L2250.4,1222.9L2253.1,1222.9L2253.1,1222.9L2255.8,1222.9L2255.8,1226.1L2258.5,1226.1L2258.5,1221.6L2261.2,1221.6L2261.2,1221.6L2263.9,1221.6L2263.9,1228.0L2266.6,1228.0L2266.6,1227.2L2269.3,1227.2L2269.3,1227.2L2272.0,1227.2L2272.0,1228.7L2274.7,1228.7L2274.7,1227.1L2277.4,1227.1L2277.4,1227.1L2280.1,1227.1L2280.1,1230.1L2282.8,1230.1L2282.8,1230.6L2285.5,1230.6L2285.5,1229.2L2288.2,1229.2L2288.2,1229.2L2290.9,1229.2L2290.9,1231.7L2293.6,1231.7L2293.6,1231.7L2296.3,1231.7L2296.3,1230.3L2299.0,1230.3L2299.0,1230.3L2301.7,1230.3L2301.7,1232.0L2304.4,1232.0L2304.4,1232.0L2307.1,1232.0L2307.1,1236.1L2309.8,1236.1L2309.8,1235.1L2312.5,1235.1L2312.5,1235.1L2315.2,1235.1L2315.2,1230.4L2317.9,1230.4L2317.9,1230.4L2320.6,1230.4L2320.6,1234.4L2323.3,1234.4L2323.3,1236.4L2326.0,1236.4L2326.0,1239.0L2328.7,1239.0L2328.7,1241.3L2331.4,1241.3L2331.4,1241.3L2333.0,1241.3L2333.0,1252.7L2331.4,1252.7L2331.4,1253.5L2328.7,1253.5L2328.7,1253.5L2326.0,1253.5L2326.0,1252.3L2323.3,1252.3L2323.3,1252.3L2320.6,1252.3L2320.6,1248.9L2317.9,1248.9L2317.9,1252.8L2315.2,1252.8L2315.2,1252.8L2312.5,1252.8L2312.5,1250.7L2309.8,1250.7L2309.8,1250.2L2307.1,1250.2L2307.1,1250.2L2304.4,1250.2L2304.4,1246.3L2301.7,1246.3L2301.7,1245.3L2299.0,1245.3L2299.0,1242.0L2296.3,1242.0L2296.3,1245.8L2293.6,1245.8L2293.6,1245.8L2290.9,1245.8L2290.9,1244.5L2288.2,1244.5L2288.2,1244.3L2285.5,1244.3L2285.5,1244.3L2282.8,1244.3L2282.8,1239.4L2280.1,1239.4L2280.1,1237.2L2277.4,1237.2L2277.4,1237.2L2274.7,1237.2L2274.7,1249.6L2272.0,1249.6L2272.0,1253.5L2269.3,1253.5L2269.3,1251.7L2266.6,1251.7L2266.6,1246.1L2263.9,1246.1L2263.9,1242.2L2261.2,1242.2L2261.2,1243.6L2258.5,1243.6L2258.5,1243.8L2255.8,1243.8L2255.8,1240.5L2253.1,1240.5L2253.1,1238.6L2250.4,1238.6L2250.4,1241.4L2247.7,1241.4L2247.7,1241.4L2245.0,1241.4L2245.0,1241.5L2242.3,1241.5L2242.3,1241.5L2239.6,1241.5L2239.6,1239.4L2236.9,1239.4L2236.9,1239.4L2234.2,1239.4L2234.2,1237.0L2231.5,1237.0L2231.5,1237.0L2228.8,1237.0L2228.8,1233.9L2226.1,1233.9L2226.1,1240.1L2223.4,1240.1L2223.4,1241.8L2220.7,1241.8L2220.7,1241.3L2218.0,1241.3L2218.0,1236.4L2215.3,1236.4L2215.3,1230.7L2212.6,1230.7L2212.6,1241.2L2209.9,1241.2L2209.9,1241.2L2207.2,1241.2L2207.2,1238.0L2204.5,1238.0L2204.5,1236.3L2201.8,1236.3L2201.8,1235.4L2199.1,1235.4L2199.1,1235.4L2196.4,1235.4L2196.4,1235.3L2193.7,1235.3L2193.7,1232.5L2191.0,1232.5L2191.0,1233.6L2188.3,1233.6L2188.3,1233.6L2185.6,1233.6L2185.6,1230.3L2182.9,1230.3L2182.9,1230.3L2180.2,1230.3L2180.2,1227.7L2177.5,1227.7L2177.5,1227.3L2174.8,1227.3L2174.8,1224.4L2172.1,1224.4L2172.1,1222.6L2169.4,1222.6L2169.4,1226.8L2166.7,1226.8L2166.7,1234.0L2164.0,1234.0L2164.0,1234.0L2161.3,1234.0L2161.3,1228.1L2158.6,1228.1L2158.6,1228.1L2155.9,1228.1L2155.9,1219.0L2153.2,1219.0L2153.2,1217.1L2150.5,1217.1L2150.5,1223.4L2147.8,1223.4L2147.8,1223.4L2145.1,1223.4L2145.1,1218.2L2142.4,1218.2L2142.4,1222.6L2139.7,1222.6L2139.7,1222.6L2137.0,1222.6L2137.0,1214.4L2134.3,1214.4L2134.3,1217.9L2131.6,1217.9L2131.6,1217.9L2128.9,1217.9L2128.9,1214.8L2126.2,1214.8L2126.2,1209.8L2123.5,1209.8L2123.5,1212.8L2120.8,1212.8L2120.8,1214.8L2118.1,1214.8L2118.1,1214.7L2115.4,1214.7L2115.4,1212.1L2112.7,1212.1L2112.7,1212.1L2110.0,1212.1L2110.0,1210.2L2107.3,1210.2L2107.3,1210.2L2104.6,1210.2L2104.6,1208.3L2101.9,1208.3L2101.9,1208.3L2099.2,1208.3L2099.2,1206.4L2096.5,1206.4L2096.5,1210.6L2093.8,1210.6L2093.8,1210.6L2091.1,1210.6L2091.1,1208.6L2088.4,1208.6L2088.4,1202.2L2085.7,1202.2L2085.7,1201.6L2083.0,1201.6L2083.0,1207.2L2080.3,1207.2L2080.3,1207.2L2077.6,1207.2L2077.6,1195.9L2074.9,1195.9L2074.9,1192.7L2072.2,1192.7L2072.2,1200.6L2069.5,1200.6L2069.5,1205.7L2066.8,1205.7L2066.8,1205.7L2064.1,1205.7L2064.1,1201.2L2061.4,1201.2L2061.4,1196.4L2058.7,1196.4L2058.7,1194.9L2056.0,1194.9L2056.0,1194.0L2053.3,1194.0L2053.3,1195.1L2050.6,1195.1L2050.6,1200.7L2047.9,1200.7L2047.9,1200.7L2045.2,1200.7L2045.2,1197.9L2042.5,1197.9L2042.5,1197.9L2039.8,1197.9L2039.8,1193.7L2037.1,1193.7L2037.1,1191.2L2034.4,1191.2L2034.4,1183.2L2031.7,1183.2L2031.7,1183.6L2029.0,1183.6L2029.0,1184.3L2026.3,1184.3L2026.3,1185.7L2023.6,1185.7L2023.6,1188.9L2020.9,1188.9L2020.9,1188.9L2018.2,1188.9L2018.2,1184.3L2015.5,1184.3L2015.5,1184.3L2012.8,1184.3L2012.8,1187.2L2010.1,1187.2L2010.1,1187.2L2007.4,1187.2L2007.4,1173.5L2004.7,1173.5L2004.7,1172.8L2002.0,1172.8L2002.0,1176.0L1999.3,1176.0L1999.3,1176.0L1996.6,1176.0L1996.6,1178.4L1993.9,1178.4L1993.9,1178.8L1991.2,1178.8L1991.2,1178.8L1988.5,1178.8L1988.5,1171.5L1985.8,1171.5L1985.8,1172.1L1983.1,1172.1L1983.1,1172.1L1980.4,1172.1L1980.4,1177.0L1977.7,1177.0L1977.7,1177.0L1975.0,1177.0L1975.0,1176.1L1972.3,1176.1L1972.3,1163.2L1969.6,1163.2L1969.6,1161.3L1966.9,1161.3L1966.9,1162.3L1964.2,1162.3L1964.2,1170.1L1961.5,1170.1L1961.5,1170.1L1958.8,1170.1L1958.8,1170.5L1956.1,1170.5L1956.1,1170.5L1953.4,1170.5L1953.4,1152.3L1950.7,1152.3L1950.7,1155.2L1948.0,1155.2L1948.0,1155.2L1945.3,1155.2L1945.3,1153.7L1942.6,1153.7L1942.6,1153.5L1939.9,1153.5L1939.9,1153.5L1937.2,1153.5L1937.2,1147.3L1934.5,1147.3L1934.5,1147.3L1931.8,1147.3L1931.8,1146.3L1929.1,1146.3L1929.1,1146.3L1926.4,1146.3L1926.4,1143.1L1923.7,1143.1L1923.7,1144.2L1921.0,1144.2L1921.0,1140.0L1918.3,1140.0L1918.3,1140.1L1915.6,1140.1L1915.6,1140.1L1912.9,1140.1L1912.9,1134.4L1910.2,1134.4L1910.2,1134.4L1907.5,1134.4L1907.5,1127.9L1904.8,1127.9L1904.8,1127.9L1902.1,1127.9L1902.1,1127.9L1899.4,1127.9L1899.4,1131.8L1896.7,1131.8L1896.7,1131.8L1894.0,1131.8L1894.0,1126.6L1891.3,1126.6L1891.3,1127.2L1888.6,1127.2L1888.6,1125.0L1885.9,1125.0L1885.9,1120.9L1883.2,1120.9L1883.2,1120.2L1880.5,1120.2L1880.5,1115.0L1877.8,1115.0L1877.8,1107.5L1875.1,1107.5L1875.1,1106.3L1872.4,1106.3L1872.4,1113.4L1869.7,1113.4L1869.7,1113.4L1867.0,1113.4L1867.0,1104.3L1864.3,1104.3L1864.3,1100.3L1861.6,1100.3L1861.6,1100.3L1858.9,1100.3L1858.9,1101.2L1856.2,1101.2L1856.2,1102.7L1853.5,1102.7L1853.5,1099.2L1850.8,1099.2L1850.8,1087.5L1848.1,1087.5L1848.1,1087.5L1845.4,1087.5L1845.4,1086.3L1842.7,1086.3L1842.7,1086.3L1840.0,1086.3L1840.0,1077.0L1837.3,1077.0L1837.3,1068.7L1834.6,1068.7L1834.6,1065.2L1831.9,1065.2L1831.9,1063.0L1829.2,1063.0L1829.2,1058.1L1826.5,1058.1L1826.5,1056.7L1823.8,1056.7L1823.8,1056.7L1821.1,1056.7L1821.1,1062.5L1818.4,1062.5L1818.4,1062.5L1815.7,1062.5L1815.7,1055.7L1813.0,1055.7L1813.0,1055.7L1810.3,1055.7L1810.3,1048.4L1807.6,1048.4L1807.6,1036.6L1804.9,1036.6L1804.9,1032.8L1802.2,1032.8L1802.2,1044.8L1799.5,1044.8L1799.5,1044.8L1796.8,1044.8L1796.8,1034.5L1794.1,1034.5L1794.1,1029.7L1791.4,1029.7L1791.4,1033.5L1788.7,1033.5L1788.7,1034.3L1786.0,1034.3L1786.0,1031.7L1783.3,1031.7L1783.3,1014.7L1780.6,1014.7L1780.6,1011.4L1777.9,1011.4L1777.9,1013.4L1775.2,1013.4L1775.2,1013.4L1772.5,1013.4L1772.5,1013.1L1769.8,1013.1L1769.8,1014.3L1767.1,1014.3L1767.1,1014.3L1764.4,1014.3L1764.4,995.6L1761.7,995.6L1761.7,993.1L1759.0,993.1L1759.0,996.0L1756.3,996.0L1756.3,996.0L1753.6,996.0L1753.6,994.6L1750.9,994.6L1750.9,994.5L1748.2,994.5L1748.2,974.1L1745.5,974.1L1745.5,973.9L1742.8,973.9L1742.8,979.7L1740.1,979.7L1740.1,979.7L1737.4,979.7L1737.4,964.5L1734.7,964.5L1734.7,968.0L1732.0,968.0L1732.0,968.0L1729.3,968.0L1729.3,957.4L1726.6,957.4L1726.6,958.2L1723.9,958.2L1723.9,958.2L1721.2,958.2L1721.2,943.4L1718.5,943.4L1718.5,943.0L1715.8,943.0L1715.8,939.8L1713.1,939.8L1713.1,932.5L1710.4,932.5L1710.4,932.5L1707.7,932.5L1707.7,932.6L1705.0,932.6L1705.0,929.7L1702.3,929.7L1702.3,922.3L1699.6,922.3L1699.6,922.3L1696.9,922.3L1696.9,917.2L1694.2,917.2L1694.2,916.1L1691.5,916.1L1691.5,914.1L1688.8,914.1L1688.8,909.3L1686.1,909.3L1686.1,902.4L1683.4,902.4L1683.4,901.2L1680.7,901.2L1680.7,901.2L1678.0,901.2L1678.0,897.8L1675.3,897.8L1675.3,900.0L1672.6,900.0L1672.6,900.0L1669.9,900.0L1669.9,887.6L1667.2,887.6L1667.2,878.6L1664.5,878.6L1664.5,875.0L1661.8,875.0L1661.8,869.2L1659.1,869.2L1659.1,872.3L1656.4,872.3L1656.4,872.3L1653.7,872.3L1653.7,861.3L1651.0,861.3L1651.0,861.3L1648.3,861.3L1648.3,848.5L1645.6,848.5L1645.6,848.5L1642.9,848.5L1642.9,846.7L1640.2,846.7L1640.2,842.7L1637.5,842.7L1637.5,842.7L1634.8,842.7L1634.8,830.9L1632.1,830.9L1632.1,827.4L1629.4,827.4L1629.4,826.0L1626.7,826.0L1626.7,828.0L1624.0,828.0L1624.0,828.8L1621.3,828.8L1621.3,824.2L1618.6,824.2L1618.6,820.7L1615.9,820.7L1615.9,810.0L1613.2,810.0L1613.2,807.7L1610.5,807.7L1610.5,801.6L1607.8,801.6L1607.8,796.5L1605.1,796.5L1605.1,799.3L1602.4,799.3L1602.4,800.5L1599.7,800.5L1599.7,800.5L1597.0,800.5L1597.0,798.6L1594.3,798.6L1594.3,804.0L1591.6,804.0L1591.6,804.0L1588.9,804.0L1588.9,802.7L1586.2,802.7L1586.2,809.4L1583.5,809.4L1583.5,809.4L1580.8,809.4L1580.8,802.2L1578.1,802.2L1578.1,802.2L1575.4,802.2L1575.4,799.1L1572.7,799.1L1572.7,804.7L1570.0,804.7L1570.0,804.7L1567.3,804.7L1567.3,810.7L1564.6,810.7L1564.6,813.2L1561.9,813.2L1561.9,813.2L1559.2,813.2L1559.2,797.3L1556.5,797.3L1556.5,792.4L1553.8,792.4L1553.8,791.7L1551.1,791.7L1551.1,795.0L1548.4,795.0L1548.4,801.9L1545.7,801.9L1545.7,816.1L1543.0,816.1L1543.0,816.1L1540.3,816.1L1540.3,806.3L1537.6,806.3L1537.6,800.8L1534.9,800.8L1534.9,812.2L1532.2,812.2L1532.2,812.2L1529.5,812.2L1529.5,811.4L1526.8,811.4L1526.8,804.6L1524.1,804.6L1524.1,804.6L1521.4,804.6L1521.4,800.3L1518.7,800.3L1518.7,813.1L1516.0,813.1L1516.0,813.1L1513.3,813.1L1513.3,810.3L1510.6,810.3L1510.6,810.3L1507.9,810.3L1507.9,810.2L1505.2,810.2L1505.2,810.2L1502.5,810.2L1502.5,813.3L1499.8,813.3L1499.8,813.3L1497.1,813.3L1497.1,817.4L1494.4,817.4L1494.4,817.4L1491.7,817.4L1491.7,816.2L1489.0,816.2L1489.0,818.8L1486.3,818.8L1486.3,819.3L1483.6,819.3L1483.6,819.2L1480.9,819.2L1480.9,832.7L1478.2,832.7L1478.2,836.9L1475.5,836.9L1475.5,836.9L1472.8,836.9L1472.8,837.8L1470.1,837.8L1470.1,835.9L1467.4,835.9L1467.4,852.8L1464.7,852.8L1464.7,852.8L1462.0,852.8L1462.0,846.7L1459.3,846.7L1459.3,860.7L1456.6,860.7L1456.6,861.6L1453.9,861.6L1453.9,853.9L1451.2,853.9L1451.2,853.3L1448.5,853.3L1448.5,862.3L1445.8,862.3L1445.8,865.0L1443.1,865.0L1443.1,885.2L1440.4,885.2L1440.4,885.8L1437.7,885.8L1437.7,881.4L1435.0,881.4L1435.0,877.9L1432.3,877.9L1432.3,889.3L1429.6,889.3L1429.6,894.1L1426.9,894.1L1426.9,897.7L1424.2,897.7L1424.2,897.8L1421.5,897.8L1421.5,907.4L1418.8,907.4L1418.8,907.4L1416.1,907.4L1416.1,903.5L1413.4,903.5L1413.4,914.0L1410.7,914.0L1410.7,922.7L1408.0,922.7L1408.0,922.7L1405.3,922.7L1405.3,920.1L1402.6,920.1L1402.6,927.4L1399.9,927.4L1399.9,927.4L1397.2,927.4L1397.2,921.9L1394.5,921.9L1394.5,925.7L1391.8,925.7L1391.8,935.7L1389.1,935.7L1389.1,938.0L1386.4,938.0L1386.4,941.0L1383.7,941.0L1383.7,940.9L1381.0,940.9L1381.0,949.6L1378.3,949.6L1378.3,961.0L1375.6,961.0L1375.6,961.0L1372.9,961.0L1372.9,955.2L1370.2,955.2L1370.2,957.2L1367.5,957.2L1367.5,967.6L1364.8,967.6L1364.8,969.3L1362.1,969.3L1362.1,969.3L1359.4,969.3L1359.4,969.5L1356.7,969.5L1356.7,976.4L1354.0,976.4L1354.0,979.5L1351.3,979.5L1351.3,978.2L1348.6,978.2L1348.6,978.8L1345.9,978.8L1345.9,994.1L1343.2,994.1L1343.2,994.1L1340.5,994.1L1340.5,989.6L1337.8,989.6L1337.8,1005.0L1335.1,1005.0L1335.1,1005.0L1332.4,1005.0L1332.4,999.6L1329.7,999.6L1329.7,1004.7L1327.0,1004.7L1327.0,1004.7L1324.3,1004.7L1324.3,1007.9L1321.6,1007.9L1321.6,1018.8L1318.9,1018.8L1318.9,1018.8L1316.2,1018.8L1316.2,1015.9L1313.5,1015.9L1313.5,1021.9L1310.8,1021.9L1310.8,1032.8L1308.1,1032.8L1308.1,1032.8L1305.4,1032.8L1305.4,1030.6L1302.7,1030.6L1302.7,1025.9L1300.0,1025.9L1300.0,1025.1L1297.3,1025.1L1297.3,1041.7L1294.6,1041.7L1294.6,1042.6L1291.9,1042.6L1291.9,1052.5L1289.2,1052.5L1289.2,1053.8L1286.5,1053.8L1286.5,1053.0L1283.8,1053.0L1283.8,1044.0L1281.1,1044.0L1281.1,1044.0L1278.4,1044.0L1278.4,1044.3L1275.7,1044.3L1275.7,1056.7L1273.0,1056.7L1273.0,1057.1L1270.3,1057.1L1270.3,1061.6L1267.6,1061.6L1267.6,1060.3L1264.9,1060.3L1264.9,1074.1L1262.2,1074.1L1262.2,1074.1L1259.5,1074.1L1259.5,1069.5L1256.8,1069.5L1256.8,1069.5L1254.1,1069.5L1254.1,1062.2L1251.4,1062.2L1251.4,1067.9L1248.7,1067.9L1248.7,1081.0L1246.0,1081.0L1246.0,1081.8L1243.3,1081.8L1243.3,1081.8L1240.6,1081.8L1240.6,1077.2L1237.9,1077.2L1237.9,1082.1L1235.2,1082.1L1235.2,1082.1L1232.5,1082.1L1232.5,1080.7L1229.8,1080.7L1229.8,1086.2L1227.1,1086.2L1227.1,1086.2L1224.4,1086.2L1224.4,1082.1L1221.7,1082.1L1221.7,1095.0L1219.0,1095.0L1219.0,1095.0L1216.3,1095.0L1216.3,1088.4L1213.6,1088.4L1213.6,1096.0L1210.9,1096.0L1210.9,1096.0L1208.2,1096.0L1208.2,1090.0L1205.5,1090.0L1205.5,1092.1L1202.8,1092.1L1202.8,1092.1L1200.1,1092.1L1200.1,1089.5L1197.4,1089.5L1197.4,1096.4L1194.7,1096.4L1194.7,1099.8L1192.0,1099.8L1192.0,1099.8L1189.3,1099.8L1189.3,1096.3L1186.6,1096.3L1186.6,1098.6L1183.9,1098.6L1183.9,1116.7L1181.2,1116.7L1181.2,1116.7L1178.5,1116.7L1178.5,1110.0L1175.8,1110.0L1175.8,1110.0L1173.1,1110.0L1173.1,1115.9L1170.4,1115.9L1170.4,1115.9L1167.7,1115.9L1167.7,1104.5L1165.0,1104.5L1165.0,1105.8L1162.3,1105.8L1162.3,1107.2L1159.6,1107.2L1159.6,1107.2L1156.9,1107.2L1156.9,1115.2L1154.2,1115.2L1154.2,1115.2L1151.5,1115.2L1151.5,1107.0L1148.8,1107.0L1148.8,1108.5L1146.1,1108.5L1146.1,1113.0L1143.4,1113.0L1143.4,1113.0L1140.7,1113.0L1140.7,1118.4L1138.0,1118.4L1138.0,1118.4L1135.3,1118.4L1135.3,1111.4L1132.6,1111.4L1132.6,1116.7L1129.9,1116.7L1129.9,1116.7L1127.2,1116.7L1127.2,1118.9L1124.5,1118.9L1124.5,1124.9L1121.8,1124.9L1121.8,1126.9L1119.1,1126.9L1119.1,1124.6L1116.4,1124.6L1116.4,1126.3L1113.7,1126.3L1113.7,1128.1L1111.0,1128.1L1111.0,1130.7L1108.3,1130.7L1108.3,1130.7L1105.6,1130.7L1105.6,1129.1L1102.9,1129.1L1102.9,1129.1L1100.2,1129.1L1100.2,1125.7L1097.5,1125.7L1097.5,1125.7L1094.8,1125.7L1094.8,1120.5L1092.1,1120.5L1092.1,1120.7L1089.4,1120.7L1089.4,1125.2L1086.7,1125.2L1086.7,1125.7L1084.0,1125.7L1084.0,1138.1L1081.3,1138.1L1081.3,1138.1L1078.6,1138.1L1078.6,1136.2L1075.9,1136.2L1075.9,1127.2L1073.2,1127.2L1073.2,1125.5L1070.5,1125.5L1070.5,1127.0L1067.8,1127.0L1067.8,1127.0L1065.1,1127.0L1065.1,1124.9L1062.4,1124.9L1062.4,1132.7L1059.7,1132.7L1059.7,1133.5L1057.0,1133.5L1057.0,1133.6L1054.3,1133.6L1054.3,1131.4L1051.6,1131.4L1051.6,1137.7L1048.9,1137.7L1048.9,1137.7L1046.2,1137.7L1046.2,1133.4L1043.5,1133.4L1043.5,1133.4L1040.8,1133.4L1040.8,1131.5L1038.1,1131.5L1038.1,1128.2L1035.4,1128.2L1035.4,1125.7L1032.7,1125.7L1032.7,1129.9L1030.0,1129.9L1030.0,1143.9L1027.3,1143.9L1027.3,1143.9L1024.6,1143.9L1024.6,1136.1L1021.9,1136.1L1021.9,1136.1L1019.2,1136.1L1019.2,1134.3L1016.5,1134.3L1016.5,1134.3L1013.8,1134.3L1013.8,1135.2L1011.1,1135.2L1011.1,1135.2L1008.4,1135.2L1008.4,1134.4L1005.7,1134.4L1005.7,1130.6L1003.0,1130.6L1003.0,1130.9L1000.3,1130.9L1000.3,1130.9L997.6,1130.9L997.6,1136.2L994.9,1136.2L994.9,1136.2L992.2,1136.2L992.2,1136.4L989.5,1136.4L989.5,1137.1L986.8,1137.1L986.8,1141.5L984.1,1141.5L984.1,1140.4L981.4,1140.4L981.4,1141.9L978.7,1141.9L978.7,1141.9L976.0,1141.9L976.0,1138.6L973.3,1138.6L973.3,1139.0L970.6,1139.0L970.6,1143.7L967.9,1143.7L967.9,1141.6L965.2,1141.6L965.2,1129.1L962.5,1129.1L962.5,1133.8L959.8,1133.8L959.8,1140.7L957.1,1140.7L957.1,1142.7L954.4,1142.7L954.4,1142.7L951.7,1142.7L951.7,1134.5L949.0,1134.5L949.0,1142.6L946.3,1142.6L946.3,1144.2L943.6,1144.2L943.6,1144.2L940.9,1144.2L940.9,1136.6L938.2,1136.6L938.2,1147.1L935.5,1147.1L935.5,1149.3L932.8,1149.3L932.8,1149.3L930.1,1149.3L930.1,1137.9L927.4,1137.9L927.4,1137.9L924.7,1137.9L924.7,1140.3L922.0,1140.3L922.0,1148.1L919.3,1148.1L919.3,1149.7L916.6,1149.7L916.6,1149.3L913.9,1149.3L913.9,1146.9L911.2,1146.9L911.2,1146.9L908.5,1146.9L908.5,1139.8L905.8,1139.8L905.8,1145.2L903.1,1145.2L903.1,1145.2L900.4,1145.2L900.4,1150.6L897.7,1150.6L897.7,1150.6L895.0,1150.6L895.0,1162.2L892.3,1162.2L892.3,1162.2L889.6,1162.2L889.6,1155.5L886.9,1155.5L886.9,1150.2L884.2,1150.2L884.2,1150.2L881.5,1150.2L881.5,1142.4L878.8,1142.4L878.8,1142.4L876.1,1142.4L876.1,1149.6L873.4,1149.6L873.4,1153.4L870.7,1153.4L870.7,1153.4L868.0,1153.4L868.0,1153.9L865.3,1153.9L865.3,1162.2L862.6,1162.2L862.6,1162.2L859.9,1162.2L859.9,1156.8L857.2,1156.8L857.2,1159.3L854.5,1159.3L854.5,1162.9L851.8,1162.9L851.8,1168.3L849.1,1168.3L849.1,1175.7L846.4,1175.7L846.4,1175.7L843.7,1175.7L843.7,1170.6L841.0,1170.6L841.0,1171.3L838.3,1171.3L838.3,1171.6L835.6,1171.6L835.6,1169.8L832.9,1169.8L832.9,1165.2L830.2,1165.2L830.2,1178.2L827.5,1178.2L827.5,1178.2L824.8,1178.2L824.8,1184.9L822.1,1184.9L822.1,1184.9L819.4,1184.9L819.4,1180.2L816.7,1180.2L816.7,1180.6L814.0,1180.6L814.0,1180.6L811.3,1180.6L811.3,1177.5L808.6,1177.5L808.6,1181.3L805.9,1181.3L805.9,1184.4L803.2,1184.4L803.2,1196.5L800.5,1196.5L800.5,1196.5L797.8,1196.5L797.8,1196.9L795.1,1196.9L795.1,1196.9L792.4,1196.9L792.4,1196.6L789.7,1196.6L789.7,1197.5L787.0,1197.5L787.0,1201.5L784.3,1201.5L784.3,1201.5L781.6,1201.5L781.6,1211.5L778.9,1211.5L778.9,1211.5L776.2,1211.5L776.2,1203.9L773.5,1203.9L773.5,1207.6L770.8,1207.6L770.8,1208.6L768.1,1208.6L768.1,1210.3L765.4,1210.3L765.4,1211.6L762.7,1211.6L762.7,1218.1L760.0,1218.1L760.0,1218.1L757.3,1218.1L757.3,1216.1L754.6,1216.1L754.6,1224.6L751.9,1224.6L751.9,1224.6L749.2,1224.6L749.2,1226.5L746.5,1226.5L746.5,1232.0L743.8,1232.0L743.8,1232.1L741.1,1232.1L741.1,1232.1L738.4,1232.1L738.4,1230.4L735.7,1230.4L735.7,1230.0L733.0,1230.0L733.0,1247.5L730.3,1247.5L730.3,1247.5L727.6,1247.5L727.6,1239.0L724.9,1239.0L724.9,1240.5L722.2,1240.5L722.2,1242.4L719.5,1242.4L719.5,1250.8L716.8,1250.8L716.8,1252.3L714.1,1252.3L714.1,1252.3L711.4,1252.3L711.4,1255.6L708.7,1255.6L708.7,1259.9L706.0,1259.9L706.0,1259.9L703.3,1259.9L703.3,1254.7L700.6,1254.7L700.6,1259.8L697.9,1259.8L697.9,1264.6L695.2,1264.6L695.2,1264.6L692.5,1264.6L692.5,1264.5L689.8,1264.5L689.8,1269.3L687.1,1269.3L687.1,1269.8L684.4,1269.8L684.4,1269.8L681.7,1269.8L681.7,1269.8L679.0,1269.8L679.0,1265.7L676.3,1265.7L676.3,1263.6L673.6,1263.6L673.6,1266.9L670.9,1266.9L670.9,1266.9L668.2,1266.9L668.2,1271.4L665.5,1271.4L665.5,1273.6L662.8,1273.6L662.8,1273.6L660.1,1273.6L660.1,1275.4L657.4,1275.4L657.4,1282.1L654.7,1282.1L654.7,1282.1L652.0,1282.1L652.0,1280.3L649.3,1280.3L649.3,1280.3L646.6,1280.3L646.6,1283.6L643.9,1283.6L643.9,1283.6L641.2,1283.6L641.2,1290.1L638.5,1290.1L638.5,1291.6L635.8,1291.6L635.8,1288.1L633.1,1288.1L633.1,1286.2L630.4,1286.2L630.4,1284.3L627.7,1284.3L627.7,1290.3L625.0,1290.3L625.0,1291.8L622.3,1291.8L622.3,1295.7L619.6,1295.7L619.6,1295.7L616.9,1295.7L616.9,1296.6L614.2,1296.6L614.2,1296.6L611.5,1296.6L611.5,1299.1L608.8,1299.1L608.8,1299.1L606.1,1299.1L606.1,1297.5L603.4,1297.5L603.4,1296.8L600.7,1296.8L600.7,1299.8L598.0,1299.8L598.0,1305.9L595.3,1305.9L595.3,1305.9L592.6,1305.9L592.6,1304.7L589.9,1304.7L589.9,1304.7L587.2,1304.7L587.2,1303.6L584.5,1303.6L584.5,1303.2L581.8,1303.2L581.8,1300.0L579.1,1300.0L579.1,1300.0L576.4,1300.0L576.4,1310.5L573.7,1310.5L573.7,1310.5L571.0,1310.5L571.0,1307.7L568.3,1307.7L568.3,1307.7L565.6,1307.7L565.6,1310.5L562.9,1310.5L562.9,1310.5L560.2,1310.5L560.2,1310.5L557.5,1310.5L557.5,1311.5L554.8,1311.5L554.8,1311.5L552.1,1311.5L552.1,1306.9L549.4,1306.9L549.4,1313.9L546.7,1313.9L546.7,1314.3L544.0,1314.3L544.0,1314.3L541.3,1314.3L541.3,1311.0L538.6,1311.0L538.6,1311.4L535.9,1311.4L535.9,1310.8L533.2,1310.8L533.2,1319.8L530.5,1319.8L530.5,1319.8L527.8,1319.8L527.8,1315.6L525.1,1315.6L525.1,1313.5L522.4,1313.5L522.4,1311.3L519.7,1311.3L519.7,1313.8L517.0,1313.8L517.0,1317.3L514.3,1317.3L514.3,1317.3L511.6,1317.3L511.6,1309.6L508.9,1309.6L508.9,1315.9L506.2,1315.9L506.2,1315.9L503.5,1315.9L503.5,1311.2L500.8,1311.2L500.8,1312.6L498.1,1312.6L498.1,1314.8L495.4,1314.8L495.4,1314.8L492.7,1314.8L492.7,1313.1L490.0,1313.1L490.0,1313.8L487.3,1313.8L487.3,1313.8L484.6,1313.8L484.6,1313.5L481.9,1313.5L481.9,1312.4L479.2,1312.4L479.2,1314.9L476.5,1314.9L476.5,1314.9L473.8,1314.9L473.8,1317.6L471.1,1317.6L471.1,1318.4L468.4,1318.4L468.4,1317.7L465.7,1317.7L465.7,1318.4L463.0,1318.4L463.0,1318.4L460.3,1318.4L460.3,1322.3L457.6,1322.3L457.6,1322.3L454.9,1322.3L454.9,1320.0L452.2,1320.0L452.2,1320.1L449.5,1320.1L449.5,1320.6L446.8,1320.6L446.8,1320.8L444.1,1320.8L444.1,1320.8L441.4,1320.8L441.4,1321.3L438.7,1321.3L438.7,1321.3L436.0,1321.3L436.0,1324.2L433.3,1324.2L433.3,1324.3L430.6,1324.3L430.6,1324.3L427.9,1324.3L427.9,1322.1L425.2,1322.1L425.2,1323.5L422.5,1323.5L422.5,1323.5L419.8,1323.5L419.8,1321.4L417.1,1321.4L417.1,1322.7L414.4,1322.7L414.4,1322.7L411.7,1322.7L411.7,1322.0L409.0,1322.0L409.0,1326.1L406.3,1326.1L406.3,1326.1L403.6,1326.1L403.6,1320.8L400.9,1320.8L400.9,1323.6L398.2,1323.6L398.2,1326.2L395.5,1326.2L395.5,1326.2L392.8,1326.2L392.8,1325.3L390.1,1325.3L390.1,1325.3L387.4,1325.3L387.4,1324.7L384.7,1324.7L384.7,1324.2L382.0,1324.2L382.0,1326.7L379.3,1326.7L379.3,1326.7L376.6,1326.7L376.6,1322.3L373.9,1322.3L373.9,1322.3L371.2,1322.3L371.2,1324.2L368.5,1324.2L368.5,1324.2L365.8,1324.2L365.8,1321.7L363.1,1321.7L363.1,1321.7L360.4,1321.7L360.4,1320.6L357.7,1320.6L357.7,1321.6L355.0,1321.6L355.0,1321.6L352.3,1321.6L352.3,1319.9L349.6,1319.9L349.6,1320.5L346.9,1320.5L346.9,1320.5L344.2,1320.5L344.2,1317.2L341.5,1317.2L341.5,1317.7L338.8,1317.7L338.8,1317.8L336.1,1317.8L336.1,1317.9L333.4,1317.9L333.4,1316.7L330.7,1316.7L330.7,1313.9L328.0,1313.9L328.0,1313.6L325.3,1313.6L325.3,1310.4L322.6,1310.4L322.6,1310.4L319.9,1310.4L319.9,1308.8L317.2,1308.8L317.2,1308.2L314.5,1308.2L314.5,1308.2L311.8,1308.2L311.8,1307.2L309.1,1307.2L309.1,1312.5L306.4,1312.5L306.4,1312.5L303.7,1312.5L303.7,1307.4L301.0,1307.4L301.0,1313.4L298.3,1313.4L298.3,1319.1L295.6,1319.1L295.6,1320.4L292.9,1320.4L292.9,1320.4L290.2,1320.4L290.2,1315.0L287.5,1315.0L287.5,1317.7L284.8,1317.7L284.8,1317.7L282.1,1317.7L282.1,1313.5L279.4,1313.5L279.4,1317.5L276.7,1317.5Z" fill="#ff0000" stroke="none"/>
<path d="M276.7,1560.6L279.4,1560.6L279.4,1561.1L282.1,1561.1L282.1,1561.1L284.8,1561.1L284.8,1560.3L287.5,1560.3L287.5,1560.8L290.2,1560.8L290.2,1561.5L292.9,1561.5L292.9,1561.5L295.6,1561.5L295.6,1562.3L298.3,1562.3L298.3,1562.7L301.0,1562.7L301.0,1562.2L303.7,1562.2L303.7,1559.5L306.4,1559.5L306.4,1559.5L309.1,1559.5L309.1,1559.5L311.8,1559.5L311.8,1560.9L314.5,1560.9L314.5,1560.5L317.2,1560.5L317.2,1558.0L319.9,1558.0L319.9,1558.0L322.6,1558.0L322.6,1560.5L325.3,1560.5L325.3,1559.3L328.0,1559.3L328.0,1559.3L330.7,1559.3L330.7,1560.5L333.4,1560.5L333.4,1558.6L336.1,1558.6L336.1,1558.6L338.8,1558.6L338.8,1558.7L341.5,1558.7L341.5,1560.0L344.2,1560.0L344.2,1561.6L346.9,1561.6L346.9,1559.2L349.6,1559.2L349.6,1559.2L352.3,1559.2L352.3,1558.8L355.0,1558.8L355.0,1559.0L357.7,1559.0L357.7,1558.4L360.4,1558.4L360.4,1558.4L363.1,1558.4L363.1,1559.5L365.8,1559.5L365.8,1560.2L368.5,1560.2L368.5,1559.1L371.2,1559.1L371.2,1559.1L373.9,1559.1L373.9,1557.8L376.6,1557.8L376.6,1557.8L379.3,1557.8L379.3,1557.4L382.0,1557.4L382.0,1557.4L384.7,1557.4L384.7,1557.9L387.4,1557.9L387.4,1557.7L390.1,1557.7L390.1,1557.7L392.8,1557.7L392.8,1558.5L395.5,1558.5L395.5,1557.1L398.2,1557.1L398.2,1557.1L400.9,1557.1L400.9,1558.3L403.6,1558.3L403.6,1560.5L406.3,1560.5L406.3,1558.4L409.0,1558.4L409.0,1558.2L411.7,1558.2L411.7,1556.4L414.4,1556.4L414.4,1556.4L417.1,1556.4L417.1,1556.4L419.8,1556.4L419.8,1556.4L422.5,1556.4L422.5,1558.4L425.2,1558.4L425.2,1558.2L427.9,1558.2L427.9,1558.2L430.6,1558.2L430.6,1556.4L433.3,1556.4L433.3,1553.1L436.0,1553.1L436.0,1553.1L438.7,1553.1L438.7,1558.0L441.4,1558.0L441.4,1558.0L444.1,1558.0L444.1,1555.2L446.8,1555.2L446.8,1555.2L449.5,1555.2L449.5,1555.9L452.2,1555.9L452.2,1555.6L454.9,1555.6L454.9,1553.0L457.6,1553.0L457.6,1553.0L460.3,1553.0L460.3,1554.9L463.0,1554.9L463.0,1554.5L465.7,1554.5L465.7,1553.3L468.4,1553.3L468.4,1553.3L471.1,1553.3L471.1,1553.2L473.8,1553.2L473.8,1552.7L476.5,1552.7L476.5,1552.7L479.2,1552.7L479.2,1551.4L481.9,1551.4L481.9,1551.3L484.6,1551.3L484.6,1551.7L487.3,1551.7L487.3,1551.6L490.0,1551.6L490.0,1551.6L492.7,1551.6L492.7,1552.0L495.4,1552.0L495.4,1553.1L498.1,1553.1L498.1,1551.0L500.8,1551.0L500.8,1549.8L503.5,1549.8L503.5,1547.9L506.2,1547.9L506.2,1547.9L508.9,1547.9L508.9,1546.8L511.6,1546.8L511.6,1546.8L514.3,1546.8L514.3,1548.4L517.0,1548.4L517.0,1546.5L519.7,1546.5L519.7,1545.8L522.4,1545.8L522.4,1546.1L525.1,1546.1L525.1,1545.0L527.8,1545.0L527.8,1544.4L530.5,1544.4L530.5,1543.0L533.2,1543.0L533.2,1543.0L535.9,1543.0L535.9,1541.9L538.6,1541.9L538.6,1541.8L541.3,1541.8L541.3,1540.8L544.0,1540.8L544.0,1540.8L546.7,1540.8L546.7,1542.0L549.4,1542.0L549.4,1539.7L552.1,1539.7L552.1,1536.6L554.8,1536.6L554.8,1536.6L557.5,1536.6L557.5,1538.0L560.2,1538.0L560.2,1538.0L562.9,1538.0L562.9,1535.3L565.6,1535.3L565.6,1533.3L568.3,1533.3L568.3,1532.2L571.0,1532.2L571.0,1531.6L573.7,1531.6L573.7,1531.6L576.4,1531.6L576.4,1531.9L579.1,1531.9L579.1,1531.9L581.8,1531.9L581.8,1530.5L584.5,1530.5L584.5,1530.5L587.2,1530.5L587.2,1530.1L589.9,1530.1L589.9,1526.1L592.6,1526.1L592.6,1526.1L595.3,1526.1L595.3,1523.5L598.0,1523.5L598.0,1519.5L600.7,1519.5L600.7,1518.6L603.4,1518.6L603.4,1519.3L606.1,1519.3L606.1,1521.4L608.8,1521.4L608.8,1521.4L611.5,1521.4L611.5,1521.8L614.2,1521.8L614.2,1521.8L616.9,1521.8L616.9,1516.5L619.6,1516.5L619.6,1516.5L622.3,1516.5L622.3,1515.8L625.0,1515.8L625.0,1515.8L627.7,1515.8L627.7,1516.7L630.4,1516.7L630.4,1513.3L633.1,1513.3L633.1,1513.2L635.8,1513.2L635.8,1511.1L638.5,1511.1L638.5,1510.6L641.2,1510.6L641.2,1507.8L643.9,1507.8L643.9,1505.6L646.6,1505.6L646.6,1505.6L649.3,1505.6L649.3,1504.2L652.0,1504.2L652.0,1502.7L654.7,1502.7L654.7,1503.0L657.4,1503.0L657.4,1503.0L660.1,1503.0L660.1,1501.2L662.8,1501.2L662.8,1501.2L665.5,1501.2L665.5,1498.6L668.2,1498.6L668.2,1494.5L670.9,1494.5L670.9,1493.6L673.6,1493.6L673.6,1493.2L676.3,1493.2L676.3,1485.7L679.0,1485.7L679.0,1485.7L681.7,1485.7L681.7,1486.7L684.4,1486.7L684.4,1480.0L687.1,1480.0L687.1,1479.1L689.8,1479.1L689.8,1479.1L692.5,1479.1L692.5,1475.8L695.2,1475.8L695.2,1475.8L697.9,1475.8L697.9,1474.5L700.6,1474.5L700.6,1468.5L703.3,1468.5L703.3,1468.4L706.0,1468.4L706.0,1468.5L708.7,1468.5L708.7,1468.2L711.4,1468.2L711.4,1468.1L714.1,1468.1L714.1,1461.6L716.8,1461.6L716.8,1458.1L719.5,1458.1L719.5,1455.8L722.2,1455.8L722.2,1456.1L724.9,1456.1L724.9,1456.8L727.6,1456.8L727.6,1456.8L730.3,1456.8L730.3,1452.2L733.0,1452.2L733.0,1446.0L735.7,1446.0L735.7,1443.0L738.4,1443.0L738.4,1436.2L741.1,1436.2L741.1,1435.8L743.8,1435.8L743.8,1431.4L746.5,1431.4L746.5,1431.4L749.2,1431.4L749.2,1428.5L751.9,1428.5L751.9,1427.3L754.6,1427.3L754.6,1426.5L757.3,1426.5L757.3,1423.7L760.0,1423.7L760.0,1418.0L762.7,1418.0L762.7,1415.9L765.4,1415.9L765.4,1415.9L768.1,1415.9L768.1,1409.9L770.8,1409.9L770.8,1405.6L773.5,1405.6L773.5,1405.6L776.2,1405.6L776.2,1407.8L778.9,1407.8L778.9,1406.2L781.6,1406.2L781.6,1405.7L784.3,1405.7L784.3,1399.0L787.0,1399.0L787.0,1390.5L789.7,1390.5L789.7,1387.0L792.4,1387.0L792.4,1387.0L795.1,1387.0L795.1,1391.9L797.8,1391.9L797.8,1390.7L800.5,1390.7L800.5,1384.3L803.2,1384.3L803.2,1380.8L805.9,1380.8L805.9,1376.4L808.6,1376.4L808.6,1373.4L811.3,1373.4L811.3,1367.6L814.0,1367.6L814.0,1365.1L816.7,1365.1L816.7,1365.1L819.4,1365.1L819.4,1365.5L822.1,1365.5L822.1,1361.6L824.8,1361.6L824.8,1361.6L827.5,1361.6L827.5,1356.5L830.2,1356.5L830.2,1356.5L832.9,1356.5L832.9,1354.5L835.6,1354.5L835.6,1354.5L838.3,1354.5L838.3,1348.3L841.0,1348.3L841.0,1342.2L843.7,1342.2L843.7,1342.2L846.4,1342.2L846.4,1348.2L849.1,1348.2L849.1,1348.2L851.8,1348.2L851.8,1340.2L854.5,1340.2L854.5,1339.7L857.2,1339.7L857.2,1339.7L859.9,1339.7L859.9,1335.2L862.6,1335.2L862.6,1335.2L865.3,1335.2L865.3,1340.1L868.0,1340.1L868.0,1328.4L870.7,1328.4L870.7,1324.1L873.4,1324.1L873.4,1324.3L876.1,1324.3L876.1,1323.8L878.8,1323.8L878.8,1323.8L881.5,1323.8L881.5,1334.4L884.2,1334.4L884.2,1326.4L886.9,1326.4L886.9,1319.0L889.6,1319.0L889.6,1319.0L892.3,1319.0L892.3,1314.8L895.0,1314.8L895.0,1311.8L897.7,1311.8L897.7,1311.8L900.4,1311.8L900.4,1312.2L903.1,1312.2L903.1,1312.2L905.8,1312.2L905.8,1312.8L908.5,1312.8L908.5,1309.8L911.2,1309.8L911.2,1309.2L913.9,1309.2L913.9,1309.2L916.6,1309.2L916.6,1309.6L919.3,1309.6L919.3,1309.1L922.0,1309.1L922.0,1307.4L924.7,1307.4L924.7,1306.1L927.4,1306.1L927.4,1306.1L930.1,1306.1L930.1,1304.4L932.8,1304.4L932.8,1300.5L935.5,1300.5L935.5,1298.0L938.2,1298.0L938.2,1296.3L940.9,1296.3L940.9,1296.3L943.6,1296.3L943.6,1296.6L946.3,1296.6L946.3,1296.6L949.0,1296.6L949.0,1300.2L951.7,1300.2L951.7,1298.9L954.4,1298.9L954.4,1299.8L957.1,1299.8L957.1,1300.8L959.8,1300.8L959.8,1301.0L962.5,1301.0L962.5,1298.4L965.2,1298.4L965.2,1297.6L967.9,1297.6L967.9,1285.4L970.6,1285.4L970.6,1285.4L973.3,1285.4L973.3,1286.8L976.0,1286.8L976.0,1286.8L978.7,1286.8L978.7,1293.7L981.4,1293.7L981.4,1298.0L984.1,1298.0L984.1,1300.6L986.8,1300.6L986.8,1294.5L989.5,1294.5L989.5,1294.5L992.2,1294.5L992.2,1285.2L994.9,1285.2L994.9,1285.2L997.6,1285.2L997.6,1288.6L1000.3,1288.6L1000.3,1286.4L1003.0,1286.4L1003.0,1286.4L1005.7,1286.4L1005.7,1292.2L1008.4,1292.2L1008.4,1292.2L1011.1,1292.2L1011.1,1287.4L1013.8,1287.4L1013.8,1287.4L1016.5,1287.4L1016.5,1290.7L1019.2,1290.7L1019.2,1290.7L1021.9,1290.7L1021.9,1295.9L1024.6,1295.9L1024.6,1290.6L1027.3,1290.6L1027.3,1290.6L1030.0,1290.6L1030.0,1282.9L1032.7,1282.9L1032.7,1282.9L1035.4,1282.9L1035.4,1288.3L1038.1,1288.3L1038.1,1286.5L1040.8,1286.5L1040.8,1286.5L1043.5,1286.5L1043.5,1290.0L1046.2,1290.0L1046.2,1289.6L1048.9,1289.6L1048.9,1285.6L1051.6,1285.6L1051.6,1285.6L1054.3,1285.6L1054.3,1288.6L1057.0,1288.6L1057.0,1282.2L1059.7,1282.2L1059.7,1282.2L1062.4,1282.2L1062.4,1283.7L1065.1,1283.7L1065.1,1286.5L1067.8,1286.5L1067.8,1295.6L1070.5,1295.6L1070.5,1291.5L1073.2,1291.5L1073.2,1283.7L1075.9,1283.7L1075.9,1283.7L1078.6,1283.7L1078.6,1291.3L1081.3,1291.3L1081.3,1284.1L1084.0,1284.1L1084.0,1283.6L1086.7,1283.6L1086.7,1285.3L1089.4,1285.3L1089.4,1289.5L1092.1,1289.5L1092.1,1289.4L1094.8,1289.4L1094.8,1289.4L1097.5,1289.4L1097.5,1278.7L1100.2,1278.7L1100.2,1277.6L1102.9,1277.6L1102.9,1279.1L1105.6,1279.1L1105.6,1286.6L1108.3,1286.6L1108.3,1281.2L1111.0,1281.2L1111.0,1281.2L1113.7,1281.2L1113.7,1285.6L1116.4,1285.6L1116.4,1278.3L1119.1,1278.3L1119.1,1276.8L1121.8,1276.8L1121.8,1272.6L1124.5,1272.6L1124.5,1272.6L1127.2,1272.6L1127.2,1280.4L1129.9,1280.4L1129.9,1269.2L1132.6,1269.2L1132.6,1268.7L1135.3,1268.7L1135.3,1266.6L1138.0,1266.6L1138.0,1265.0L1140.7,1265.0L1140.7,1265.0L1143.4,1265.0L1143.4,1273.1L1146.1,1273.1L1146.1,1273.1L1148.8,1273.1L1148.8,1272.2L1151.5,1272.2L1151.5,1268.2L1154.2,1268.2L1154.2,1264.9L1156.9,1264.9L1156.9,1265.3L1159.6,1265.3L1159.6,1258.0L1162.3,1258.0L1162.3,1258.0L1165.0,1258.0L1165.0,1257.4L1167.7,1257.4L1167.7,1256.5L1170.4,1256.5L1170.4,1255.4L1173.1,1255.4L1173.1,1255.4L1175.8,1255.4L1175.8,1256.1L1178.5,1256.1L1178.5,1246.2L1181.2,1246.2L1181.2,1246.2L1183.9,1246.2L1183.9,1248.4L1186.6,1248.4L1186.6,1253.2L1189.3,1253.2L1189.3,1244.6L1192.0,1244.6L1192.0,1242.1L1194.7,1242.1L1194.7,1242.1L1197.4,1242.1L1197.4,1237.5L1200.1,1237.5L1200.1,1237.4L1202.8,1237.4L1202.8,1238.7L1205.5,1238.7L1205.5,1235.3L1208.2,1235.3L1208.2,1231.3L1210.9,1231.3L1210.9,1218.9L1213.6,1218.9L1213.6,1218.9L1216.3,1218.9L1216.3,1222.3L1219.0,1222.3L1219.0,1210.1L1221.7,1210.1L1221.7,1210.1L1224.4,1210.1L1224.4,1218.0L1227.1,1218.0L1227.1,1221.3L1229.8,1221.3L1229.8,1209.6L1232.5,1209.6L1232.5,1209.6L1235.2,1209.6L1235.2,1213.0L1237.9,1213.0L1237.9,1208.9L1240.6,1208.9L1240.6,1206.9L1243.3,1206.9L1243.3,1205.2L1246.0,1205.2L1246.0,1205.2L1248.7,1205.2L1248.7,1206.5L1251.4,1206.5L1251.4,1195.8L1254.1,1195.8L1254.1,1195.8L1256.8,1195.8L1256.8,1201.8L1259.5,1201.8L1259.5,1196.7L1262.2,1196.7L1262.2,1191.0L1264.9,1191.0L1264.9,1191.0L1267.6,1191.0L1267.6,1188.6L1270.3,1188.6L1270.3,1184.7L1273.0,1184.7L1273.0,1182.9L1275.7,1182.9L1275.7,1179.9L1278.4,1179.9L1278.4,1179.9L1281.1,1179.9L1281.1,1180.0L1283.8,1180.0L1283.8,1172.5L1286.5,1172.5L1286.5,1171.2L1289.2,1171.2L1289.2,1171.4L1291.9,1171.4L1291.9,1163.6L1294.6,1163.6L1294.6,1159.8L1297.3,1159.8L1297.3,1159.8L1300.0,1159.8L1300.0,1155.0L1302.7,1155.0L1302.7,1153.6L1305.4,1153.6L1305.4,1150.9L1308.1,1150.9L1308.1,1147.4L1310.8,1147.4L1310.8,1147.4L1313.5,1147.4L1313.5,1150.2L1316.2,1150.2L1316.2,1132.7L1318.9,1132.7L1318.9,1131.2L1321.6,1131.2L1321.6,1127.2L1324.3,1127.2L1324.3,1122.1L1327.0,1122.1L1327.0,1122.1L1329.7,1122.1L1329.7,1123.7L1332.4,1123.7L1332.4,1118.8L1335.1,1118.8L1335.1,1112.6L1337.8,1112.6L1337.8,1110.5L1340.5,1110.5L1340.5,1100.6L1343.2,1100.6L1343.2,1096.8L1345.9,1096.8L1345.9,1096.8L1348.6,1096.8L1348.6,1093.1L1351.3,1093.1L1351.3,1092.2L1354.0,1092.2L1354.0,1083.0L1356.7,1083.0L1356.7,1075.3L1359.4,1075.3L1359.4,1075.3L1362.1,1075.3L1362.1,1072.6L1364.8,1072.6L1364.8,1072.6L1367.5,1072.6L1367.5,1075.9L1370.2,1075.9L1370.2,1062.2L1372.9,1062.2L1372.9,1061.8L1375.6,1061.8L1375.6,1049.1L1378.3,1049.1L1378.3,1049.1L1381.0,1049.1L1381.0,1045.1L1383.7,1045.1L1383.7,1044.9L1386.4,1044.9L1386.4,1038.7L1389.1,1038.7L1389.1,1031.1L1391.8,1031.1L1391.8,1018.7L1394.5,1018.7L1394.5,1017.9L1397.2,1017.9L1397.2,1017.9L1399.9,1017.9L1399.9,1009.2L1402.6,1009.2L1402.6,1004.4L1405.3,1004.4L1405.3,995.2L1408.0,995.2L1408.0,995.2L1410.7,995.2L1410.7,992.4L1413.4,992.4L1413.4,981.8L1416.1,981.8L1416.1,981.8L1418.8,981.8L1418.8,982.0L1421.5,982.0L1421.5,976.9L1424.2,976.9L1424.2,971.0L1426.9,971.0L1426.9,954.1L1429.6,954.1L1429.6,954.1L1432.3,954.1L1432.3,950.3L1435.0,950.3L1435.0,948.5L1437.7,948.5L1437.7,953.0L1440.4,953.0L1440.4,929.1L1443.1,929.1L1443.1,929.1L1445.8,929.1L1445.8,935.4L1448.5,935.4L1448.5,935.4L1451.2,935.4L1451.2,934.5L1453.9,934.5L1453.9,932.6L1456.6,932.6L1456.6,922.7L1459.3,922.7L1459.3,913.0L1462.0,913.0L1462.0,913.0L1464.7,913.0L1464.7,909.0L1467.4,909.0L1467.4,899.1L1470.1,899.1L1470.1,899.1L1472.8,899.1L1472.8,902.4L1475.5,902.4L1475.5,907.7L1478.2,907.7L1478.2,907.7L1480.9,907.7L1480.9,901.4L1483.6,901.4L1483.6,896.4L1486.3,896.4L1486.3,895.5L1489.0,895.5L1489.0,895.0L1491.7,895.0L1491.7,882.2L1494.4,882.2L1494.4,882.2L1497.1,882.2L1497.1,886.0L1499.8,886.0L1499.8,880.3L1502.5,880.3L1502.5,870.9L1505.2,870.9L1505.2,870.9L1507.9,870.9L1507.9,868.6L1510.6,868.6L1510.6,867.7L1513.3,867.7L1513.3,867.7L1516.0,867.7L1516.0,863.4L1518.7,863.4L1518.7,854.6L1521.4,854.6L1521.4,850.6L1524.1,850.6L1524.1,850.9L1526.8,850.9L1526.8,859.1L1529.5,859.1L1529.5,859.1L1532.2,859.1L1532.2,862.8L1534.9,862.8L1534.9,861.6L1537.6,861.6L1537.6,860.6L1540.3,860.6L1540.3,859.7L1543.0,859.7L1543.0,858.9L1545.7,858.9L1545.7,835.8L1548.4,835.8L1548.4,835.8L1551.1,835.8L1551.1,834.0L1553.8,834.0L1553.8,834.0L1556.5,834.0L1556.5,848.8L1559.2,848.8L1559.2,845.7L1561.9,845.7L1561.9,845.7L1564.6,845.7L1564.6,848.5L1567.3,848.5L1567.3,848.5L1570.0,848.5L1570.0,833.7L1572.7,833.7L1572.7,824.9L1575.4,824.9L1575.4,824.9L1578.1,824.9L1578.1,845.4L1580.8,845.4L1580.8,845.4L1583.5,845.4L1583.5,844.6L1586.2,844.6L1586.2,844.6L1588.9,844.6L1588.9,839.7L1591.6,839.7L1591.6,839.7L1594.3,839.7L1594.3,847.1L1597.0,847.1L1597.0,870.2L1599.7,870.2L1599.7,849.3L1602.4,849.3L1602.4,849.3L1605.1,849.3L1605.1,866.1L1607.8,866.1L1607.8,862.3L1610.5,862.3L1610.5,862.3L1613.2,862.3L1613.2,876.1L1615.9,876.1L1615.9,862.4L1618.6,862.4L1618.6,862.4L1621.3,862.4L1621.3,882.8L1624.0,882.8L1624.0,887.8L1626.7,887.8L1626.7,893.7L1629.4,893.7L1629.4,906.0L1632.1,906.0L1632.1,913.3L1634.8,913.3L1634.8,907.6L1637.5,907.6L1637.5,907.6L1640.2,907.6L1640.2,919.2L1642.9,919.2L1642.9,919.2L1645.6,919.2L1645.6,924.0L1648.3,924.0L1648.3,926.3L1651.0,926.3L1651.0,929.8L1653.7,929.8L1653.7,929.8L1656.4,929.8L1656.4,949.6L1659.1,949.6L1659.1,958.4L1661.8,958.4L1661.8,957.4L1664.5,957.4L1664.5,957.4L1667.2,957.4L1667.2,955.3L1669.9,955.3L1669.9,955.3L1672.6,955.3L1672.6,965.6L1675.3,965.6L1675.3,965.6L1678.0,965.6L1678.0,983.5L1680.7,983.5L1680.7,987.7L1683.4,987.7L1683.4,987.7L1686.1,987.7L1686.1,986.5L1688.8,986.5L1688.8,986.5L1691.5,986.5L1691.5,997.0L1694.2,997.0L1694.2,1010.0L1696.9,1010.0L1696.9,1000.9L1699.6,1000.9L1699.6,1000.9L1702.3,1000.9L1702.3,1002.8L1705.0,1002.8L1705.0,1026.5L1707.7,1026.5L1707.7,1026.7L1710.4,1026.7L1710.4,1026.7L1713.1,1026.7L1713.1,1032.3L1715.8,1032.3L1715.8,1032.3L1718.5,1032.3L1718.5,1037.8L1721.2,1037.8L1721.2,1056.3L1723.9,1056.3L1723.9,1057.6L1726.6,1057.6L1726.6,1057.6L1729.3,1057.6L1729.3,1067.8L1732.0,1067.8L1732.0,1069.9L1734.7,1069.9L1734.7,1069.9L1737.4,1069.9L1737.4,1079.2L1740.1,1079.2L1740.1,1088.0L1742.8,1088.0L1742.8,1089.1L1745.5,1089.1L1745.5,1094.9L1748.2,1094.9L1748.2,1102.8L1750.9,1102.8L1750.9,1099.1L1753.6,1099.1L1753.6,1099.1L1756.3,1099.1L1756.3,1118.0L1759.0,1118.0L1759.0,1121.1L1761.7,1121.1L1761.7,1121.1L1764.4,1121.1L1764.4,1131.3L1767.1,1131.3L1767.1,1128.0L1769.8,1128.0L1769.8,1128.0L1772.5,1128.0L1772.5,1130.8L1775.2,1130.8L1775.2,1130.8L1777.9,1130.8L1777.9,1143.9L1780.6,1143.9L1780.6,1143.9L1783.3,1143.9L1783.3,1149.1L1786.0,1149.1L1786.0,1152.8L1788.7,1152.8L1788.7,1157.3L1791.4,1157.3L1791.4,1165.7L1794.1,1165.7L1794.1,1175.9L1796.8,1175.9L1796.8,1174.5L1799.5,1174.5L1799.5,1174.5L1802.2,1174.5L1802.2,1179.3L1804.9,1179.3L1804.9,1187.2L1807.6,1187.2L1807.6,1184.2L1810.3,1184.2L1810.3,1184.2L1813.0,1184.2L1813.0,1202.9L1815.7,1202.9L1815.7,1202.9L1818.4,1202.9L1818.4,1205.2L1821.1,1205.2L1821.1,1208.0L1823.8,1208.0L1823.8,1207.3L1826.5,1207.3L1826.5,1207.3L1829.2,1207.3L1829.2,1217.8L1831.9,1217.8L1831.9,1227.4L1834.6,1227.4L1834.6,1227.0L1837.3,1227.0L1837.3,1225.6L1840.0,1225.6L1840.0,1225.6L1842.7,1225.6L1842.7,1240.4L1845.4,1240.4L1845.4,1248.9L1848.1,1248.9L1848.1,1241.8L1850.8,1241.8L1850.8,1241.8L1853.5,1241.8L1853.5,1243.3L1856.2,1243.3L1856.2,1245.4L1858.9,1245.4L1858.9,1258.0L1861.6,1258.0L1861.6,1258.0L1864.3,1258.0L1864.3,1255.2L1867.0,1255.2L1867.0,1255.2L1869.7,1255.2L1869.7,1256.6L1872.4,1256.6L1872.4,1270.2L1875.1,1270.2L1875.1,1263.8L1877.8,1263.8L1877.8,1257.9L1880.5,1257.9L1880.5,1257.9L1883.2,1257.9L1883.2,1266.6L1885.9,1266.6L1885.9,1275.1L1888.6,1275.1L1888.6,1276.7L1891.3,1276.7L1891.3,1279.1L1894.0,1279.1L1894.0,1278.0L1896.7,1278.0L1896.7,1278.0L1899.4,1278.0L1899.4,1286.5L1902.1,1286.5L1902.1,1288.6L1904.8,1288.6L1904.8,1289.4L1907.5,1289.4L1907.5,1292.8L1910.2,1292.8L1910.2,1292.8L1912.9,1292.8L1912.9,1300.3L1915.6,1300.3L1915.6,1300.3L1918.3,1300.3L1918.3,1301.7L1921.0,1301.7L1921.0,1300.2L1923.7,1300.2L1923.7,1300.2L1926.4,1300.2L1926.4,1301.8L1929.1,1301.8L1929.1,1301.8L1931.8,1301.8L1931.8,1310.0L1934.5,1310.0L1934.5,1311.2L1937.2,1311.2L1937.2,1311.2L1939.9,1311.2L1939.9,1311.1L1942.6,1311.1L1942.6,1311.1L1945.3,1311.1L1945.3,1320.1L1948.0,1320.1L1948.0,1323.2L1950.7,1323.2L1950.7,1325.2L1953.4,1325.2L1953.4,1324.7L1956.1,1324.7L1956.1,1324.9L1958.8,1324.9L1958.8,1328.1L1961.5,1328.1L1961.5,1328.1L1964.2,1328.1L1964.2,1331.9L1966.9,1331.9L1966.9,1331.9L1969.6,1331.9L1969.6,1336.0L1972.3,1336.0L1972.3,1335.2L1975.0,1335.2L1975.0,1335.2L1977.7,1335.2L1977.7,1348.9L1980.4,1348.9L1980.4,1348.9L1983.1,1348.9L1983.1,1352.1L1985.8,1352.1L1985.8,1352.4L1988.5,1352.4L1988.5,1355.1L1991.2,1355.1L1991.2,1355.5L1993.9,1355.5L1993.9,1350.6L1996.6,1350.6L1996.6,1350.6L1999.3,1350.6L1999.3,1353.0L2002.0,1353.0L2002.0,1359.6L2004.7,1359.6L2004.7,1356.6L2007.4,1356.6L2007.4,1354.3L2010.1,1354.3L2010.1,1354.3L2012.8,1354.3L2012.8,1360.0L2015.5,1360.0L2015.5,1360.9L2018.2,1360.9L2018.2,1360.9L2020.9,1360.9L2020.9,1359.8L2023.6,1359.8L2023.6,1356.5L2026.3,1356.5L2026.3,1356.5L2029.0,1356.5L2029.0,1363.7L2031.7,1363.7L2031.7,1359.8L2034.4,1359.8L2034.4,1359.8L2037.1,1359.8L2037.1,1363.8L2039.8,1363.8L2039.8,1362.6L2042.5,1362.6L2042.5,1362.6L2045.2,1362.6L2045.2,1367.7L2047.9,1367.7L2047.9,1368.4L2050.6,1368.4L2050.6,1370.2L2053.3,1370.2L2053.3,1374.8L2056.0,1374.8L2056.0,1376.2L2058.7,1376.2L2058.7,1371.1L2061.4,1371.1L2061.4,1371.1L2064.1,1371.1L2064.1,1380.1L2066.8,1380.1L2066.8,1385.2L2069.5,1385.2L2069.5,1381.5L2072.2,1381.5L2072.2,1381.5L2074.9,1381.5L2074.9,1387.0L2077.6,1387.0L2077.6,1387.0L2080.3,1387.0L2080.3,1378.4L2083.0,1378.4L2083.0,1378.4L2085.7,1378.4L2085.7,1388.4L2088.4,1388.4L2088.4,1393.7L2091.1,1393.7L2091.1,1394.6L2093.8,1394.6L2093.8,1394.6L2096.5,1394.6L2096.5,1399.0L2099.2,1399.0L2099.2,1395.4L2101.9,1395.4L2101.9,1395.1L2104.6,1395.1L2104.6,1395.3L2107.3,1395.3L2107.3,1400.0L2110.0,1400.0L2110.0,1399.2L2112.7,1399.2L2112.7,1398.0L2115.4,1398.0L2115.4,1398.0L2118.1,1398.0L2118.1,1400.0L2120.8,1400.0L2120.8,1398.8L2123.5,1398.8L2123.5,1398.8L2126.2,1398.8L2126.2,1400.3L2128.9,1400.3L2128.9,1398.7L2131.6,1398.7L2131.6,1398.7L2134.3,1398.7L2134.3,1398.8L2137.0,1398.8L2137.0,1401.6L2139.7,1401.6L2139.7,1401.6L2142.4,1401.6L2142.4,1405.7L2145.1,1405.7L2145.1,1405.7L2147.8,1405.7L2147.8,1409.6L2150.5,1409.6L2150.5,1414.1L2153.2,1414.1L2153.2,1413.4L2155.9,1413.4L2155.9,1407.4L2158.6,1407.4L2158.6,1407.4L2161.3,1407.4L2161.3,1409.9L2164.0,1409.9L2164.0,1410.6L2166.7,1410.6L2166.7,1410.6L2169.4,1410.6L2169.4,1411.2L2172.1,1411.2L2172.1,1413.8L2174.8,1413.8L2174.8,1408.7L2177.5,1408.7L2177.5,1408.7L2180.2,1408.7L2180.2,1419.7L2182.9,1419.7L2182.9,1419.7L2185.6,1419.7L2185.6,1418.2L2188.3,1418.2L2188.3,1418.2L2191.0,1418.2L2191.0,1421.0L2193.7,1421.0L2193.7,1420.5L2196.4,1420.5L2196.4,1420.5L2199.1,1420.5L2199.1,1421.1L2201.8,1421.1L2201.8,1424.9L2204.5,1424.9L2204.5,1422.6L2207.2,1422.6L2207.2,1422.6L2209.9,1422.6L2209.9,1418.1L2212.6,1418.1L2212.6,1418.1L2215.3,1418.1L2215.3,1425.9L2218.0,1425.9L2218.0,1424.6L2220.7,1424.6L2220.7,1423.1L2223.4,1423.1L2223.4,1424.8L2226.1,1424.8L2226.1,1430.0L2228.8,1430.0L2228.8,1430.0L2231.5,1430.0L2231.5,1430.2L2234.2,1430.2L2234.2,1429.5L2236.9,1429.5L2236.9,1429.5L2239.6,1429.5L2239.6,1428.6L2242.3,1428.6L2242.3,1428.6L2245.0,1428.6L2245.0,1427.5L2247.7,1427.5L2247.7,1427.5L2250.4,1427.5L2250.4,1433.5L2253.1,1433.5L2253.1,1433.4L2255.8,1433.4L2255.8,1433.9L2258.5,1433.9L2258.5,1431.2L2261.2,1431.2L2261.2,1431.2L2263.9,1431.2L2263.9,1430.7L2266.6,1430.7L2266.6,1430.7L2269.3,1430.7L2269.3,1432.9L2272.0,1432.9L2272.0,1437.9L2274.7,1437.9L2274.7,1436.9L2277.4,1436.9L2277.4,1436.9L2280.1,1436.9L2280.1,1429.6L2282.8,1429.6L2282.8,1429.6L2285.5,1429.6L2285.5,1440.9L2288.2,1440.9L2288.2,1436.5L2290.9,1436.5L2290.9,1436.5L2293.6,1436.5L2293.6,1440.5L2296.3,1440.5L2296.3,1440.5L2299.0,1440.5L2299.0,1442.7L2301.7,1442.7L2301.7,1444.3L2304.4,1444.3L2304.4,1445.0L2307.1,1445.0L2307.1,1445.3L2309.8,1445.3L2309.8,1444.8L2312.5,1444.8L2312.5,1444.8L2315.2,1444.8L2315.2,1449.5L2317.9,1449.5L2317.9,1449.5L2320.6,1449.5L2320.6,1450.5L2323.3,1450.5L2323.3,1447.4L2326.0,1447.4L2326.0,1447.4L2328.7,1447.4L2328.7,1452.0L2331.4,1452.0L2331.4,1452.0L2333.0,1452.0L2333.0,1461.4L2331.4,1461.4L2331.4,1463.2L2328.7,1463.2L2328.7,1466.0L2326.0,1466.0L2326.0,1467.7L2323.3,1467.7L2323.3,1467.7L2320.6,1467.7L2320.6,1459.8L2317.9,1459.8L2317.9,1461.6L2315.2,1461.6L2315.2,1461.6L2312.5,1461.6L2312.5,1459.4L2309.8,1459.4L2309.8,1459.1L2307.1,1459.1L2307.1,1457.0L2304.4,1457.0L2304.4,1452.6L2301.7,1452.6L2301.7,1454.8L2299.0,1454.8L2299.0,1454.8L2296.3,1454.8L2296.3,1453.3L2293.6,1453.3L2293.6,1453.3L2290.9,1453.3L2290.9,1451.7L2288.2,1451.7L2288.2,1453.5L2285.5,1453.5L2285.5,1453.2L2282.8,1453.2L2282.8,1448.9L2280.1,1448.9L2280.1,1448.9L2277.4,1448.9L2277.4,1448.3L2274.7,1448.3L2274.7,1448.5L2272.0,1448.5L2272.0,1447.3L2269.3,1447.3L2269.3,1443.2L2266.6,1443.2L2266.6,1443.3L2263.9,1443.3L2263.9,1443.3L2261.2,1443.3L2261.2,1451.4L2258.5,1451.4L2258.5,1451.4L2255.8,1451.4L2255.8,1443.0L2253.1,1443.0L2253.1,1444.6L2250.4,1444.6L2250.4,1444.6L2247.7,1444.6L2247.7,1443.0L2245.0,1443.0L2245.0,1442.0L2242.3,1442.0L2242.3,1441.6L2239.6,1441.6L2239.6,1440.0L2236.9,1440.0L2236.9,1441.2L2234.2,1441.2L2234.2,1442.2L2231.5,1442.2L2231.5,1444.5L2228.8,1444.5L2228.8,1444.5L2226.1,1444.5L2226.1,1440.2L2223.4,1440.2L2223.4,1440.2L2220.7,1440.2L2220.7,1440.3L2218.0,1440.3L2218.0,1440.4L2215.3,1440.4L2215.3,1440.4L2212.6,1440.4L2212.6,1434.7L2209.9,1434.7L2209.9,1436.6L2207.2,1436.6L2207.2,1437.7L2204.5,1437.7L2204.5,1436.5L2201.8,1436.5L2201.8,1434.4L2199.1,1434.4L2199.1,1430.8L2196.4,1430.8L2196.4,1436.4L2193.7,1436.4L2193.7,1436.4L2191.0,1436.4L2191.0,1433.5L2188.3,1433.5L2188.3,1430.1L2185.6,1430.1L2185.6,1430.8L2182.9,1430.8L2182.9,1430.8L2180.2,1430.8L2180.2,1427.9L2177.5,1427.9L2177.5,1436.5L2174.8,1436.5L2174.8,1436.7L2172.1,1436.7L2172.1,1434.8L2169.4,1434.8L2169.4,1424.8L2166.7,1424.8L2166.7,1423.1L2164.0,1423.1L2164.0,1430.0L2161.3,1430.0L2161.3,1430.0L2158.6,1430.0L2158.6,1422.3L2155.9,1422.3L2155.9,1422.6L2153.2,1422.6L2153.2,1422.3L2150.5,1422.3L2150.5,1422.0L2147.8,1422.0L2147.8,1426.9L2145.1,1426.9L2145.1,1426.9L2142.4,1426.9L2142.4,1422.7L2139.7,1422.7L2139.7,1416.1L2137.0,1416.1L2137.0,1415.4L2134.3,1415.4L2134.3,1412.2L2131.6,1412.2L2131.6,1415.3L2128.9,1415.3L2128.9,1415.3L2126.2,1415.3L2126.2,1408.3L2123.5,1408.3L2123.5,1413.7L2120.8,1413.7L2120.8,1413.7L2118.1,1413.7L2118.1,1413.3L2115.4,1413.3L2115.4,1412.1L2112.7,1412.1L2112.7,1412.1L2110.0,1412.1L2110.0,1409.5L2107.3,1409.5L2107.3,1409.9L2104.6,1409.9L2104.6,1408.1L2101.9,1408.1L2101.9,1407.2L2099.2,1407.2L2099.2,1409.5L2096.5,1409.5L2096.5,1410.8L2093.8,1410.8L2093.8,1410.8L2091.1,1410.8L2091.1,1405.7L2088.4,1405.7L2088.4,1409.5L2085.7,1409.5L2085.7,1409.5L2083.0,1409.5L2083.0,1411.7L2080.3,1411.7L2080.3,1411.7L2077.6,1411.7L2077.6,1402.8L2074.9,1402.8L2074.9,1403.2L2072.2,1403.2L2072.2,1398.9L2069.5,1398.9L2069.5,1398.9L2066.8,1398.9L2066.8,1396.3L2064.1,1396.3L2064.1,1389.9L2061.4,1389.9L2061.4,1386.7L2058.7,1386.7L2058.7,1389.0L2056.0,1389.0L2056.0,1389.7L2053.3,1389.7L2053.3,1388.4L2050.6,1388.4L2050.6,1381.0L2047.9,1381.0L2047.9,1381.3L2045.2,1381.3L2045.2,1381.3L2042.5,1381.3L2042.5,1381.8L2039.8,1381.8L2039.8,1381.8L2037.1,1381.8L2037.1,1378.7L2034.4,1378.7L2034.4,1375.3L2031.7,1375.3L2031.7,1375.3L2029.0,1375.3L2029.0,1374.2L2026.3,1374.2L2026.3,1373.7L2023.6,1373.7L2023.6,1376.6L2020.9,1376.6L2020.9,1376.6L2018.2,1376.6L2018.2,1369.4L2015.5,1369.4L2015.5,1371.0L2012.8,1371.0L2012.8,1371.0L2010.1,1371.0L2010.1,1369.6L2007.4,1369.6L2007.4,1375.2L2004.7,1375.2L2004.7,1375.2L2002.0,1375.2L2002.0,1372.6L1999.3,1372.6L1999.3,1368.4L1996.6,1368.4L1996.6,1366.1L1993.9,1366.1L1993.9,1367.2L1991.2,1367.2L1991.2,1367.3L1988.5,1367.3L1988.5,1367.3L1985.8,1367.3L1985.8,1364.0L1983.1,1364.0L1983.1,1360.0L1980.4,1360.0L1980.4,1363.1L1977.7,1363.1L1977.7,1363.1L1975.0,1363.1L1975.0,1350.3L1972.3,1350.3L1972.3,1348.0L1969.6,1348.0L1969.6,1347.2L1966.9,1347.2L1966.9,1350.9L1964.2,1350.9L1964.2,1350.9L1961.5,1350.9L1961.5,1352.7L1958.8,1352.7L1958.8,1352.7L1956.1,1352.7L1956.1,1335.0L1953.4,1335.0L1953.4,1339.3L1950.7,1339.3L1950.7,1339.3L1948.0,1339.3L1948.0,1331.4L1945.3,1331.4L1945.3,1328.3L1942.6,1328.3L1942.6,1326.0L1939.9,1326.0L1939.9,1326.0L1937.2,1326.0L1937.2,1326.5L1934.5,1326.5L1934.5,1330.1L1931.8,1330.1L1931.8,1330.1L1929.1,1330.1L1929.1,1320.2L1926.4,1320.2L1926.4,1320.2L1923.7,1320.2L1923.7,1318.8L1921.0,1318.8L1921.0,1320.7L1918.3,1320.7L1918.3,1320.7L1915.6,1320.7L1915.6,1309.4L1912.9,1309.4L1912.9,1309.4L1910.2,1309.4L1910.2,1313.7L1907.5,1313.7L1907.5,1314.1L1904.8,1314.1L1904.8,1309.3L1902.1,1309.3L1902.1,1299.0L1899.4,1299.0L1899.4,1299.0L1896.7,1299.0L1896.7,1297.5L1894.0,1297.5L1894.0,1297.5L1891.3,1297.5L1891.3,1288.2L1888.6,1288.2L1888.6,1288.2L1885.9,1288.2L1885.9,1292.4L1883.2,1292.4L1883.2,1292.4L1880.5,1292.4L1880.5,1284.2L1877.8,1284.2L1877.8,1284.2L1875.1,1284.2L1875.1,1290.6L1872.4,1290.6L1872.4,1290.6L1869.7,1290.6L1869.7,1274.2L1867.0,1274.2L1867.0,1274.2L1864.3,1274.2L1864.3,1270.3L1861.6,1270.3L1861.6,1271.2L1858.9,1271.2L1858.9,1271.2L1856.2,1271.2L1856.2,1268.8L1853.5,1268.8L1853.5,1253.0L1850.8,1253.0L1850.8,1257.9L1848.1,1257.9L1848.1,1257.9L1845.4,1257.9L1845.4,1255.6L1842.7,1255.6L1842.7,1253.0L1840.0,1253.0L1840.0,1246.4L1837.3,1246.4L1837.3,1245.2L1834.6,1245.2L1834.6,1242.3L1831.9,1242.3L1831.9,1241.1L1829.2,1241.1L1829.2,1238.6L1826.5,1238.6L1826.5,1230.7L1823.8,1230.7L1823.8,1226.0L1821.1,1226.0L1821.1,1225.2L1818.4,1225.2L1818.4,1230.4L1815.7,1230.4L1815.7,1230.4L1813.0,1230.4L1813.0,1210.5L1810.3,1210.5L1810.3,1210.3L1807.6,1210.3L1807.6,1203.5L1804.9,1203.5L1804.9,1201.6L1802.2,1201.6L1802.2,1194.9L1799.5,1194.9L1799.5,1191.1L1796.8,1191.1L1796.8,1189.2L1794.1,1189.2L1794.1,1186.2L1791.4,1186.2L1791.4,1183.0L1788.7,1183.0L1788.7,1183.0L1786.0,1183.0L1786.0,1174.8L1783.3,1174.8L1783.3,1170.9L1780.6,1170.9L1780.6,1169.5L1777.9,1169.5L1777.9,1169.5L1775.2,1169.5L1775.2,1157.1L1772.5,1157.1L1772.5,1153.2L1769.8,1153.2L1769.8,1152.7L1767.1,1152.7L1767.1,1152.7L1764.4,1152.7L1764.4,1146.4L1761.7,1146.4L1761.7,1144.5L1759.0,1144.5L1759.0,1139.5L1756.3,1139.5L1756.3,1133.7L1753.6,1133.7L1753.6,1123.4L1750.9,1123.4L1750.9,1127.6L1748.2,1127.6L1748.2,1127.6L1745.5,1127.6L1745.5,1105.4L1742.8,1105.4L1742.8,1099.8L1740.1,1099.8L1740.1,1098.6L1737.4,1098.6L1737.4,1093.8L1734.7,1093.8L1734.7,1088.8L1732.0,1088.8L1732.0,1088.8L1729.3,1088.8L1729.3,1082.7L1726.6,1082.7L1726.6,1074.4L1723.9,1074.4L1723.9,1075.1L1721.2,1075.1L1721.2,1071.8L1718.5,1071.8L1718.5,1064.2L1715.8,1064.2L1715.8,1050.9L1713.1,1050.9L1713.1,1050.9L1710.4,1050.9L1710.4,1044.8L1707.7,1044.8L1707.7,1044.8L1705.0,1044.8L1705.0,1040.4L1702.3,1040.4L1702.3,1032.3L1699.6,1032.3L1699.6,1032.3L1696.9,1032.3L1696.9,1022.5L1694.2,1022.5L1694.2,1021.7L1691.5,1021.7L1691.5,1016.6L1688.8,1016.6L1688.8,1005.5L1686.1,1005.5L1686.1,1006.4L1683.4,1006.4L1683.4,1006.4L1680.7,1006.4L1680.7,1000.9L1678.0,1000.9L1678.0,992.7L1675.3,992.7L1675.3,987.7L1672.6,987.7L1672.6,987.7L1669.9,987.7L1669.9,982.7L1667.2,982.7L1667.2,982.6L1664.5,982.6L1664.5,972.4L1661.8,972.4L1661.8,974.5L1659.1,974.5L1659.1,974.5L1656.4,974.5L1656.4,967.5L1653.7,967.5L1653.7,960.5L1651.0,960.5L1651.0,960.5L1648.3,960.5L1648.3,948.1L1645.6,948.1L1645.6,940.4L1642.9,940.4L1642.9,939.4L1640.2,939.4L1640.2,937.4L1637.5,937.4L1637.5,927.2L1634.8,927.2L1634.8,925.5L1632.1,925.5L1632.1,926.7L1629.4,926.7L1629.4,926.7L1626.7,926.7L1626.7,917.8L1624.0,917.8L1624.0,913.4L1621.3,913.4L1621.3,898.9L1618.6,898.9L1618.6,916.1L1615.9,916.1L1615.9,916.1L1613.2,916.1L1613.2,904.2L1610.5,904.2L1610.5,901.1L1607.8,901.1L1607.8,887.0L1605.1,887.0L1605.1,890.4L1602.4,890.4L1602.4,898.1L1599.7,898.1L1599.7,898.1L1597.0,898.1L1597.0,887.8L1594.3,887.8L1594.3,869.1L1591.6,869.1L1591.6,872.5L1588.9,872.5L1588.9,875.3L1586.2,875.3L1586.2,886.8L1583.5,886.8L1583.5,886.8L1580.8,886.8L1580.8,881.0L1578.1,881.0L1578.1,881.0L1575.4,881.0L1575.4,863.4L1572.7,863.4L1572.7,865.5L1570.0,865.5L1570.0,868.0L1567.3,868.0L1567.3,867.6L1564.6,867.6L1564.6,872.9L1561.9,872.9L1561.9,872.9L1559.2,872.9L1559.2,865.7L1556.5,865.7L1556.5,863.7L1553.8,863.7L1553.8,882.3L1551.1,882.3L1551.1,887.6L1548.4,887.6L1548.4,887.6L1545.7,887.6L1545.7,884.3L1543.0,884.3L1543.0,884.3L1540.3,884.3L1540.3,881.5L1537.6,881.5L1537.6,891.1L1534.9,891.1L1534.9,891.1L1532.2,891.1L1532.2,875.1L1529.5,875.1L1529.5,873.4L1526.8,873.4L1526.8,873.4L1524.1,873.4L1524.1,870.4L1521.4,870.4L1521.4,907.0L1518.7,907.0L1518.7,907.0L1516.0,907.0L1516.0,895.6L1513.3,895.6L1513.3,898.3L1510.6,898.3L1510.6,898.3L1507.9,898.3L1507.9,903.3L1505.2,903.3L1505.2,908.7L1502.5,908.7L1502.5,905.3L1499.8,905.3L1499.8,902.0L1497.1,902.0L1497.1,902.0L1494.4,902.0L1494.4,913.4L1491.7,913.4L1491.7,923.6L1489.0,923.6L1489.0,923.6L1486.3,923.6L1486.3,924.7L1483.6,924.7L1483.6,929.7L1480.9,929.7L1480.9,939.8L1478.2,939.8L1478.2,939.8L1475.5,939.8L1475.5,935.5L1472.8,935.5L1472.8,935.5L1470.1,935.5L1470.1,932.2L1467.4,932.2L1467.4,932.2L1464.7,932.2L1464.7,930.4L1462.0,930.4L1462.0,940.6L1459.3,940.6L1459.3,940.6L1456.6,940.6L1456.6,942.4L1453.9,942.4L1453.9,954.7L1451.2,954.7L1451.2,961.4L1448.5,961.4L1448.5,961.4L1445.8,961.4L1445.8,954.6L1443.1,954.6L1443.1,967.5L1440.4,967.5L1440.4,975.5L1437.7,975.5L1437.7,975.5L1435.0,975.5L1435.0,972.7L1432.3,972.7L1432.3,976.4L1429.6,976.4L1429.6,1002.4L1426.9,1002.4L1426.9,1002.4L1424.2,1002.4L1424.2,1007.0L1421.5,1007.0L1421.5,1007.0L1418.8,1007.0L1418.8,999.6L1416.1,999.6L1416.1,1005.3L1413.4,1005.3L1413.4,1007.6L1410.7,1007.6L1410.7,1010.2L1408.0,1010.2L1408.0,1029.2L1405.3,1029.2L1405.3,1029.2L1402.6,1029.2L1402.6,1039.4L1399.9,1039.4L1399.9,1039.4L1397.2,1039.4L1397.2,1042.7L1394.5,1042.7L1394.5,1050.3L1391.8,1050.3L1391.8,1058.1L1389.1,1058.1L1389.1,1068.5L1386.4,1068.5L1386.4,1068.5L1383.7,1068.5L1383.7,1081.6L1381.0,1081.6L1381.0,1081.6L1378.3,1081.6L1378.3,1077.5L1375.6,1077.5L1375.6,1087.9L1372.9,1087.9L1372.9,1089.9L1370.2,1089.9L1370.2,1102.9L1367.5,1102.9L1367.5,1105.0L1364.8,1105.0L1364.8,1105.0L1362.1,1105.0L1362.1,1104.8L1359.4,1104.8L1359.4,1104.8L1356.7,1104.8L1356.7,1105.4L1354.0,1105.4L1354.0,1108.5L1351.3,1108.5L1351.3,1109.7L1348.6,1109.7L1348.6,1114.6L1345.9,1114.6L1345.9,1114.6L1343.2,1114.6L1343.2,1122.2L1340.5,1122.2L1340.5,1123.9L1337.8,1123.9L1337.8,1128.1L1335.1,1128.1L1335.1,1137.0L1332.4,1137.0L1332.4,1137.1L1329.7,1137.1L1329.7,1137.1L1327.0,1137.1L1327.0,1138.7L1324.3,1138.7L1324.3,1146.9L1321.6,1146.9L1321.6,1152.0L1318.9,1152.0L1318.9,1161.6L1316.2,1161.6L1316.2,1161.6L1313.5,1161.6L1313.5,1166.1L1310.8,1166.1L1310.8,1166.1L1308.1,1166.1L1308.1,1169.7L1305.4,1169.7L1305.4,1169.7L1302.7,1169.7L1302.7,1170.5L1300.0,1170.5L1300.0,1170.4L1297.3,1170.4L1297.3,1182.5L1294.6,1182.5L1294.6,1187.6L1291.9,1187.6L1291.9,1187.6L1289.2,1187.6L1289.2,1188.8L1286.5,1188.8L1286.5,1190.9L1283.8,1190.9L1283.8,1200.3L1281.1,1200.3L1281.1,1200.3L1278.4,1200.3L1278.4,1196.6L1275.7,1196.6L1275.7,1201.7L1273.0,1201.7L1273.0,1202.5L1270.3,1202.5L1270.3,1205.9L1267.6,1205.9L1267.6,1205.9L1264.9,1205.9L1264.9,1208.0L1262.2,1208.0L1262.2,1214.4L1259.5,1214.4L1259.5,1214.4L1256.8,1214.4L1256.8,1226.2L1254.1,1226.2L1254.1,1232.7L1251.4,1232.7L1251.4,1232.3L1248.7,1232.3L1248.7,1222.1L1246.0,1222.1L1246.0,1225.5L1243.3,1225.5L1243.3,1232.7L1240.6,1232.7L1240.6,1232.7L1237.9,1232.7L1237.9,1231.2L1235.2,1231.2L1235.2,1230.4L1232.5,1230.4L1232.5,1235.1L1229.8,1235.1L1229.8,1239.9L1227.1,1239.9L1227.1,1239.9L1224.4,1239.9L1224.4,1236.4L1221.7,1236.4L1221.7,1235.6L1219.0,1235.6L1219.0,1235.6L1216.3,1235.6L1216.3,1242.6L1213.6,1242.6L1213.6,1252.2L1210.9,1252.2L1210.9,1252.2L1208.2,1252.2L1208.2,1251.7L1205.5,1251.7L1205.5,1251.6L1202.8,1251.6L1202.8,1252.7L1200.1,1252.7L1200.1,1257.7L1197.4,1257.7L1197.4,1258.4L1194.7,1258.4L1194.7,1260.4L1192.0,1260.4L1192.0,1268.2L1189.3,1268.2L1189.3,1273.0L1186.6,1273.0L1186.6,1273.7L1183.9,1273.7L1183.9,1275.8L1181.2,1275.8L1181.2,1275.8L1178.5,1275.8L1178.5,1274.7L1175.8,1274.7L1175.8,1275.9L1173.1,1275.9L1173.1,1276.8L1170.4,1276.8L1170.4,1276.5L1167.7,1276.5L1167.7,1272.3L1165.0,1272.3L1165.0,1279.3L1162.3,1279.3L1162.3,1287.7L1159.6,1287.7L1159.6,1287.7L1156.9,1287.7L1156.9,1285.7L1154.2,1285.7L1154.2,1284.4L1151.5,1284.4L1151.5,1283.6L1148.8,1283.6L1148.8,1281.2L1146.1,1281.2L1146.1,1289.4L1143.4,1289.4L1143.4,1289.4L1140.7,1289.4L1140.7,1289.2L1138.0,1289.2L1138.0,1287.6L1135.3,1287.6L1135.3,1297.5L1132.6,1297.5L1132.6,1297.5L1129.9,1297.5L1129.9,1290.7L1127.2,1290.7L1127.2,1291.9L1124.5,1291.9L1124.5,1292.2L1121.8,1292.2L1121.8,1294.3L1119.1,1294.3L1119.1,1295.9L1116.4,1295.9L1116.4,1295.8L1113.7,1295.8L1113.7,1296.4L1111.0,1296.4L1111.0,1304.8L1108.3,1304.8L1108.3,1304.8L1105.6,1304.8L1105.6,1295.6L1102.9,1295.6L1102.9,1305.7L1100.2,1305.7L1100.2,1305.7L1097.5,1305.7L1097.5,1300.7L1094.8,1300.7L1094.8,1297.1L1092.1,1297.1L1092.1,1308.4L1089.4,1308.4L1089.4,1308.4L1086.7,1308.4L1086.7,1303.9L1084.0,1303.9L1084.0,1300.9L1081.3,1300.9L1081.3,1303.7L1078.6,1303.7L1078.6,1303.8L1075.9,1303.8L1075.9,1307.4L1073.2,1307.4L1073.2,1307.4L1070.5,1307.4L1070.5,1305.4L1067.8,1305.4L1067.8,1304.9L1065.1,1304.9L1065.1,1302.6L1062.4,1302.6L1062.4,1311.4L1059.7,1311.4L1059.7,1311.4L1057.0,1311.4L1057.0,1307.3L1054.3,1307.3L1054.3,1308.3L1051.6,1308.3L1051.6,1306.0L1048.9,1306.0L1048.9,1309.2L1046.2,1309.2L1046.2,1309.2L1043.5,1309.2L1043.5,1300.8L1040.8,1300.8L1040.8,1307.2L1038.1,1307.2L1038.1,1307.4L1035.4,1307.4L1035.4,1307.2L1032.7,1307.2L1032.7,1306.5L1030.0,1306.5L1030.0,1306.5L1027.3,1306.5L1027.3,1310.8L1024.6,1310.8L1024.6,1313.4L1021.9,1313.4L1021.9,1313.4L1019.2,1313.4L1019.2,1308.8L1016.5,1308.8L1016.5,1308.8L1013.8,1308.8L1013.8,1309.0L1011.1,1309.0L1011.1,1309.0L1008.4,1309.0L1008.4,1303.8L1005.7,1303.8L1005.7,1303.9L1003.0,1303.9L1003.0,1307.5L1000.3,1307.5L1000.3,1312.8L997.6,1312.8L997.6,1312.8L994.9,1312.8L994.9,1309.7L992.2,1309.7L992.2,1310.3L989.5,1310.3L989.5,1311.0L986.8,1311.0L986.8,1312.3L984.1,1312.3L984.1,1312.3L981.4,1312.3L981.4,1307.2L978.7,1307.2L978.7,1306.6L976.0,1306.6L976.0,1303.7L973.3,1303.7L973.3,1303.7L970.6,1303.7L970.6,1307.3L967.9,1307.3L967.9,1309.6L965.2,1309.6L965.2,1313.5L962.5,1313.5L962.5,1313.5L959.8,1313.5L959.8,1312.8L957.1,1312.8L957.1,1309.8L954.4,1309.8L954.4,1315.6L951.7,1315.6L951.7,1316.8L949.0,1316.8L949.0,1319.4L946.3,1319.4L946.3,1319.4L943.6,1319.4L943.6,1312.3L940.9,1312.3L940.9,1312.3L938.2,1312.3L938.2,1315.0L935.5,1315.0L935.5,1317.5L932.8,1317.5L932.8,1323.9L930.1,1323.9L930.1,1323.9L927.4,1323.9L927.4,1315.9L924.7,1315.9L924.7,1315.9L922.0,1315.9L922.0,1323.4L919.3,1323.4L919.3,1325.6L916.6,1325.6L916.6,1332.0L913.9,1332.0L913.9,1332.0L911.2,1332.0L911.2,1320.0L908.5,1320.0L908.5,1327.7L905.8,1327.7L905.8,1327.7L903.1,1327.7L903.1,1334.1L900.4,1334.1L900.4,1334.1L897.7,1334.1L897.7,1332.8L895.0,1332.8L895.0,1337.5L892.3,1337.5L892.3,1337.5L889.6,1337.5L889.6,1338.4L886.9,1338.4L886.9,1343.6L884.2,1343.6L884.2,1345.0L881.5,1345.0L881.5,1345.0L878.8,1345.0L878.8,1346.4L876.1,1346.4L876.1,1346.4L873.4,1346.4L873.4,1352.5L870.7,1352.5L870.7,1354.3L868.0,1354.3L868.0,1358.3L865.3,1358.3L865.3,1358.3L862.6,1358.3L862.6,1351.9L859.9,1351.9L859.9,1351.9L857.2,1351.9L857.2,1356.4L854.5,1356.4L854.5,1361.7L851.8,1361.7L851.8,1363.3L849.1,1363.3L849.1,1363.3L846.4,1363.3L846.4,1359.3L843.7,1359.3L843.7,1363.5L841.0,1363.5L841.0,1367.9L838.3,1367.9L838.3,1368.4L835.6,1368.4L835.6,1371.5L832.9,1371.5L832.9,1373.0L830.2,1373.0L830.2,1373.0L827.5,1373.0L827.5,1373.7L824.8,1373.7L824.8,1378.2L822.1,1378.2L822.1,1378.2L819.4,1378.2L819.4,1378.1L816.7,1378.1L816.7,1380.7L814.0,1380.7L814.0,1385.6L811.3,1385.6L811.3,1393.3L808.6,1393.3L808.6,1396.5L805.9,1396.5L805.9,1400.4L803.2,1400.4L803.2,1400.4L800.5,1400.4L800.5,1399.0L797.8,1399.0L797.8,1402.0L795.1,1402.0L795.1,1402.0L792.4,1402.0L792.4,1401.0L789.7,1401.0L789.7,1413.5L787.0,1413.5L787.0,1413.5L784.3,1413.5L784.3,1418.3L781.6,1418.3L781.6,1418.3L778.9,1418.3L778.9,1418.1L776.2,1418.1L776.2,1426.7L773.5,1426.7L773.5,1426.7L770.8,1426.7L770.8,1425.7L768.1,1425.7L768.1,1425.7L765.4,1425.7L765.4,1429.9L762.7,1429.9L762.7,1432.0L760.0,1432.0L760.0,1434.0L757.3,1434.0L757.3,1436.8L754.6,1436.8L754.6,1440.8L751.9,1440.8L751.9,1449.2L749.2,1449.2L749.2,1449.2L746.5,1449.2L746.5,1450.2L743.8,1450.2L743.8,1450.2L741.1,1450.2L741.1,1452.3L738.4,1452.3L738.4,1460.5L735.7,1460.5L735.7,1463.7L733.0,1463.7L733.0,1463.4L730.3,1463.4L730.3,1463.6L727.6,1463.6L727.6,1464.8L724.9,1464.8L724.9,1464.8L722.2,1464.8L722.2,1471.0L719.5,1471.0L719.5,1472.0L716.8,1472.0L716.8,1475.2L714.1,1475.2L714.1,1475.6L711.4,1475.6L711.4,1481.1L708.7,1481.1L708.7,1481.1L706.0,1481.1L706.0,1478.9L703.3,1478.9L703.3,1482.8L700.6,1482.8L700.6,1488.1L697.9,1488.1L697.9,1488.1L695.2,1488.1L695.2,1488.8L692.5,1488.8L692.5,1488.8L689.8,1488.8L689.8,1490.5L687.1,1490.5L687.1,1499.4L684.4,1499.4L684.4,1499.4L681.7,1499.4L681.7,1498.3L679.0,1498.3L679.0,1501.5L676.3,1501.5L676.3,1501.5L673.6,1501.5L673.6,1503.8L670.9,1503.8L670.9,1508.0L668.2,1508.0L668.2,1509.6L665.5,1509.6L665.5,1509.6L662.8,1509.6L662.8,1518.0L660.1,1518.0L660.1,1518.0L657.4,1518.0L657.4,1513.1L654.7,1513.1L654.7,1516.6L652.0,1516.6L652.0,1517.1L649.3,1517.1L649.3,1517.1L646.6,1517.1L646.6,1520.2L643.9,1520.2L643.9,1521.2L641.2,1521.2L641.2,1521.5L638.5,1521.5L638.5,1522.6L635.8,1522.6L635.8,1522.6L633.1,1522.6L633.1,1524.9L630.4,1524.9L630.4,1525.8L627.7,1525.8L627.7,1525.8L625.0,1525.8L625.0,1528.5L622.3,1528.5L622.3,1528.5L619.6,1528.5L619.6,1532.3L616.9,1532.3L616.9,1532.3L614.2,1532.3L614.2,1532.7L611.5,1532.7L611.5,1532.7L608.8,1532.7L608.8,1529.2L606.1,1529.2L606.1,1527.8L603.4,1527.8L603.4,1532.7L600.7,1532.7L600.7,1533.6L598.0,1533.6L598.0,1536.0L595.3,1536.0L595.3,1537.9L592.6,1537.9L592.6,1540.1L589.9,1540.1L589.9,1540.1L587.2,1540.1L587.2,1539.6L584.5,1539.6L584.5,1541.3L581.8,1541.3L581.8,1543.0L579.1,1543.0L579.1,1545.3L576.4,1545.3L576.4,1545.3L573.7,1545.3L573.7,1542.1L571.0,1542.1L571.0,1543.9L568.3,1543.9L568.3,1544.0L565.6,1544.0L565.6,1547.6L562.9,1547.6L562.9,1549.0L560.2,1549.0L560.2,1549.0L557.5,1549.0L557.5,1546.9L554.8,1546.9L554.8,1549.3L552.1,1549.3L552.1,1550.5L549.4,1550.5L549.4,1550.4L546.7,1550.4L546.7,1550.1L544.0,1550.1L544.0,1549.9L541.3,1549.9L541.3,1551.6L538.6,1551.6L538.6,1551.9L535.9,1551.9L535.9,1551.2L533.2,1551.2L533.2,1552.3L530.5,1552.3L530.5,1552.3L527.8,1552.3L527.8,1553.0L525.1,1553.0L525.1,1558.4L522.4,1558.4L522.4,1558.4L519.7,1558.4L519.7,1556.1L517.0,1556.1L517.0,1558.0L514.3,1558.0L514.3,1558.0L511.6,1558.0L511.6,1557.7L508.9,1557.7L508.9,1557.7L506.2,1557.7L506.2,1558.1L503.5,1558.1L503.5,1560.7L500.8,1560.7L500.8,1560.7L498.1,1560.7L498.1,1560.5L495.4,1560.5L495.4,1559.3L492.7,1559.3L492.7,1558.9L490.0,1558.9L490.0,1560.6L487.3,1560.6L487.3,1560.6L484.6,1560.6L484.6,1563.3L481.9,1563.3L481.9,1563.3L479.2,1563.3L479.2,1562.5L476.5,1562.5L476.5,1562.5L473.8,1562.5L473.8,1563.0L471.1,1563.0L471.1,1563.1L468.4,1563.1L468.4,1562.3L465.7,1562.3L465.7,1562.7L463.0,1562.7L463.0,1562.7L460.3,1562.7L460.3,1563.1L457.6,1563.1L457.6,1563.1L454.9,1563.1L454.9,1562.9L452.2,1562.9L452.2,1563.1L449.5,1563.1L449.5,1563.1L446.8,1563.1L446.8,1565.7L444.1,1565.7L444.1,1566.5L441.4,1566.5L441.4,1566.5L438.7,1566.5L438.7,1564.8L436.0,1564.8L436.0,1564.7L433.3,1564.7L433.3,1566.0L430.6,1566.0L430.6,1567.1L427.9,1567.1L427.9,1567.1L425.2,1567.1L425.2,1566.0L422.5,1566.0L422.5,1564.7L419.8,1564.7L419.8,1565.1L417.1,1565.1L417.1,1565.0L414.4,1565.0L414.4,1568.2L411.7,1568.2L411.7,1568.4L409.0,1568.4L409.0,1568.4L406.3,1568.4L406.3,1568.3L403.6,1568.3L403.6,1568.0L400.9,1568.0L400.9,1567.8L398.2,1567.8L398.2,1567.1L395.5,1567.1L395.5,1567.1L392.8,1567.1L392.8,1565.9L390.1,1565.9L390.1,1566.9L387.4,1566.9L387.4,1567.0L384.7,1567.0L384.7,1566.3L382.0,1566.3L382.0,1565.5L379.3,1565.5L379.3,1567.0L376.6,1567.0L376.6,1568.8L373.9,1568.8L373.9,1568.8L371.2,1568.8L371.2,1568.1L368.5,1568.1L368.5,1568.1L365.8,1568.1L365.8,1566.4L363.1,1566.4L363.1,1568.2L360.4,1568.2L360.4,1568.3L357.7,1568.3L357.7,1568.3L355.0,1568.3L355.0,1568.0L352.3,1568.0L352.3,1568.3L349.6,1568.3L349.6,1568.4L346.9,1568.4L346.9,1569.8L344.2,1569.8L344.2,1569.8L341.5,1569.8L341.5,1567.3L338.8,1567.3L338.8,1566.9L336.1,1566.9L336.1,1568.1L333.4,1568.1L333.4,1569.6L330.7,1569.6L330.7,1569.6L328.0,1569.6L328.0,1567.9L325.3,1567.9L325.3,1568.5L322.6,1568.5L322.6,1568.5L319.9,1568.5L319.9,1567.1L317.2,1567.1L317.2,1568.2L314.5,1568.2L314.5,1569.9L311.8,1569.9L311.8,1569.9L309.1,1569.9L309.1,1568.2L306.4,1568.2L306.4,1570.2L303.7,1570.2L303.7,1570.5L301.0,1570.5L301.0,1570.1L298.3,1570.1L298.3,1570.1L295.6,1570.1L295.6,1569.7L292.9,1569.7L292.9,1571.5L290.2,1571.5L290.2,1571.5L287.5,1571.5L287.5,1569.8L284.8,1569.8L284.8,1569.6L282.1,1569.6L282.1,1569.1L279.4,1569.1L279.4,1569.1L276.7,1569.1Z" fill="#000000" stroke="none"/>
<line x1="1566.3" y1="246.7" x2="1566.3" y2="1587" stroke="#111" stroke-width="5" stroke-dasharray="25.5 27.06"/>
<line x1="259.5" y1="44" x2="2335.5" y2="44" stroke="#1a1a1a" stroke-width="4.6"/>
<line x1="276" y1="41.7" x2="276" y2="1579" stroke="#1a1a1a" stroke-width="5"/>
<line x1="244.5" y1="1576.5" x2="2335.5" y2="1576.5" stroke="#1a1a1a" stroke-width="5"/>
<line x1="2333.2" y1="41.7" x2="2333.2" y2="1607.5" stroke="#1a1a1a" stroke-width="5"/>
<line x1="260" y1="1437.0" x2="276" y2="1437.0" stroke="#1a1a1a" stroke-width="4.6"/>
<line x1="244.5" y1="1297.6" x2="276" y2="1297.6" stroke="#1a1a1a" stroke-width="4.6"/>
<line x1="260" y1="1158.1" x2="276" y2="1158.1" stroke="#1a1a1a" stroke-width="4.6"/>
<line x1="244.5" y1="1018.6" x2="276" y2="1018.6" stroke="#1a1a1a" stroke-width="4.6"/>
<line x1="260" y1="879.1" x2="276" y2="879.1" stroke="#1a1a1a" stroke-width="4.6"/>
<line x1="244.5" y1="739.7" x2="276" y2="739.7" stroke="#1a1a1a" stroke-width="4.6"/>
<line x1="260" y1="600.2" x2="276" y2="600.2" stroke="#1a1a1a" stroke-width="4.6"/>
<line x1="244.5" y1="460.7" x2="276" y2="460.7" stroke="#1a1a1a" stroke-width="4.6"/>
<line x1="260" y1="321.3" x2="276" y2="321.3" stroke="#1a1a1a" stroke-width="4.6"/>
<line x1="244.5" y1="181.8" x2="276" y2="181.8" stroke="#1a1a1a" stroke-width="4.6"/>
<line x1="313.4" y1="1576.5" x2="313.4" y2="1592.5" stroke="#1a1a1a" stroke-width="4.6"/>
<line x1="497.0" y1="1576.5" x2="497.0" y2="1607.5" stroke="#1a1a1a" stroke-width="4.6"/>
<line x1="680.6" y1="1576.5" x2="680.6" y2="1592.5" stroke="#1a1a1a" stroke-width="4.6"/>
<line x1="864.2" y1="1576.5" x2="864.2" y2="1607.5" stroke="#1a1a1a" stroke-width="4.6"/>
<line x1="1047.8" y1="1576.5" x2="1047.8" y2="1592.5" stroke="#1a1a1a" stroke-width="4.6"/>
<line x1="1231.4" y1="1576.5" x2="1231.4" y2="1607.5" stroke="#1a1a1a" stroke-width="4.6"/>
<line x1="1415.0" y1="1576.5" x2="1415.0" y2="1592.5" stroke="#1a1a1a" stroke-width="4.6"/>
<line x1="1598.6" y1="1576.5" x2="1598.6" y2="1607.5" stroke="#1a1a1a" stroke-width="4.6"/>
<line x1="1782.2" y1="1576.5" x2="1782.2" y2="1592.5" stroke="#1a1a1a" stroke-width="4.6"/>
<line x1="1965.8" y1="1576.5" x2="1965.8" y2="1607.5" stroke="#1a1a1a" stroke-width="4.6"/>
<line x1="2149.4" y1="1576.5" x2="2149.4" y2="1592.5" stroke="#1a1a1a" stroke-width="4.6"/>
<text transform="translate(497.0,1699) scale(1,1.025)" font-size="93" text-anchor="middle">5</text>
<text transform="translate(864.2,1699) scale(1,1.025)" font-size="93" text-anchor="middle">10</text>
<rect x="818.38" y="1691.48" width="17.50" height="8.72" fill="#fff"/>
<rect x="844.10" y="1691.48" width="16.78" height="8.72" fill="#fff"/>
<text transform="translate(1231.4,1699) scale(1,1.025)" font-size="93" text-anchor="middle">15</text>
<rect x="1185.57" y="1691.48" width="17.50" height="8.72" fill="#fff"/>
<rect x="1211.29" y="1691.48" width="16.78" height="8.72" fill="#fff"/>
<text transform="translate(1598.6,1699) scale(1,1.025)" font-size="93" text-anchor="middle">20</text>
<text transform="translate(1965.8,1699) scale(1,1.025)" font-size="93" text-anchor="middle">25</text>
<text transform="translate(2333.0,1699) scale(1,1.025)" font-size="93" text-anchor="middle">30</text>
<text x="1202.3" y="1854" font-size="119">2</text>
<text x="1269.5" y="1854" font-size="119" font-style="italic" stroke="#fff" stroke-width="1.2">θ</text>
<text x="1361.8" y="1853" font-size="115.5" stroke="#fff" stroke-width="3">(</text>
<text x="1398.1" y="1799.4" font-size="76" stroke="#fff" stroke-width="2.3">o</text>
<text x="1444.3" y="1853" font-size="115.5" stroke="#fff" stroke-width="3">)</text>
<text transform="translate(128.7,1174.1) rotate(-90)" x="0" y="0" font-size="115.5">Intensity <tspan stroke="#fff" stroke-width="2.2">(</tspan>a.u<tspan stroke="#fff" stroke-width="2.2">)</tspan></text>
<rect x="293.5" y="58.7" width="780" height="480.8" fill="none" stroke="#7a7a7a" stroke-width="2.6"/>
<line x1="316.5" y1="108.5" x2="497" y2="108.5" stroke="#c455cc" stroke-width="5.2"/>
<text transform="translate(515.3,135.3) scale(1,1.04)" font-size="79.4">PS/orgMMTOO</text>
<line x1="316.5" y1="205.2" x2="497" y2="205.2" stroke="#23239a" stroke-width="5.2"/>
<text transform="translate(515.3,232.0) scale(1,1.04)" font-size="79.4">PS/orgMMTBO</text>
<line x1="316.5" y1="301.9" x2="497" y2="301.9" stroke="#4fd04f" stroke-width="5.2"/>
<text transform="translate(515.3,328.7) scale(1,1.04)" font-size="79.4">PS/orgMMTTO</text>
<line x1="316.5" y1="398.6" x2="497" y2="398.6" stroke="#c44848" stroke-width="5.2"/>
<text transform="translate(515.3,425.4) scale(1,1.04)" font-size="79.4">PS/orgMMT</text>
<line x1="316.5" y1="495.3" x2="497" y2="495.3" stroke="#151515" stroke-width="5.2"/>
<text transform="translate(515.3,522.1) scale(1,1.04)" font-size="79.4">PS</text>
</svg></body></html>
